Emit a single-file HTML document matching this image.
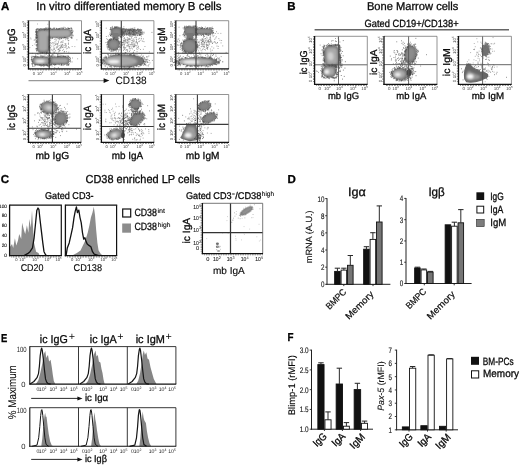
<!DOCTYPE html>
<html lang="en">
<head>
<meta charset="utf-8">
<title>Figure</title>
<style>
html,body{margin:0;padding:0;background:#fff;}
body{width:520px;height:466px;overflow:hidden;}
svg{display:block;font-family:"Liberation Sans", "DejaVu Sans", sans-serif;}
svg text{white-space:pre;text-rendering:geometricPrecision;}
</style>
</head>
<body>
<svg width="520" height="466" viewBox="0 0 520 466">
<rect x="0" y="0" width="520" height="466" fill="#ffffff"/>
<g opacity="0.999">
<defs>
<filter id="b1" x="-30%" y="-30%" width="160%" height="160%"><feGaussianBlur stdDeviation="0.8"/></filter>
<filter id="b2" x="-40%" y="-40%" width="180%" height="180%"><feGaussianBlur stdDeviation="1.1"/></filter>
<filter id="b0" x="-10%" y="-10%" width="120%" height="120%"><feGaussianBlur stdDeviation="0.45"/></filter>
<marker id="ah" markerWidth="6" markerHeight="5" refX="5" refY="2.5" orient="auto" markerUnits="userSpaceOnUse"><path d="M0 0L6 2.5L0 5z" fill="#111"/></marker>
</defs>
<text x="0.90" y="10.00" font-size="11.5" font-weight="bold" fill="#000" stroke="#000" stroke-width="0.3">A</text>
<text x="36.30" y="10.00" font-size="11.6" textLength="185.30" lengthAdjust="spacingAndGlyphs" fill="#0a0a0a" stroke="#0a0a0a" stroke-width="0.3">In vitro differentiated memory B cells</text>
<path d="M57.3 47.3h.1M57.5 43.6h.1M53.0 44.0h.1M66.2 46.9h.1M65.7 46.1h.1M61.6 45.8h.1M48.2 48.8h.1M62.3 47.2h.1M48.0 37.2h.1M53.2 42.9h.1M61.0 44.8h.1M62.4 42.1h.1M61.0 46.8h.1M54.7 52.7h.1M62.6 50.4h.1M55.0 41.7h.1M56.8 44.5h.1M63.1 46.1h.1M56.1 40.7h.1M55.6 50.5h.1M53.7 46.1h.1M61.8 38.3h.1M59.3 50.9h.1M45.9 43.6h.1M58.3 41.3h.1M62.2 44.7h.1M49.5 48.7h.1M63.4 49.3h.1M68.4 46.6h.1M59.8 39.2h.1M63.0 42.2h.1M56.1 39.3h.1M52.7 42.6h.1M67.4 35.9h.1M49.5 46.1h.1M68.4 47.6h.1M46.7 33.7h.1M61.3 41.7h.1M51.7 49.4h.1M66.2 45.7h.1M60.6 47.0h.1M69.4 47.8h.1M62.4 47.5h.1M48.8 50.8h.1M65.2 47.4h.1M46.2 42.1h.1M64.5 36.8h.1M57.8 49.6h.1M50.5 52.2h.1M62.6 44.3h.1M61.1 47.9h.1M59.8 50.2h.1M54.7 43.1h.1M65.8 45.1h.1M53.3 49.3h.1M68.5 43.0h.1M50.0 44.4h.1M58.0 43.7h.1M68.1 40.4h.1M67.2 39.3h.1M53.9 47.8h.1M66.3 48.9h.1M61.2 45.6h.1M60.0 47.6h.1M57.9 46.2h.1M62.7 45.0h.1M64.0 47.5h.1M72.1 46.5h.1M56.2 43.3h.1M58.9 49.2h.1M56.8 46.7h.1M70.9 33.5h.1M51.7 46.1h.1M61.6 46.1h.1M56.2 47.9h.1M60.8 42.7h.1M74.8 46.6h.1M55.4 44.6h.1M57.5 44.7h.1M41.3 42.8h.1M65.6 39.7h.1M58.6 49.3h.1M64.6 51.7h.1M47.9 43.4h.1M56.8 47.8h.1M66.1 32.9h.1M66.1 38.5h.1M63.4 38.3h.1M60.1 50.4h.1M58.0 45.9h.1M64.2 45.6h.1M58.4 51.9h.1M65.8 43.7h.1M76.8 39.8h.1M64.9 43.8h.1M59.9 48.2h.1M60.4 47.9h.1M49.1 38.2h.1M63.0 40.7h.1M52.3 38.4h.1M67.2 48.4h.1M68.6 40.8h.1M59.0 39.9h.1M64.0 52.2h.1M53.2 52.0h.1M65.4 44.2h.1M46.2 51.3h.1M58.4 42.3h.1M61.6 46.8h.1M68.7 40.4h.1M66.4 51.7h.1M68.4 44.2h.1M54.2 49.6h.1M59.7 45.6h.1M68.3 43.8h.1M44.1 43.3h.1M46.9 48.7h.1M61.1 42.2h.1M58.9 48.7h.1M59.5 51.0h.1M58.6 49.7h.1M68.7 52.2h.1M54.6 49.0h.1M46.8 40.1h.1M46.2 49.8h.1" stroke="#808080" stroke-width="0.70" stroke-linecap="round" fill="none"/>
<path d="M36.6 44.9h.1M42.8 44.8h.1M40.5 46.9h.1M54.7 45.4h.1M47.2 53.0h.1M42.8 34.9h.1M40.7 53.6h.1M34.1 40.2h.1M50.0 51.3h.1M44.0 51.4h.1M45.0 35.6h.1M34.6 39.9h.1M49.5 40.5h.1M38.6 38.8h.1M34.8 44.1h.1M36.9 47.9h.1M29.8 47.6h.1M40.2 29.5h.1M48.3 42.8h.1M30.6 38.0h.1M45.7 41.3h.1M48.7 51.0h.1M48.0 47.6h.1M52.0 50.3h.1M46.7 28.3h.1M49.4 55.5h.1M42.2 41.2h.1M55.6 30.9h.1M46.8 64.4h.1M38.4 50.5h.1M55.3 44.0h.1M47.4 52.2h.1M38.6 44.3h.1M45.8 51.6h.1M43.8 43.4h.1M37.9 42.1h.1M49.4 45.8h.1M38.9 38.3h.1M60.0 54.1h.1M47.8 24.3h.1M47.7 48.8h.1M54.1 48.4h.1M43.6 49.2h.1M32.3 53.3h.1M45.9 39.4h.1M52.0 59.5h.1M35.6 39.7h.1M45.7 46.5h.1M41.6 37.2h.1M56.7 53.3h.1M36.8 34.2h.1M54.2 52.9h.1M54.9 51.5h.1M38.8 47.1h.1M31.0 39.0h.1M43.6 49.2h.1M39.6 44.0h.1M46.8 48.0h.1M47.8 46.7h.1M42.1 51.3h.1M44.3 38.4h.1M40.2 45.0h.1M43.3 46.3h.1M44.0 46.4h.1M43.2 34.9h.1M46.5 53.4h.1M46.6 43.5h.1M46.7 37.3h.1M32.6 45.5h.1M38.4 50.9h.1M37.5 24.0h.1M37.8 57.6h.1M41.7 34.0h.1M39.4 49.2h.1M47.0 46.4h.1M52.9 50.7h.1M43.9 49.8h.1M53.9 52.8h.1M50.1 36.3h.1M43.1 50.8h.1M42.2 53.6h.1M47.6 52.3h.1M42.7 65.4h.1M51.4 43.3h.1M44.5 65.8h.1M41.9 52.0h.1M49.9 45.1h.1M37.0 46.5h.1M46.2 54.0h.1M48.7 45.2h.1" stroke="#888" stroke-width="0.70" stroke-linecap="round" fill="none"/>
<path d="M61.4 61.9h.1M54.3 60.2h.1M49.3 62.5h.1M40.4 57.7h.1M52.1 54.7h.1M47.2 52.8h.1M44.5 62.0h.1M58.2 59.8h.1M49.4 54.9h.1M72.1 61.9h.1M64.0 56.8h.1M50.0 53.4h.1M60.6 63.4h.1M31.1 59.8h.1M58.9 53.7h.1M31.9 56.2h.1M45.1 54.9h.1M52.3 60.9h.1M59.0 62.5h.1M68.5 64.2h.1M37.6 58.2h.1M40.3 56.1h.1M51.1 60.0h.1M57.4 54.3h.1M38.4 59.9h.1M49.8 58.9h.1M51.3 57.3h.1M59.7 61.3h.1M51.0 57.6h.1M50.1 50.2h.1M41.2 60.1h.1M35.5 60.7h.1M53.6 55.0h.1M49.2 58.9h.1M57.1 62.2h.1M51.6 56.9h.1M50.4 59.8h.1M60.1 61.1h.1M44.1 55.1h.1M47.9 57.3h.1M39.8 59.6h.1M46.6 60.4h.1M57.8 58.5h.1M77.6 58.8h.1M64.1 60.4h.1M64.3 51.4h.1M43.7 60.9h.1M55.5 64.6h.1M60.4 63.4h.1M57.6 59.4h.1M57.6 56.1h.1M65.0 56.3h.1M54.7 67.6h.1M49.5 60.1h.1M64.8 60.1h.1M43.1 60.9h.1M58.4 62.6h.1M43.5 66.3h.1M70.3 60.1h.1M55.0 58.5h.1M67.6 57.5h.1M59.4 58.3h.1M44.4 62.6h.1M66.7 60.0h.1M44.5 62.9h.1M51.5 61.1h.1M68.8 64.1h.1M52.0 62.8h.1M44.9 59.8h.1M32.8 66.4h.1M67.0 55.6h.1M35.4 54.2h.1M64.9 58.3h.1M51.3 58.9h.1M50.7 56.1h.1M52.3 54.8h.1M51.2 61.1h.1M57.1 59.2h.1M42.1 60.6h.1M46.7 65.6h.1M60.4 59.6h.1M46.8 57.5h.1M41.7 58.7h.1M55.2 61.9h.1M58.3 67.6h.1M44.2 60.0h.1M46.3 60.6h.1M53.7 61.5h.1M49.4 61.3h.1M52.6 62.8h.1M31.2 56.8h.1M52.0 56.3h.1M40.5 62.3h.1M44.9 62.3h.1M60.2 61.1h.1M57.6 59.6h.1M36.5 59.9h.1M57.0 58.1h.1M50.9 62.7h.1M42.3 62.3h.1M72.5 58.0h.1M53.6 59.5h.1M68.9 61.1h.1M61.9 57.5h.1M51.8 60.0h.1M32.5 65.2h.1M61.9 53.7h.1M60.2 59.5h.1M56.9 61.3h.1M35.5 59.2h.1M68.4 57.9h.1M40.7 55.1h.1M38.6 61.2h.1M70.6 61.5h.1M46.3 57.6h.1M57.8 62.0h.1" stroke="#777" stroke-width="0.70" stroke-linecap="round" fill="none"/>
<rect x="36.60" y="29.00" width="35.20" height="8.80" rx="4.2" fill="#767676" filter="url(#b0)" transform="rotate(-1.5 54.20 33.40)"/>
<rect x="38.10" y="30.50" width="32.20" height="5.80" rx="2.70" fill="#a8a8a8" filter="url(#b1)" transform="rotate(-1.5 54.20 33.40)"/>
<path d="M48.7 37.9h.1M42.7 29.2h.1M38.9 38.6h.1M56.2 28.8h.1M45.6 38.4h.1M71.7 33.9h.1M35.9 34.7h.1M72.8 35.1h.1M57.1 29.1h.1M54.8 39.4h.1M63.5 28.1h.1M52.1 37.8h.1M71.6 30.3h.1M35.7 31.7h.1M56.4 28.5h.1M71.7 30.4h.1M52.8 38.0h.1M57.8 38.7h.1M37.2 38.6h.1M63.9 27.2h.1M64.9 37.4h.1M59.6 38.0h.1M62.4 28.2h.1M53.0 29.0h.1M56.1 28.2h.1M36.3 33.8h.1M49.4 28.9h.1M36.6 36.0h.1M49.0 29.1h.1M71.1 28.7h.1M71.8 38.0h.1M36.2 38.1h.1M36.5 32.2h.1M36.4 32.6h.1M58.4 38.5h.1M69.8 28.6h.1M69.4 28.6h.1M36.7 29.3h.1M61.1 28.0h.1M47.3 28.0h.1M36.7 35.1h.1M65.0 38.0h.1M65.0 37.5h.1M71.7 35.0h.1M69.3 28.4h.1M68.5 28.6h.1M71.7 37.9h.1M64.2 37.5h.1M60.2 37.6h.1M42.0 29.5h.1M36.7 31.2h.1M71.8 38.3h.1M66.3 28.6h.1M47.1 39.5h.1M59.6 28.9h.1M60.7 28.4h.1M36.8 29.6h.1M48.5 39.3h.1M36.3 33.3h.1M71.7 35.2h.1M36.2 34.5h.1M58.6 28.9h.1M73.2 31.1h.1M52.6 29.2h.1M63.3 37.5h.1M60.7 38.7h.1M46.2 38.1h.1M68.3 28.3h.1M61.6 37.8h.1M59.0 37.7h.1M58.2 28.9h.1M41.3 38.0h.1M65.1 27.5h.1M36.7 37.2h.1M59.8 28.8h.1M71.9 37.2h.1M55.2 38.1h.1M71.7 30.0h.1M47.3 38.3h.1M67.3 38.3h.1M51.2 38.7h.1M62.3 28.1h.1M42.6 38.7h.1M54.0 28.4h.1M58.3 29.1h.1M70.5 37.6h.1M43.6 38.2h.1M36.3 37.6h.1M37.4 38.2h.1M50.2 39.0h.1M36.3 37.5h.1M64.8 37.8h.1M66.7 37.4h.1M62.3 28.9h.1M47.0 28.7h.1M44.1 39.6h.1M35.8 32.1h.1M72.6 32.8h.1M59.4 28.8h.1M45.8 27.8h.1M45.2 38.2h.1M68.9 28.5h.1M48.9 29.2h.1M45.5 38.3h.1M50.1 37.7h.1M65.3 28.8h.1M52.4 37.9h.1M54.4 28.6h.1M62.7 37.6h.1M45.4 29.4h.1M71.2 27.8h.1M44.5 29.1h.1M50.9 29.0h.1M61.4 28.3h.1M63.5 28.4h.1M42.6 38.1h.1M67.9 27.6h.1M36.2 38.0h.1M68.5 28.5h.1M54.4 28.1h.1M37.0 29.0h.1M64.9 37.7h.1M72.1 29.1h.1M50.8 28.8h.1M37.8 28.7h.1M36.4 30.3h.1M44.3 29.0h.1M37.1 38.5h.1M49.3 29.1h.1M35.9 31.7h.1M46.0 28.1h.1M36.8 35.3h.1M53.8 28.0h.1M35.7 36.1h.1M73.2 35.8h.1M70.6 28.2h.1M35.8 29.9h.1M50.6 28.4h.1M61.9 37.5h.1M67.2 38.0h.1M65.7 37.5h.1M71.6 28.3h.1M38.3 38.3h.1M58.2 28.9h.1M56.5 37.7h.1M42.2 38.0h.1M59.4 38.8h.1M46.8 29.1h.1M45.5 38.8h.1M63.4 28.7h.1M72.2 30.3h.1M50.7 38.1h.1M71.7 32.7h.1M47.2 37.8h.1M71.8 36.4h.1M61.4 38.6h.1M72.0 33.7h.1M45.9 28.7h.1M47.8 29.1h.1M71.7 32.2h.1M37.6 39.0h.1M43.7 29.2h.1M57.3 37.7h.1M41.2 28.7h.1M37.1 39.3h.1M48.4 28.2h.1M68.2 38.4h.1M64.4 37.4h.1M53.5 28.4h.1M36.7 34.4h.1M36.1 30.9h.1M35.7 32.2h.1M42.2 28.8h.1M50.4 28.3h.1M71.6 37.3h.1M49.1 28.1h.1M36.9 38.5h.1M59.6 28.8h.1M37.2 38.1h.1M52.5 29.1h.1M50.7 28.3h.1M71.5 37.6h.1M51.3 29.2h.1M39.4 38.3h.1M48.7 38.6h.1M41.6 39.0h.1M43.8 38.1h.1M36.7 37.6h.1M48.2 38.7h.1M59.8 28.3h.1M36.3 37.4h.1M60.0 37.8h.1M72.1 32.3h.1M40.7 28.5h.1M64.9 37.3h.1M35.9 36.9h.1M44.3 38.2h.1M36.6 29.1h.1M39.5 29.0h.1M72.3 31.4h.1M37.8 38.3h.1M56.5 28.9h.1M50.2 37.8h.1M67.7 28.8h.1M45.8 29.1h.1M44.1 38.3h.1M44.6 38.1h.1M72.6 35.1h.1M48.3 28.9h.1M49.6 29.1h.1M44.9 28.5h.1M61.6 38.5h.1M71.5 28.7h.1M49.5 37.8h.1M42.2 38.5h.1M72.4 32.4h.1M36.7 32.7h.1M36.2 29.8h.1M40.3 28.9h.1M57.4 29.0h.1" stroke="#505050" stroke-width="0.55" stroke-linecap="round" fill="none"/>
<rect x="36.90" y="30.00" width="12.40" height="22.80" rx="4.5" fill="#767676" filter="url(#b0)"/>
<rect x="38.40" y="31.50" width="9.40" height="19.80" rx="3.00" fill="#a8a8a8" filter="url(#b1)"/>
<path d="M41.0 30.2h.1M40.5 52.7h.1M36.8 48.6h.1M44.5 53.0h.1M37.4 53.4h.1M49.2 29.2h.1M49.2 39.4h.1M36.9 45.0h.1M37.1 37.5h.1M37.0 41.8h.1M36.0 34.9h.1M49.3 49.5h.1M49.5 33.5h.1M39.6 29.9h.1M49.1 41.2h.1M36.0 41.9h.1M37.0 32.5h.1M50.0 48.3h.1M36.6 37.9h.1M46.9 52.7h.1M36.8 50.3h.1M38.0 28.8h.1M49.2 35.9h.1M35.9 48.9h.1M36.4 34.9h.1M50.4 40.7h.1M49.9 34.4h.1M36.6 31.2h.1M48.5 53.4h.1M37.0 41.5h.1M36.6 31.5h.1M36.5 33.4h.1M41.9 52.8h.1M45.5 53.1h.1M42.4 29.9h.1M38.8 30.0h.1M44.4 29.6h.1M46.9 29.9h.1M38.9 29.2h.1M46.3 52.9h.1M37.1 31.5h.1M43.3 52.9h.1M49.6 43.2h.1M35.9 45.1h.1M41.5 29.2h.1M36.0 48.9h.1M44.4 30.1h.1M39.3 29.9h.1M36.7 42.1h.1M36.2 40.5h.1M46.2 52.7h.1M43.8 29.9h.1M36.9 35.7h.1M49.7 47.4h.1M38.4 30.2h.1M36.5 32.8h.1M49.9 43.5h.1M37.2 54.2h.1M37.0 42.3h.1M49.2 46.7h.1M49.2 48.3h.1M36.5 32.0h.1M39.6 52.9h.1M43.3 28.8h.1M37.1 40.1h.1M49.1 31.8h.1M37.0 36.1h.1M49.1 52.2h.1M49.2 52.2h.1M49.5 52.4h.1M49.4 42.0h.1M36.6 48.8h.1M49.3 37.6h.1M50.2 52.7h.1M44.6 30.0h.1M36.9 37.9h.1M36.9 31.5h.1M50.1 42.6h.1M50.3 45.8h.1M43.0 29.3h.1M36.6 44.9h.1M49.2 36.1h.1M36.4 45.8h.1M37.1 44.6h.1M49.9 34.0h.1M36.9 35.5h.1M36.7 35.4h.1M49.6 40.6h.1M47.8 29.6h.1M36.2 34.6h.1M48.8 29.1h.1M42.5 53.1h.1M45.8 28.8h.1M49.4 34.4h.1M49.4 31.1h.1M36.1 41.8h.1M47.8 29.9h.1M49.5 40.6h.1M38.5 52.9h.1M49.6 30.9h.1M37.1 51.1h.1M36.8 50.2h.1M44.1 28.7h.1M35.8 38.4h.1M36.7 34.0h.1M46.6 52.8h.1M44.4 30.0h.1M39.3 29.5h.1M49.4 45.7h.1M36.9 53.6h.1M46.2 53.0h.1M44.2 52.7h.1M49.2 46.1h.1M50.6 47.9h.1M42.1 52.6h.1M49.8 33.7h.1M36.2 33.2h.1M36.3 31.7h.1M36.7 42.4h.1M50.0 49.6h.1M49.3 39.6h.1M49.3 47.1h.1M36.9 37.5h.1M50.1 35.2h.1M50.0 47.4h.1M49.4 46.4h.1M49.2 53.0h.1M47.8 52.8h.1M36.5 37.2h.1M36.6 51.0h.1M39.6 29.8h.1M37.0 37.4h.1M36.8 48.6h.1M42.1 52.6h.1M39.8 52.8h.1M46.7 53.4h.1M36.4 40.8h.1M37.0 49.1h.1M49.4 32.4h.1M36.5 36.1h.1M45.5 29.5h.1M40.9 30.1h.1M49.2 36.9h.1M49.2 47.1h.1M49.3 47.2h.1M49.7 36.3h.1M49.2 33.4h.1M38.8 54.3h.1M49.3 33.0h.1M49.8 32.5h.1M46.0 30.0h.1M46.4 53.9h.1M49.6 50.6h.1M36.9 50.3h.1M49.9 42.5h.1M36.1 39.9h.1M49.3 50.6h.1M45.7 29.4h.1M36.3 41.1h.1M50.2 36.4h.1M49.1 44.1h.1M49.8 30.7h.1M37.1 30.1h.1M49.7 34.8h.1M49.8 38.8h.1M46.6 52.7h.1M48.1 53.6h.1M35.9 42.6h.1M40.9 29.5h.1M35.8 37.6h.1M46.8 29.7h.1M38.0 29.3h.1M37.7 29.2h.1M49.4 35.2h.1M44.0 29.9h.1M36.7 37.1h.1" stroke="#505050" stroke-width="0.55" stroke-linecap="round" fill="none"/>
<rect x="38.6" y="31.0" width="31" height="5.0" rx="2.5" fill="#a8a8a8" filter="url(#b1)"/>
<rect x="32.40" y="56.80" width="17.60" height="8.20" rx="4.0" fill="#767676" filter="url(#b0)"/>
<rect x="33.90" y="58.30" width="14.60" height="5.20" rx="2.50" fill="#a8a8a8" filter="url(#b1)"/>
<ellipse cx="40.20" cy="61.30" rx="4.60" ry="1.70" fill="#f2f2f2" filter="url(#b1)"/>
<path d="M50.7 57.1h.1M47.5 66.0h.1M41.1 56.3h.1M46.9 65.4h.1M41.1 65.8h.1M49.9 65.6h.1M42.6 56.7h.1M44.9 65.6h.1M50.5 61.8h.1M46.0 56.4h.1M44.5 56.5h.1M35.4 56.4h.1M50.3 63.3h.1M50.4 64.9h.1M34.4 64.9h.1M50.0 64.9h.1M50.8 63.3h.1M50.0 65.2h.1M51.4 58.5h.1M36.3 56.1h.1M39.5 64.9h.1M38.1 64.9h.1M41.8 65.4h.1M32.3 64.1h.1M32.9 66.3h.1M34.1 56.9h.1M43.7 65.2h.1M32.1 57.9h.1M50.6 58.1h.1M46.4 64.9h.1M43.3 56.3h.1M35.2 65.1h.1M49.3 65.1h.1M51.1 60.0h.1M32.6 64.9h.1M31.8 63.7h.1M40.4 65.0h.1M48.8 56.4h.1M47.8 56.1h.1M47.1 65.3h.1M34.5 56.8h.1M34.7 66.2h.1M35.0 57.0h.1M42.2 56.9h.1M31.8 60.9h.1M47.3 65.4h.1M31.9 60.3h.1M38.9 65.4h.1M42.5 65.7h.1M43.4 56.4h.1M41.0 65.9h.1M37.6 56.7h.1M41.8 55.8h.1M32.3 60.6h.1M40.4 65.7h.1M47.2 65.8h.1M35.6 64.8h.1M50.4 61.0h.1M48.8 56.1h.1M32.2 61.6h.1M35.2 56.8h.1M38.5 56.9h.1M48.4 66.2h.1M50.5 62.2h.1M33.1 56.3h.1M32.0 61.8h.1M31.9 64.0h.1M37.7 56.9h.1M39.9 64.9h.1M33.2 56.6h.1M32.6 56.9h.1M32.3 63.3h.1M36.9 56.7h.1M33.3 56.7h.1M43.7 64.9h.1M42.1 55.9h.1M35.0 56.8h.1M31.5 57.5h.1M44.3 65.7h.1M43.2 65.3h.1M50.3 63.0h.1M32.4 63.2h.1M43.6 64.9h.1M40.2 64.8h.1M48.8 65.3h.1M44.2 65.1h.1M41.0 56.5h.1M35.5 56.4h.1M50.5 58.2h.1M41.5 65.1h.1M39.9 56.8h.1M39.9 65.4h.1M39.1 65.4h.1M47.2 65.1h.1M32.4 62.2h.1M47.5 56.1h.1M35.5 55.9h.1M49.3 65.0h.1M49.5 55.5h.1M49.5 66.0h.1M37.6 65.1h.1M31.9 59.2h.1M50.2 58.6h.1M31.7 59.6h.1M48.3 64.8h.1M46.0 57.0h.1M50.9 61.0h.1M31.9 59.2h.1M34.6 56.4h.1M31.5 58.1h.1M36.1 65.0h.1M48.2 66.2h.1M41.9 65.4h.1M36.8 56.7h.1M35.2 64.9h.1M45.3 65.2h.1M32.5 61.5h.1M41.6 65.8h.1M49.9 63.2h.1M45.4 65.3h.1M47.4 65.1h.1M48.2 64.9h.1M46.4 64.9h.1M31.7 59.7h.1M31.8 59.1h.1M37.0 64.9h.1M42.2 56.8h.1M42.8 65.2h.1M50.5 57.9h.1" stroke="#505050" stroke-width="0.55" stroke-linecap="round" fill="none"/>
<rect x="50.00" y="56.80" width="19.40" height="7.60" rx="3.6" fill="#767676" filter="url(#b0)"/>
<rect x="51.50" y="58.30" width="16.40" height="4.60" rx="2.10" fill="#a8a8a8" filter="url(#b1)"/>
<path d="M50.9 64.5h.1M58.0 54.7h.1M69.9 57.6h.1M55.7 56.2h.1M58.4 56.1h.1M55.2 64.7h.1M51.1 56.3h.1M51.8 55.6h.1M69.3 63.7h.1M53.6 64.3h.1M70.4 60.4h.1M50.1 61.5h.1M48.9 62.4h.1M63.7 56.5h.1M59.8 56.9h.1M54.5 56.2h.1M49.9 57.4h.1M70.7 62.1h.1M53.5 56.5h.1M55.3 64.5h.1M50.0 62.2h.1M63.9 56.1h.1M49.8 62.0h.1M59.2 64.8h.1M58.6 56.5h.1M49.7 62.6h.1M52.1 57.0h.1M63.8 56.1h.1M49.0 59.2h.1M68.2 65.4h.1M61.3 64.6h.1M57.9 64.4h.1M57.8 57.0h.1M63.8 65.2h.1M66.1 56.6h.1M54.9 64.2h.1M67.5 56.7h.1M63.9 56.4h.1M59.1 56.4h.1M62.9 56.3h.1M50.7 56.2h.1M61.7 64.3h.1M50.0 60.5h.1M61.9 55.7h.1M49.6 58.4h.1M57.5 56.7h.1M50.1 60.6h.1M68.5 64.7h.1M68.3 56.4h.1M67.4 65.2h.1M57.7 56.9h.1M62.0 56.0h.1M52.9 64.6h.1M57.8 56.6h.1M69.6 59.6h.1M58.4 56.8h.1M68.1 55.7h.1M59.1 56.4h.1M50.2 59.2h.1M56.2 56.8h.1M50.2 58.7h.1M59.1 64.4h.1M65.5 56.2h.1M63.9 56.8h.1M49.6 63.9h.1M49.9 64.3h.1M65.6 56.9h.1M49.1 58.8h.1M65.9 56.6h.1M48.9 63.2h.1M68.4 56.9h.1M57.6 55.7h.1M51.4 64.2h.1M60.0 55.6h.1M61.8 56.4h.1M53.9 64.5h.1M64.6 64.5h.1M61.4 64.3h.1M54.7 56.7h.1M55.9 64.8h.1M61.1 57.0h.1M56.1 64.5h.1M54.5 65.4h.1M60.9 56.0h.1M69.7 59.4h.1M62.0 65.4h.1M68.1 56.6h.1M68.5 64.7h.1M50.8 56.4h.1M48.8 59.6h.1M64.4 56.8h.1M60.0 56.7h.1M58.8 56.4h.1M69.3 57.4h.1M51.1 64.2h.1M69.6 61.5h.1M61.6 64.2h.1M67.1 64.6h.1M61.4 64.7h.1M69.2 58.0h.1M50.0 57.5h.1M49.4 61.9h.1M51.6 64.2h.1M52.0 66.0h.1M62.1 56.8h.1M59.8 56.6h.1M67.1 64.5h.1M51.6 56.1h.1M60.5 56.4h.1M51.0 56.3h.1M51.2 64.7h.1M60.9 65.3h.1M61.7 65.1h.1M52.4 56.4h.1M50.0 64.8h.1M65.1 56.5h.1M57.4 56.5h.1M55.0 64.5h.1M53.9 64.5h.1M63.3 64.9h.1M49.1 61.0h.1M70.4 58.4h.1M51.4 64.8h.1M70.3 58.8h.1M68.3 56.6h.1M63.0 56.6h.1M49.6 63.4h.1M66.4 65.3h.1M68.8 64.9h.1M52.9 55.2h.1M50.0 60.9h.1M63.5 56.1h.1M69.7 57.1h.1M51.7 64.9h.1M50.3 64.5h.1" stroke="#505050" stroke-width="0.55" stroke-linecap="round" fill="none"/>
<line x1="49.20" y1="20.70" x2="49.20" y2="68.80" stroke="#3a3a3a" stroke-width="1.1"/>
<line x1="28.50" y1="53.30" x2="81.50" y2="53.30" stroke="#3a3a3a" stroke-width="1.1"/>
<line x1="28.50" y1="20.70" x2="81.50" y2="20.70" stroke="#666" stroke-width="0.7"/>
<line x1="81.50" y1="20.70" x2="81.50" y2="68.80" stroke="#666" stroke-width="0.7"/>
<line x1="28.50" y1="20.40" x2="28.50" y2="69.40" stroke="#111" stroke-width="1.3"/>
<line x1="27.90" y1="68.80" x2="81.80" y2="68.80" stroke="#111" stroke-width="1.3"/>
<line x1="30.50" y1="69.90" x2="81.50" y2="69.90" stroke="#222" stroke-width="1.0" stroke-dasharray="0.5 1.1"/>
<line x1="27.40" y1="20.70" x2="27.40" y2="66.80" stroke="#222" stroke-width="1.0" stroke-dasharray="0.5 1.1"/>
<text x="33.80" y="74.60" font-size="4.2" text-anchor="middle" fill="#444">0</text>
<text x="40.16" y="74.60" font-size="4.2" text-anchor="middle" fill="#444">10<tspan dy="-1.76" font-size="2.86">2</tspan></text>
<text x="53.41" y="74.60" font-size="4.2" text-anchor="middle" fill="#444">10<tspan dy="-1.76" font-size="2.86">3</tspan></text>
<text x="67.19" y="74.60" font-size="4.2" text-anchor="middle" fill="#444">10<tspan dy="-1.76" font-size="2.86">4</tspan></text>
<text x="79.38" y="74.60" font-size="4.2" text-anchor="middle" fill="#444">10<tspan dy="-1.76" font-size="2.86">5</tspan></text>
<text x="26.10" y="65.43" font-size="4.2" text-anchor="middle" transform="rotate(-90 26.10 65.43)" fill="#444">0</text>
<text x="26.10" y="59.18" font-size="4.2" text-anchor="middle" transform="rotate(-90 26.10 59.18)" fill="#444">10<tspan dy="-1.76" font-size="2.86">2</tspan></text>
<text x="26.10" y="47.16" font-size="4.2" text-anchor="middle" transform="rotate(-90 26.10 47.16)" fill="#444">10<tspan dy="-1.76" font-size="2.86">3</tspan></text>
<text x="26.10" y="35.13" font-size="4.2" text-anchor="middle" transform="rotate(-90 26.10 35.13)" fill="#444">10<tspan dy="-1.76" font-size="2.86">4</tspan></text>
<text x="26.10" y="24.07" font-size="4.2" text-anchor="middle" transform="rotate(-90 26.10 24.07)" fill="#444">10<tspan dy="-1.76" font-size="2.86">5</tspan></text>
<path d="M134.8 43.4h.1M142.9 41.4h.1M140.1 40.3h.1M136.3 33.3h.1M132.4 42.1h.1M127.5 39.9h.1M128.6 39.4h.1M115.6 40.0h.1M127.2 40.4h.1M123.6 42.3h.1M136.5 41.7h.1M127.6 49.8h.1M137.8 47.6h.1M139.1 41.4h.1M130.1 48.6h.1M127.1 42.4h.1M133.6 44.9h.1M129.1 47.9h.1M129.8 46.6h.1M138.5 46.3h.1M136.1 37.2h.1M121.8 39.9h.1M134.3 50.5h.1M122.4 44.5h.1M125.0 39.3h.1M129.1 46.5h.1M132.5 48.9h.1M124.1 47.4h.1M137.5 43.3h.1M134.3 40.2h.1M123.4 41.0h.1M126.5 57.5h.1M127.6 51.3h.1M132.4 44.6h.1M136.2 39.1h.1M137.4 44.9h.1M120.4 46.0h.1M134.9 45.3h.1M142.1 40.9h.1M134.6 46.7h.1M124.7 49.0h.1M120.8 36.5h.1M134.7 37.6h.1M130.2 34.8h.1M131.5 37.3h.1M133.4 35.3h.1M134.1 41.7h.1M131.4 42.7h.1M131.9 36.4h.1M113.0 43.2h.1M124.4 40.7h.1M134.0 33.1h.1M125.7 39.9h.1M123.6 44.6h.1M130.0 38.9h.1M124.1 47.0h.1M126.4 45.9h.1M134.1 33.5h.1M123.4 43.0h.1M133.4 46.9h.1M136.6 48.2h.1M128.4 41.9h.1M136.4 40.9h.1M138.4 35.1h.1M135.6 42.1h.1M117.2 47.9h.1M133.2 43.1h.1M123.5 40.7h.1M141.6 38.9h.1M106.7 38.7h.1M122.6 42.3h.1M128.2 38.4h.1M125.1 48.2h.1M120.9 52.8h.1M127.2 37.5h.1M136.5 45.8h.1M123.7 46.7h.1M118.1 38.4h.1M138.9 41.7h.1M121.9 45.6h.1M137.4 42.9h.1M118.4 41.3h.1M133.9 46.8h.1M144.0 41.7h.1M127.6 42.8h.1M139.4 38.3h.1M140.1 29.3h.1M136.6 39.6h.1M134.2 46.4h.1M122.7 42.6h.1M132.7 45.9h.1M124.5 38.0h.1M117.5 55.7h.1M129.7 41.9h.1M120.5 47.6h.1M127.3 50.2h.1M137.0 43.1h.1M136.1 37.4h.1M128.7 40.1h.1M122.1 43.1h.1M130.0 50.2h.1M107.5 39.6h.1M124.6 40.7h.1M134.0 45.0h.1M131.2 40.6h.1M134.5 44.8h.1M118.1 41.7h.1M121.4 37.1h.1M132.0 43.3h.1M131.8 38.6h.1M129.6 38.4h.1M133.7 46.4h.1M143.3 49.3h.1M125.4 40.7h.1M124.4 44.5h.1M144.9 46.5h.1M115.6 36.7h.1M122.0 45.6h.1M131.0 44.5h.1M143.5 38.9h.1M125.1 52.8h.1M133.4 39.1h.1M116.8 35.4h.1M113.9 43.3h.1M131.3 48.0h.1M130.0 39.5h.1M125.8 52.5h.1M118.6 43.9h.1M131.2 46.1h.1M128.2 45.5h.1M136.7 42.3h.1M127.8 42.1h.1M124.2 42.0h.1M128.9 44.1h.1M140.4 49.5h.1M127.9 46.0h.1M133.1 46.8h.1M131.2 44.3h.1M127.7 39.1h.1M137.1 49.5h.1M135.6 45.2h.1M132.9 40.7h.1M118.5 46.3h.1M132.4 40.2h.1M124.2 49.4h.1M118.4 51.8h.1M135.5 54.9h.1M126.0 42.9h.1M127.5 43.8h.1M129.5 39.3h.1M138.5 39.1h.1M127.4 45.8h.1M127.2 40.8h.1M133.5 41.2h.1M122.3 42.5h.1M129.5 51.5h.1M123.3 47.8h.1M125.5 41.2h.1M128.7 44.4h.1M137.0 51.7h.1M126.5 49.6h.1M138.0 47.1h.1M125.7 47.5h.1M130.2 44.8h.1M129.1 46.3h.1M138.8 48.7h.1M129.6 48.0h.1M141.2 38.3h.1M141.3 36.3h.1M134.8 46.0h.1" stroke="#777" stroke-width="0.70" stroke-linecap="round" fill="none"/>
<path d="M124.9 42.0h.1M113.1 34.4h.1M108.5 45.4h.1M114.6 35.0h.1M119.2 34.6h.1M113.4 36.8h.1M125.9 50.2h.1M115.1 29.0h.1M117.7 40.5h.1M118.1 44.0h.1M114.1 46.5h.1M121.0 41.5h.1M113.6 36.6h.1M120.2 32.3h.1M115.0 34.8h.1M107.6 44.2h.1M115.8 40.3h.1M121.2 29.5h.1M115.6 42.0h.1M121.0 32.4h.1M120.3 41.5h.1M124.1 48.0h.1M119.3 55.0h.1M116.0 37.0h.1M114.0 33.4h.1M115.8 26.9h.1M115.5 43.0h.1M121.9 37.6h.1M124.3 35.4h.1M115.2 26.9h.1M111.4 34.5h.1M124.8 43.6h.1M109.5 43.6h.1M118.8 38.4h.1M116.1 37.9h.1M112.8 27.9h.1M115.5 48.8h.1M124.4 38.1h.1M111.6 38.6h.1M121.3 42.4h.1M112.6 42.5h.1M114.8 43.5h.1M113.6 30.0h.1M116.3 45.2h.1M109.5 39.3h.1M121.1 37.4h.1M112.2 53.9h.1M120.9 47.0h.1M110.5 51.1h.1M106.3 36.5h.1M120.3 49.1h.1M110.6 35.5h.1M117.1 26.9h.1M119.7 43.8h.1M113.4 43.7h.1M120.5 42.1h.1M119.0 50.3h.1M113.2 41.1h.1M113.0 47.0h.1M113.6 43.2h.1M116.8 40.5h.1M126.0 39.4h.1M124.2 45.6h.1M123.7 38.9h.1M121.4 45.1h.1M112.4 41.8h.1M115.3 39.8h.1M123.6 35.1h.1M106.2 28.2h.1M113.4 35.6h.1M116.1 43.8h.1M126.2 42.1h.1M118.7 35.0h.1M119.4 49.2h.1M123.8 26.8h.1M121.2 50.7h.1M120.8 29.9h.1M114.2 44.0h.1M118.4 34.5h.1M110.9 46.5h.1M108.3 49.7h.1M116.1 42.0h.1M108.3 36.0h.1M120.0 30.1h.1M128.0 30.5h.1M108.9 40.3h.1M118.8 44.9h.1M113.9 38.6h.1M114.6 36.1h.1" stroke="#777" stroke-width="0.70" stroke-linecap="round" fill="none"/>
<path d="M129.1 60.6h.1M118.1 61.0h.1M125.8 59.7h.1M139.8 53.4h.1M129.1 55.9h.1M122.0 65.8h.1M112.5 59.6h.1M118.6 63.6h.1M113.8 53.5h.1M132.4 58.6h.1M122.0 64.2h.1M114.9 58.6h.1M127.8 61.6h.1M119.5 64.0h.1M149.3 51.9h.1M143.6 58.7h.1M127.7 58.7h.1M118.1 55.1h.1M121.1 65.0h.1M140.2 58.7h.1M119.4 57.3h.1M111.0 66.9h.1M134.3 60.5h.1M119.9 56.1h.1M142.4 63.0h.1M114.1 63.8h.1M112.2 62.5h.1M114.0 58.4h.1M132.2 61.7h.1M138.6 56.8h.1M145.7 65.2h.1M125.9 61.8h.1M116.3 59.4h.1M109.5 60.3h.1M128.5 65.2h.1M137.8 63.1h.1M121.5 59.1h.1M121.7 60.9h.1M106.4 58.0h.1M126.3 58.0h.1M146.8 59.6h.1M145.6 64.5h.1M119.8 61.5h.1M142.2 58.7h.1M127.1 57.9h.1M126.7 58.6h.1M127.0 63.8h.1M143.4 60.5h.1M128.5 63.3h.1M122.4 55.9h.1M139.9 56.4h.1M137.6 56.3h.1M148.8 56.0h.1M136.6 65.8h.1M114.0 65.7h.1M115.7 53.2h.1M135.0 62.7h.1M123.5 50.3h.1M125.3 58.8h.1M121.3 58.9h.1M103.7 57.8h.1M148.5 65.9h.1M121.5 57.3h.1M130.9 64.1h.1M135.0 55.5h.1M128.0 60.5h.1M144.0 64.6h.1M132.5 64.7h.1M121.1 65.9h.1M120.7 61.5h.1M137.5 56.5h.1M117.2 53.2h.1M128.1 59.8h.1M121.9 61.9h.1M127.1 59.0h.1M135.9 66.7h.1M120.4 56.4h.1M118.5 60.4h.1M133.3 56.7h.1M138.5 56.1h.1M136.3 61.6h.1M122.7 59.4h.1M131.9 63.3h.1M109.3 61.1h.1M116.7 62.4h.1M143.1 60.2h.1M124.7 60.7h.1M133.0 60.6h.1M121.1 57.2h.1M123.8 64.7h.1M124.7 65.2h.1M129.4 59.9h.1M105.3 57.4h.1M141.6 55.0h.1M113.6 55.8h.1M119.1 62.5h.1M133.4 52.2h.1M144.2 57.7h.1M118.7 66.4h.1M125.0 55.2h.1M118.0 57.2h.1M113.4 58.7h.1M137.0 61.3h.1M113.6 60.4h.1M126.4 62.9h.1M121.9 61.8h.1M152.3 60.4h.1M112.5 61.3h.1M116.0 58.6h.1M128.3 61.3h.1M122.5 63.3h.1M123.6 55.0h.1M137.0 58.6h.1M141.1 57.5h.1M133.1 61.2h.1M112.0 65.4h.1M102.4 63.5h.1M139.6 61.9h.1M134.4 58.1h.1M125.9 60.9h.1M131.3 62.7h.1M123.4 57.3h.1" stroke="#666" stroke-width="0.70" stroke-linecap="round" fill="none"/>
<rect x="122.00" y="29.60" width="19.00" height="5.00" rx="2.4" fill="#808080" filter="url(#b0)"/>
<rect x="123.20" y="30.80" width="16.60" height="2.60" rx="1.20" fill="#a0a0a0" filter="url(#b1)"/>
<path d="M141.1 29.8h.1M139.5 35.3h.1M129.1 34.8h.1M121.1 32.8h.1M126.8 35.5h.1M140.0 35.0h.1M138.4 29.5h.1M123.8 34.7h.1M140.0 35.4h.1M132.2 28.6h.1M137.7 29.8h.1M141.8 30.1h.1M130.6 34.5h.1M141.0 30.5h.1M124.2 29.4h.1M141.3 34.3h.1M126.7 34.4h.1M122.7 29.0h.1M120.3 31.0h.1M124.7 29.0h.1M127.5 34.5h.1M126.5 29.2h.1M129.5 29.1h.1M126.3 28.9h.1M137.1 35.2h.1M126.2 34.8h.1M124.6 34.9h.1M137.9 29.0h.1M133.6 34.5h.1M134.6 35.5h.1M135.2 34.8h.1M121.1 33.5h.1M141.0 32.4h.1M121.4 31.8h.1M128.3 29.0h.1M129.5 34.4h.1M135.2 35.8h.1M133.0 28.2h.1M134.3 34.5h.1M128.4 29.7h.1M124.9 28.9h.1M130.7 29.8h.1M121.9 31.7h.1M130.5 29.5h.1M133.4 34.8h.1M123.4 29.6h.1M135.3 34.5h.1M142.8 34.5h.1M128.5 35.1h.1M141.8 32.7h.1M137.5 29.5h.1M133.2 34.6h.1M125.1 29.4h.1M139.5 35.0h.1M124.9 29.1h.1M121.9 30.7h.1M121.9 32.0h.1M134.1 29.4h.1M134.6 29.3h.1M131.8 29.6h.1M134.4 34.8h.1M121.7 34.3h.1M132.4 29.4h.1M139.4 34.6h.1M139.7 34.5h.1M137.5 35.6h.1M135.6 29.4h.1M140.8 35.1h.1M129.8 29.4h.1M141.7 32.3h.1M125.8 34.8h.1M140.4 34.7h.1M139.3 29.5h.1M130.8 28.4h.1M139.5 35.0h.1M123.2 29.8h.1M127.4 29.7h.1M122.2 30.4h.1M129.2 29.8h.1M130.1 29.5h.1M130.8 34.9h.1M121.9 30.7h.1M132.4 35.8h.1M123.6 28.5h.1M133.3 29.5h.1M123.8 28.8h.1M122.2 34.5h.1M127.0 29.1h.1M123.0 29.2h.1M140.2 34.4h.1M127.8 29.4h.1M140.8 31.2h.1M130.6 29.6h.1M133.4 34.8h.1M122.0 34.9h.1M141.2 34.4h.1M121.9 30.7h.1M121.8 33.0h.1M140.4 34.5h.1M130.5 29.2h.1M134.7 29.6h.1M122.4 34.5h.1M141.4 30.2h.1M122.5 29.6h.1M131.0 34.9h.1M124.3 35.1h.1M131.1 35.8h.1M132.5 34.6h.1M141.1 29.8h.1M121.5 33.3h.1M140.6 29.3h.1M128.9 29.3h.1M121.2 34.5h.1M122.2 31.1h.1M134.2 29.3h.1M133.6 29.4h.1M131.5 28.8h.1M135.6 35.3h.1M121.2 30.2h.1M137.6 29.5h.1" stroke="#505050" stroke-width="0.55" stroke-linecap="round" fill="none"/>
<path d="M125.6 30.4h.1M123.5 36.6h.1M142.6 32.2h.1M136.1 30.5h.1M112.0 29.0h.1M132.0 34.7h.1M130.7 30.4h.1M129.4 30.5h.1M121.5 31.8h.1M128.3 30.8h.1M125.0 30.6h.1M132.6 34.6h.1M129.6 36.1h.1M120.0 32.7h.1M123.1 31.9h.1M131.7 33.2h.1M138.7 31.2h.1M122.5 31.9h.1M133.0 31.0h.1M137.1 35.2h.1M121.3 32.8h.1M137.9 28.8h.1M132.4 31.8h.1M121.3 34.5h.1M132.5 31.4h.1M134.0 33.3h.1M136.2 33.2h.1M133.8 30.1h.1M128.1 32.4h.1M112.1 35.9h.1M128.4 30.3h.1M118.6 32.6h.1M131.2 31.2h.1M128.2 30.6h.1M125.9 32.0h.1M126.6 33.4h.1M130.0 32.4h.1M133.8 34.4h.1M135.1 32.6h.1M129.9 30.8h.1M128.7 33.4h.1M132.5 31.5h.1M121.9 29.5h.1M133.2 34.0h.1M133.6 29.8h.1M129.5 32.6h.1M124.7 32.8h.1M129.6 30.7h.1M122.5 33.6h.1M133.4 30.6h.1M124.1 33.8h.1M135.1 31.7h.1M141.9 31.7h.1M123.8 34.1h.1M129.7 32.8h.1M131.3 30.4h.1M122.9 31.9h.1M140.6 30.4h.1M140.3 32.6h.1M123.4 32.7h.1M134.9 30.6h.1M116.5 32.8h.1M123.4 33.0h.1M118.0 32.0h.1M125.5 29.6h.1M129.4 32.5h.1M127.2 30.1h.1M132.4 29.1h.1M134.6 33.1h.1M142.4 33.7h.1M133.4 32.7h.1M131.2 29.9h.1M141.0 33.1h.1M129.1 30.2h.1M141.1 33.1h.1M122.9 33.4h.1M143.9 32.2h.1M133.7 31.5h.1M126.7 34.1h.1M151.9 32.4h.1M130.2 33.6h.1M128.9 33.5h.1M136.6 30.4h.1M123.7 32.1h.1M136.7 32.7h.1M139.4 29.8h.1M134.4 31.1h.1M131.7 32.8h.1M124.4 31.8h.1M123.1 32.7h.1M125.2 31.3h.1M132.5 31.1h.1M138.8 31.1h.1M136.8 32.7h.1M124.0 31.8h.1M125.3 31.6h.1M129.2 35.4h.1M128.2 34.9h.1M134.0 29.9h.1M115.3 33.4h.1M117.5 33.5h.1M138.0 32.9h.1M129.6 31.8h.1M132.8 31.7h.1M127.4 31.6h.1M138.9 31.1h.1M133.6 30.2h.1M126.2 29.8h.1M129.7 33.4h.1M133.1 31.3h.1M135.1 31.6h.1M133.5 32.7h.1M134.7 27.9h.1M122.2 33.5h.1M130.3 36.1h.1M129.4 31.2h.1M141.1 33.2h.1M143.9 33.1h.1M129.6 33.5h.1M125.7 31.4h.1" stroke="#555" stroke-width="0.70" stroke-linecap="round" fill="none"/>
<rect x="111.20" y="27.80" width="10.60" height="8.20" rx="3.0" fill="#767676" filter="url(#b0)"/>
<rect x="112.70" y="29.30" width="7.60" height="5.20" rx="1.50" fill="#8a8a8a" filter="url(#b1)"/>
<path d="M113.5 36.7h.1M122.9 29.4h.1M110.7 30.0h.1M110.4 35.3h.1M122.3 31.9h.1M116.5 35.9h.1M119.6 27.7h.1M121.7 34.7h.1M119.8 36.8h.1M115.5 27.5h.1M110.3 29.6h.1M110.3 35.9h.1M110.8 33.7h.1M121.7 30.3h.1M120.6 37.4h.1M114.7 28.0h.1M122.2 35.4h.1M112.7 36.5h.1M114.5 27.6h.1M111.0 32.0h.1M111.2 30.2h.1M112.4 26.4h.1M114.9 36.4h.1M111.3 33.9h.1M117.1 36.4h.1M121.8 34.1h.1M120.5 28.0h.1M111.0 28.0h.1M122.4 28.4h.1M114.8 27.6h.1M113.1 36.0h.1M122.5 34.5h.1M112.5 27.7h.1M116.7 35.8h.1M116.2 27.4h.1M121.9 31.3h.1M117.3 36.0h.1M111.0 33.8h.1M122.4 29.7h.1M122.8 35.3h.1M116.8 26.8h.1M115.6 27.2h.1M121.9 35.9h.1M121.7 34.8h.1M117.4 27.2h.1M121.8 31.0h.1M118.6 27.6h.1M116.0 27.7h.1M120.2 27.4h.1M110.8 31.9h.1M111.8 27.2h.1M111.1 28.1h.1M113.8 36.0h.1M120.6 36.3h.1M117.0 28.0h.1M121.8 32.0h.1M111.9 36.2h.1M114.4 26.6h.1M114.2 35.9h.1M110.5 27.9h.1M119.1 36.3h.1M114.9 36.0h.1M110.5 35.4h.1M118.4 36.0h.1M110.7 29.0h.1M122.7 34.6h.1M109.7 33.0h.1M121.7 32.7h.1M122.0 32.5h.1M120.0 36.1h.1M117.9 36.2h.1M116.5 27.5h.1M118.7 27.9h.1M110.8 35.1h.1M111.2 35.9h.1M122.4 35.9h.1M121.7 36.8h.1M116.3 36.4h.1M118.7 27.0h.1M110.4 28.0h.1M114.7 27.9h.1M117.3 27.4h.1M110.9 34.7h.1M116.3 27.0h.1M110.0 29.5h.1M120.4 36.4h.1M111.1 29.7h.1M122.5 33.6h.1M111.1 29.4h.1M123.0 28.4h.1M109.7 34.5h.1M115.6 27.7h.1M111.3 34.8h.1" stroke="#505050" stroke-width="0.55" stroke-linecap="round" fill="none"/>
<rect x="112.8" y="33" width="5.6" height="9" fill="#7a7a7a" filter="url(#b0)"/>
<ellipse cx="113.60" cy="44.60" rx="6.00" ry="5.40" fill="#767676" filter="url(#b0)"/>
<ellipse cx="113.60" cy="44.60" rx="4.44" ry="4.00" fill="#8c8c8c" filter="url(#b1)"/>
<path d="M117.0 39.7h.1M114.3 50.1h.1M114.2 50.7h.1M106.6 44.9h.1M112.0 38.9h.1M108.8 48.1h.1M110.6 38.5h.1M119.4 42.6h.1M119.3 47.7h.1M110.0 40.0h.1M108.2 41.3h.1M116.6 40.1h.1M107.8 45.0h.1M120.7 45.3h.1M107.6 47.6h.1M108.4 41.0h.1M115.0 49.9h.1M109.7 49.3h.1M111.8 50.6h.1M118.7 47.4h.1M106.8 46.9h.1M110.5 40.1h.1M111.1 39.5h.1M119.4 46.0h.1M112.8 50.2h.1M119.6 43.1h.1M118.4 41.0h.1M108.6 40.9h.1M107.2 44.6h.1M121.9 42.5h.1M115.8 49.5h.1M116.7 39.6h.1M120.4 44.6h.1M116.7 50.0h.1M115.8 39.5h.1M113.6 50.0h.1M107.8 42.8h.1M117.9 40.0h.1M118.9 42.3h.1M118.3 41.3h.1M109.3 40.7h.1M107.4 46.7h.1M110.4 40.0h.1M109.1 40.2h.1M110.7 39.3h.1M119.2 41.3h.1M119.3 43.8h.1M119.7 46.6h.1M107.0 42.4h.1M108.1 46.3h.1M112.6 37.7h.1M113.6 38.7h.1M117.5 48.7h.1M119.5 43.0h.1M108.4 41.7h.1M107.7 41.8h.1M113.5 39.2h.1M109.8 40.4h.1M111.7 51.0h.1M105.8 42.6h.1M109.4 39.5h.1M115.7 39.4h.1M120.0 43.2h.1M112.1 39.3h.1M117.0 49.6h.1M107.8 41.9h.1M109.4 50.0h.1M118.5 49.9h.1M116.7 49.2h.1M113.1 39.1h.1M119.7 46.5h.1M111.4 51.2h.1M120.8 43.0h.1M116.1 50.1h.1M116.2 51.3h.1M110.9 49.6h.1M113.2 49.9h.1M107.6 48.8h.1M112.8 51.2h.1M115.5 50.3h.1M116.9 39.7h.1M109.8 40.6h.1M117.4 49.4h.1M113.9 38.3h.1M110.7 39.9h.1M113.7 39.3h.1M119.4 41.6h.1M107.6 43.6h.1M113.2 51.0h.1M114.6 37.9h.1M107.9 42.3h.1M109.7 49.2h.1M113.9 50.0h.1M120.2 47.4h.1M110.9 39.5h.1M108.5 47.4h.1M111.4 49.8h.1M109.2 39.6h.1M111.4 39.5h.1M114.8 37.9h.1M113.3 38.2h.1M109.7 50.0h.1" stroke="#505050" stroke-width="0.55" stroke-linecap="round" fill="none"/>
<ellipse cx="124.40" cy="60.90" rx="19.80" ry="6.30" fill="#767676" filter="url(#b0)"/>
<ellipse cx="119.10" cy="61.25" rx="18.20" ry="5.04" fill="#a8a8a8" filter="url(#b1)"/>
<ellipse cx="113.80" cy="61.60" rx="5.94" ry="1.89" fill="#f6f6f6" filter="url(#b1)"/>
<path d="M111.2 66.7h.1M132.9 67.3h.1M102.8 60.0h.1M114.5 55.2h.1M113.8 66.3h.1M144.7 63.7h.1M136.9 55.6h.1M113.6 54.9h.1M106.0 58.0h.1M121.1 67.9h.1M136.9 54.5h.1M136.9 66.5h.1M100.7 60.9h.1M143.0 56.5h.1M133.9 54.6h.1M112.4 55.7h.1M118.7 54.7h.1M118.4 54.5h.1M143.2 63.6h.1M108.4 57.0h.1M129.3 67.5h.1M128.2 68.1h.1M145.8 59.8h.1M131.5 54.2h.1M144.9 64.1h.1M134.5 55.7h.1M111.2 56.5h.1M136.7 65.6h.1M105.5 63.0h.1M106.2 58.8h.1M133.7 55.3h.1M139.6 64.9h.1M111.8 67.2h.1M114.2 66.7h.1M129.8 54.8h.1M130.0 67.7h.1M101.2 59.1h.1M143.2 62.1h.1M104.7 60.7h.1M103.9 64.3h.1M121.1 54.4h.1M105.4 57.3h.1M106.4 57.3h.1M128.3 69.1h.1M133.3 52.9h.1M147.2 59.1h.1M148.9 64.6h.1M103.3 61.8h.1M115.5 54.6h.1M118.8 54.2h.1M131.7 66.8h.1M108.5 64.4h.1M122.6 54.2h.1M103.6 60.2h.1M118.7 54.9h.1M130.8 66.7h.1M117.4 53.9h.1M143.2 59.9h.1M147.8 56.8h.1M121.1 54.9h.1M129.9 67.1h.1M146.7 61.5h.1M108.8 55.6h.1M122.7 67.3h.1M110.6 56.1h.1M143.7 60.6h.1M133.4 66.5h.1M109.9 66.8h.1M102.9 62.9h.1M140.8 64.8h.1M127.9 54.6h.1M98.8 62.4h.1M129.8 55.0h.1M104.9 61.8h.1M140.3 65.0h.1M104.9 58.3h.1M124.2 67.0h.1M147.4 61.9h.1M144.8 58.6h.1M148.0 60.0h.1M108.7 65.3h.1M132.0 55.0h.1M144.8 61.4h.1M129.3 67.6h.1M145.0 61.3h.1M134.0 55.4h.1M146.0 62.8h.1M139.9 56.8h.1M115.8 66.4h.1M109.0 56.0h.1M110.7 55.7h.1M129.7 66.8h.1M105.2 66.4h.1M140.6 64.8h.1M130.6 66.9h.1M102.4 62.9h.1M118.7 54.4h.1M102.4 63.7h.1M144.3 63.1h.1M101.9 62.2h.1M119.5 54.1h.1M125.8 67.8h.1M101.8 62.2h.1M138.6 66.5h.1M144.1 63.5h.1M125.9 67.7h.1M109.4 64.7h.1M129.4 54.4h.1M123.2 53.6h.1M149.9 62.9h.1M132.1 53.7h.1M145.0 62.5h.1M142.3 58.3h.1M128.7 67.9h.1M108.0 54.7h.1M141.1 57.9h.1M145.1 61.7h.1M125.6 52.7h.1M118.4 53.4h.1M132.0 66.7h.1M103.7 60.4h.1M140.6 64.9h.1M146.4 56.8h.1M145.8 61.0h.1M134.0 54.5h.1M102.3 60.8h.1M131.1 54.3h.1M144.5 64.3h.1M119.2 67.2h.1M105.1 65.6h.1M143.4 61.8h.1M134.2 55.2h.1M140.4 65.8h.1M112.7 55.8h.1M141.5 65.4h.1M146.0 59.9h.1M140.9 64.4h.1M121.6 53.8h.1M143.7 65.4h.1M110.4 65.8h.1M138.8 67.0h.1M105.3 56.1h.1M144.1 61.2h.1M144.6 64.2h.1M106.3 56.8h.1M102.5 60.0h.1M109.1 56.8h.1M110.4 54.9h.1M130.6 54.3h.1M142.9 57.3h.1M147.3 62.3h.1M115.6 54.8h.1M140.1 56.1h.1M133.9 67.3h.1M118.9 54.7h.1M124.1 67.2h.1M114.6 67.1h.1M147.0 65.8h.1M111.8 55.1h.1M142.1 58.3h.1M149.4 60.6h.1M124.7 54.7h.1M106.2 64.5h.1M144.0 61.7h.1M146.9 57.0h.1M115.0 66.4h.1M143.2 55.9h.1M130.1 54.6h.1M133.2 55.4h.1M116.2 67.1h.1M103.8 59.3h.1M145.0 59.5h.1M111.3 55.2h.1M103.0 59.2h.1M141.7 57.6h.1M116.9 54.9h.1M128.9 66.9h.1M119.9 66.9h.1M123.2 67.0h.1M119.9 54.4h.1M106.7 63.2h.1M116.3 54.8h.1M124.9 53.3h.1M124.6 67.0h.1M117.3 55.0h.1M129.3 66.9h.1M107.5 54.1h.1M106.4 57.2h.1M116.7 54.1h.1M117.7 66.9h.1M143.8 61.5h.1M111.5 65.8h.1M104.2 61.2h.1M144.0 59.7h.1M127.0 54.2h.1M133.7 67.0h.1M107.1 64.4h.1M115.6 53.9h.1M141.6 64.6h.1M144.7 58.0h.1M148.0 62.4h.1M133.9 55.3h.1M132.6 53.3h.1M115.3 55.6h.1M131.6 66.7h.1M142.2 57.0h.1M104.8 57.1h.1M113.9 55.6h.1M141.3 64.7h.1M146.7 60.1h.1M104.4 57.9h.1M127.7 67.0h.1M135.9 56.0h.1M139.4 66.0h.1M121.0 54.7h.1M137.0 65.7h.1M110.2 66.0h.1M103.8 59.9h.1M130.3 54.6h.1M119.4 68.0h.1M128.1 68.0h.1M131.2 66.8h.1M109.8 66.2h.1M108.4 54.7h.1M143.5 62.9h.1M114.0 55.4h.1M145.0 62.1h.1M104.4 63.5h.1M119.3 54.3h.1M142.4 64.7h.1M134.3 67.0h.1M126.9 67.4h.1M142.2 63.5h.1M107.5 67.3h.1" stroke="#505050" stroke-width="0.55" stroke-linecap="round" fill="none"/>
<line x1="121.30" y1="20.70" x2="121.30" y2="68.80" stroke="#3a3a3a" stroke-width="1.1"/>
<line x1="101.40" y1="53.30" x2="153.90" y2="53.30" stroke="#3a3a3a" stroke-width="1.1"/>
<line x1="101.40" y1="20.70" x2="153.90" y2="20.70" stroke="#666" stroke-width="0.7"/>
<line x1="153.90" y1="20.70" x2="153.90" y2="68.80" stroke="#666" stroke-width="0.7"/>
<line x1="101.40" y1="20.40" x2="101.40" y2="69.40" stroke="#111" stroke-width="1.3"/>
<line x1="100.80" y1="68.80" x2="154.20" y2="68.80" stroke="#111" stroke-width="1.3"/>
<line x1="103.40" y1="69.90" x2="153.90" y2="69.90" stroke="#222" stroke-width="1.0" stroke-dasharray="0.5 1.1"/>
<line x1="100.30" y1="20.70" x2="100.30" y2="66.80" stroke="#222" stroke-width="1.0" stroke-dasharray="0.5 1.1"/>
<text x="106.65" y="74.60" font-size="4.2" text-anchor="middle" fill="#444">0</text>
<text x="112.95" y="74.60" font-size="4.2" text-anchor="middle" fill="#444">10<tspan dy="-1.76" font-size="2.86">2</tspan></text>
<text x="126.08" y="74.60" font-size="4.2" text-anchor="middle" fill="#444">10<tspan dy="-1.76" font-size="2.86">3</tspan></text>
<text x="139.72" y="74.60" font-size="4.2" text-anchor="middle" fill="#444">10<tspan dy="-1.76" font-size="2.86">4</tspan></text>
<text x="151.80" y="74.60" font-size="4.2" text-anchor="middle" fill="#444">10<tspan dy="-1.76" font-size="2.86">5</tspan></text>
<text x="99.00" y="65.43" font-size="4.2" text-anchor="middle" transform="rotate(-90 99.00 65.43)" fill="#444">0</text>
<text x="99.00" y="59.18" font-size="4.2" text-anchor="middle" transform="rotate(-90 99.00 59.18)" fill="#444">10<tspan dy="-1.76" font-size="2.86">2</tspan></text>
<text x="99.00" y="47.16" font-size="4.2" text-anchor="middle" transform="rotate(-90 99.00 47.16)" fill="#444">10<tspan dy="-1.76" font-size="2.86">3</tspan></text>
<text x="99.00" y="35.13" font-size="4.2" text-anchor="middle" transform="rotate(-90 99.00 35.13)" fill="#444">10<tspan dy="-1.76" font-size="2.86">4</tspan></text>
<text x="99.00" y="24.07" font-size="4.2" text-anchor="middle" transform="rotate(-90 99.00 24.07)" fill="#444">10<tspan dy="-1.76" font-size="2.86">5</tspan></text>
<path d="M208.2 40.0h.1M204.1 43.6h.1M216.4 31.7h.1M199.6 52.6h.1M201.8 52.2h.1M215.7 38.0h.1M204.2 47.3h.1M217.3 42.5h.1M207.8 40.8h.1M220.8 33.4h.1M207.8 47.4h.1M208.5 40.5h.1M209.3 39.3h.1M199.3 53.6h.1M218.8 38.6h.1M205.5 50.0h.1M205.7 40.8h.1M204.9 33.1h.1M207.1 38.1h.1M203.8 34.5h.1M205.1 40.2h.1M201.8 46.4h.1M189.1 41.3h.1M191.2 34.0h.1M216.2 43.6h.1M209.6 32.3h.1M196.3 45.3h.1M207.4 47.8h.1M206.7 44.3h.1M208.5 42.0h.1M195.7 47.2h.1M202.4 41.6h.1M204.0 45.8h.1M203.4 35.5h.1M206.2 48.1h.1M202.4 49.7h.1M204.5 44.2h.1M218.0 48.5h.1M206.4 46.7h.1M203.5 37.8h.1M208.5 41.4h.1M203.7 39.7h.1M208.0 42.0h.1M204.9 38.7h.1M201.6 35.2h.1M207.6 41.3h.1M201.3 42.2h.1M208.5 45.0h.1M204.0 46.4h.1M211.5 32.0h.1M197.9 45.8h.1M206.8 45.6h.1M213.1 36.6h.1M207.1 48.2h.1M198.3 50.8h.1M191.5 40.4h.1M221.6 40.5h.1M206.2 44.2h.1M203.3 46.5h.1M205.6 38.5h.1M222.7 45.9h.1M199.7 31.5h.1M202.5 44.8h.1M195.5 39.3h.1M204.7 42.3h.1M215.2 33.5h.1M198.5 53.3h.1M194.3 42.8h.1M207.6 47.7h.1M199.5 45.5h.1M214.8 41.9h.1M210.1 37.5h.1M211.4 41.1h.1M202.5 41.6h.1M195.2 33.9h.1M206.9 42.2h.1M204.1 33.8h.1M206.6 40.0h.1M195.2 47.9h.1M221.0 42.9h.1M200.0 29.5h.1M212.4 43.5h.1M211.9 53.5h.1M201.4 43.0h.1M216.3 36.8h.1M213.0 42.3h.1M201.4 42.7h.1M209.8 41.9h.1M206.9 45.7h.1M210.4 40.1h.1M206.3 30.6h.1M196.7 37.4h.1M201.9 40.3h.1M197.8 44.8h.1M212.2 50.2h.1M206.2 44.8h.1M210.7 51.1h.1M202.2 46.0h.1M196.4 36.3h.1M196.8 45.6h.1M204.0 42.5h.1M199.1 41.6h.1M218.0 33.4h.1M196.9 47.2h.1M198.4 42.3h.1M206.2 33.4h.1M202.6 41.7h.1M207.6 45.4h.1M205.1 41.8h.1M204.4 42.5h.1M210.5 38.1h.1M184.9 44.7h.1M205.4 55.4h.1M197.6 45.0h.1M210.1 37.2h.1M204.1 36.5h.1M209.0 41.9h.1M207.4 44.8h.1M207.1 48.5h.1M210.3 40.6h.1M199.8 44.3h.1M194.1 38.5h.1M211.8 46.8h.1M219.9 40.3h.1M204.2 46.8h.1M213.9 35.4h.1M212.3 43.3h.1M217.4 42.8h.1M202.1 38.9h.1M202.6 39.4h.1M192.8 43.0h.1M200.1 48.8h.1M210.7 39.2h.1M203.5 44.6h.1M213.7 48.1h.1M211.2 42.2h.1M210.4 36.0h.1M209.0 41.8h.1M203.3 41.4h.1M200.1 40.0h.1M214.7 39.3h.1M196.0 45.0h.1M202.3 39.0h.1M214.6 41.8h.1M209.1 43.4h.1M216.9 46.1h.1M195.2 51.5h.1M201.8 40.2h.1M210.7 41.7h.1M202.7 40.2h.1M203.1 48.3h.1M207.6 49.4h.1M218.2 46.4h.1M199.6 42.9h.1M208.3 35.3h.1M204.6 36.3h.1M213.4 32.7h.1M202.8 43.6h.1M206.7 37.2h.1M210.2 41.9h.1M215.4 42.8h.1M211.0 33.4h.1M206.6 42.7h.1M198.3 30.1h.1M210.3 49.0h.1M201.1 46.8h.1M209.7 39.1h.1M200.7 57.1h.1M209.6 44.4h.1" stroke="#777" stroke-width="0.70" stroke-linecap="round" fill="none"/>
<path d="M188.0 32.5h.1M192.1 41.2h.1M192.5 42.1h.1M178.0 39.3h.1M191.1 39.6h.1M191.9 44.2h.1M189.5 39.2h.1M201.6 44.2h.1M192.5 45.8h.1M191.8 29.0h.1M187.4 44.1h.1M193.8 42.7h.1M182.7 40.1h.1M193.1 42.8h.1M208.7 46.0h.1M193.6 41.1h.1M185.5 51.2h.1M187.4 40.1h.1M197.6 39.6h.1M178.9 45.2h.1M193.3 45.2h.1M189.1 44.5h.1M184.1 42.1h.1M194.1 50.2h.1M201.0 40.1h.1M193.9 41.8h.1M183.6 44.8h.1M196.7 48.1h.1M177.4 41.1h.1M189.5 42.8h.1M180.5 55.9h.1M179.8 35.7h.1M202.0 44.3h.1M185.0 37.5h.1M195.1 37.9h.1M195.4 45.9h.1M193.2 48.1h.1M186.1 32.4h.1M179.0 42.2h.1M184.8 53.1h.1M183.9 53.3h.1M189.3 42.4h.1M177.2 41.8h.1M200.2 32.2h.1M199.1 47.8h.1M196.5 35.3h.1M201.1 34.4h.1M201.1 50.3h.1M178.3 52.6h.1M202.7 41.6h.1M179.5 40.7h.1M188.2 48.0h.1M183.6 35.9h.1M191.8 44.5h.1M178.0 45.3h.1M186.5 39.1h.1M194.5 47.0h.1M193.7 54.3h.1M192.0 42.4h.1M192.7 52.5h.1M194.7 44.5h.1M197.4 31.7h.1M197.3 47.8h.1M188.3 32.0h.1M179.0 27.2h.1M192.8 41.4h.1M184.0 48.4h.1M183.5 49.3h.1M195.8 46.0h.1M182.6 34.8h.1M190.7 49.6h.1M182.9 43.7h.1M196.4 30.5h.1M203.4 40.8h.1M186.6 43.6h.1M189.0 35.7h.1M186.0 40.5h.1M182.7 49.1h.1M194.7 47.3h.1M178.8 38.9h.1M193.9 41.6h.1M177.4 44.8h.1M204.2 49.5h.1M189.6 33.9h.1M197.5 46.2h.1M188.0 40.0h.1M195.9 41.5h.1M185.5 34.1h.1" stroke="#777" stroke-width="0.70" stroke-linecap="round" fill="none"/>
<path d="M195.6 57.0h.1M184.3 52.2h.1M191.3 61.1h.1M226.1 52.4h.1M193.0 60.2h.1M190.9 60.1h.1M195.9 62.1h.1M202.3 64.0h.1M183.4 62.0h.1M195.7 62.1h.1M193.2 61.1h.1M214.4 59.2h.1M187.1 55.8h.1M194.0 57.4h.1M213.4 54.1h.1M198.8 58.3h.1M200.8 55.0h.1M217.4 58.0h.1M190.4 57.9h.1M215.7 60.1h.1M215.8 59.9h.1M195.1 53.2h.1M189.4 58.0h.1M179.5 57.3h.1M189.9 62.2h.1M210.1 56.6h.1M201.9 63.7h.1M209.8 57.1h.1M193.5 53.2h.1M204.6 61.2h.1M199.8 58.3h.1M190.3 58.7h.1M207.3 53.9h.1M209.7 57.3h.1M207.3 58.3h.1M205.4 59.1h.1M210.6 55.8h.1M199.8 54.3h.1M201.8 62.0h.1M197.5 61.7h.1M195.0 59.5h.1M216.5 59.3h.1M206.2 62.9h.1M209.0 61.5h.1M197.3 55.8h.1M210.9 54.8h.1M216.0 56.4h.1M204.7 61.0h.1M187.2 64.8h.1M201.0 57.6h.1M187.9 52.6h.1M178.7 55.0h.1M208.0 56.7h.1M215.8 55.0h.1M181.9 59.9h.1M197.7 53.5h.1M219.0 59.2h.1M183.2 56.6h.1M189.4 62.2h.1M194.4 56.2h.1M204.7 63.6h.1M218.4 58.3h.1M197.1 56.2h.1M213.3 54.7h.1M200.3 60.6h.1M192.6 50.1h.1M194.0 55.4h.1M188.6 56.3h.1M211.2 53.2h.1M185.5 57.8h.1M212.5 55.5h.1M208.0 61.7h.1M191.6 57.5h.1M211.5 58.9h.1M193.1 57.7h.1M197.5 58.4h.1M204.3 58.7h.1M193.1 58.2h.1M204.4 57.5h.1M221.1 56.6h.1M194.6 59.3h.1M197.3 61.3h.1M193.7 60.0h.1M220.2 60.2h.1M190.0 63.9h.1M214.6 58.1h.1M182.5 59.0h.1M199.5 59.7h.1M202.3 63.4h.1M202.8 56.8h.1M195.4 59.2h.1M207.0 54.0h.1M187.7 61.3h.1M197.7 61.7h.1M198.2 55.9h.1M206.3 59.0h.1M199.3 59.0h.1M207.3 59.9h.1M209.9 57.9h.1M195.5 52.8h.1M196.3 61.7h.1M202.9 59.2h.1M183.5 51.1h.1M208.0 55.4h.1M193.0 51.3h.1M218.9 62.9h.1M177.7 56.2h.1M197.3 59.6h.1M211.4 57.9h.1M198.8 60.0h.1M178.4 57.6h.1M199.9 59.1h.1M187.2 55.8h.1M185.2 57.5h.1M186.8 66.5h.1M191.9 62.4h.1" stroke="#666" stroke-width="0.70" stroke-linecap="round" fill="none"/>
<rect x="195.00" y="28.40" width="17.40" height="5.80" rx="2.6" fill="#787878" filter="url(#b0)"/>
<rect x="196.20" y="29.60" width="15.00" height="3.40" rx="1.40" fill="#929292" filter="url(#b1)"/>
<path d="M209.7 28.2h.1M212.4 28.5h.1M208.6 35.5h.1M208.4 34.9h.1M203.7 35.9h.1M209.8 28.6h.1M200.1 34.5h.1M202.4 28.1h.1M207.8 28.0h.1M193.8 30.6h.1M206.9 34.8h.1M201.9 28.5h.1M194.3 29.9h.1M199.0 35.5h.1M199.0 27.9h.1M207.9 34.4h.1M200.3 28.3h.1M212.2 35.1h.1M206.9 28.2h.1M205.7 34.2h.1M212.5 33.9h.1M205.3 34.2h.1M207.9 27.6h.1M212.2 27.1h.1M194.4 34.1h.1M213.3 30.8h.1M207.0 34.6h.1M212.7 32.2h.1M194.7 31.9h.1M213.1 32.9h.1M201.7 27.8h.1M203.3 36.0h.1M196.9 34.7h.1M206.2 34.7h.1M212.9 28.5h.1M206.6 28.5h.1M212.4 33.2h.1M199.0 27.7h.1M196.6 27.4h.1M213.3 32.6h.1M205.6 34.2h.1M210.9 28.2h.1M201.3 28.4h.1M209.6 34.3h.1M195.0 34.3h.1M210.6 27.8h.1M213.6 33.0h.1M208.3 34.0h.1M205.3 27.1h.1M193.8 29.9h.1M207.6 35.2h.1M201.1 35.3h.1M212.5 31.6h.1M199.6 27.5h.1M203.4 34.7h.1M206.4 34.1h.1M210.0 34.8h.1M194.8 32.4h.1M203.5 34.2h.1M197.5 34.4h.1M201.4 28.4h.1M212.8 32.8h.1M212.1 28.6h.1M197.5 34.1h.1M202.5 27.7h.1M194.0 28.9h.1M193.9 33.3h.1M201.5 27.0h.1M213.1 28.9h.1M197.2 34.1h.1M204.5 28.4h.1M200.8 28.4h.1M197.9 35.0h.1M194.9 31.8h.1M194.6 31.9h.1M201.2 35.3h.1M202.9 34.4h.1M211.7 28.1h.1M194.8 32.8h.1M206.3 28.3h.1M195.5 28.6h.1M197.5 34.2h.1M200.5 27.8h.1M210.6 34.5h.1M194.3 30.8h.1M194.7 33.8h.1M195.1 27.6h.1M197.3 26.9h.1M209.5 27.8h.1M198.2 34.7h.1M195.2 29.7h.1M199.2 34.1h.1M204.4 28.5h.1M203.3 28.4h.1M194.9 31.0h.1M207.4 28.0h.1M210.0 28.0h.1M194.3 32.6h.1M198.1 28.0h.1M210.3 34.3h.1M206.4 34.0h.1M207.5 28.2h.1M202.5 34.5h.1M193.0 32.0h.1M200.7 34.1h.1M202.1 34.6h.1M197.4 35.0h.1M211.7 28.2h.1M201.6 28.3h.1M202.3 28.0h.1M209.0 34.8h.1M202.4 27.7h.1M197.8 34.0h.1M212.3 30.1h.1M197.7 28.6h.1M212.3 30.6h.1" stroke="#505050" stroke-width="0.55" stroke-linecap="round" fill="none"/>
<rect x="184.40" y="26.80" width="11.40" height="8.60" rx="3.0" fill="#767676" filter="url(#b0)"/>
<rect x="185.90" y="28.30" width="8.40" height="5.60" rx="1.50" fill="#858585" filter="url(#b1)"/>
<path d="M194.1 25.8h.1M184.6 28.4h.1M195.9 34.5h.1M196.2 30.9h.1M193.3 26.0h.1M191.2 35.6h.1M184.5 35.9h.1M184.2 32.3h.1M187.2 26.7h.1M187.7 26.9h.1M190.4 35.5h.1M195.9 32.3h.1M183.8 32.9h.1M194.2 26.7h.1M196.1 28.4h.1M184.4 31.8h.1M191.0 26.3h.1M186.2 26.0h.1M190.3 36.1h.1M190.7 26.8h.1M184.7 35.4h.1M196.5 28.8h.1M193.1 35.9h.1M184.8 35.7h.1M196.5 32.7h.1M190.8 36.5h.1M184.5 26.2h.1M193.3 26.6h.1M187.9 26.7h.1M191.9 35.8h.1M195.0 27.0h.1M191.2 35.3h.1M191.9 35.9h.1M195.7 32.6h.1M186.1 35.4h.1M184.3 35.0h.1M184.5 35.4h.1M196.0 34.9h.1M196.6 35.2h.1M184.2 27.8h.1M183.0 28.0h.1M196.1 34.3h.1M189.5 26.4h.1M191.8 35.5h.1M183.7 34.5h.1M186.2 26.7h.1M188.9 25.8h.1M196.5 28.3h.1M193.3 35.5h.1M195.8 29.3h.1M192.9 35.8h.1M195.5 26.3h.1M184.5 26.9h.1M188.1 26.8h.1M189.9 36.6h.1M190.6 26.2h.1M189.0 26.2h.1M195.6 30.6h.1M186.1 26.9h.1M197.3 29.5h.1M197.3 28.1h.1M184.3 31.8h.1M187.9 36.6h.1M183.5 34.2h.1M187.0 36.5h.1M192.3 26.2h.1M195.7 28.9h.1M196.5 30.3h.1M193.3 26.9h.1M195.5 26.2h.1M195.6 32.2h.1M191.0 35.5h.1M195.4 26.2h.1M195.2 35.6h.1M185.1 36.4h.1M194.4 26.3h.1M196.0 30.4h.1M196.5 27.0h.1M184.0 28.1h.1M195.7 34.7h.1M196.1 33.5h.1M195.8 29.7h.1M194.6 35.8h.1M193.7 35.3h.1M195.8 35.7h.1M190.6 35.6h.1M192.1 36.1h.1M195.3 26.4h.1M185.7 26.8h.1M183.6 33.9h.1M184.4 34.1h.1M184.5 27.6h.1M188.7 26.4h.1M184.5 27.2h.1M196.4 30.2h.1M195.2 25.9h.1M184.5 31.2h.1M184.1 29.4h.1M196.2 32.2h.1M196.0 28.0h.1" stroke="#505050" stroke-width="0.55" stroke-linecap="round" fill="none"/>
<rect x="186.6" y="33" width="6.6" height="8" fill="#767676" filter="url(#b0)"/>
<ellipse cx="189.60" cy="46.00" rx="7.60" ry="6.80" fill="#767676" filter="url(#b0)"/>
<ellipse cx="189.60" cy="46.00" rx="6.00" ry="5.20" fill="#8a8a8a" filter="url(#b1)"/>
<path d="M193.7 51.6h.1M187.8 54.2h.1M185.5 52.6h.1M194.5 40.0h.1M192.5 52.8h.1M190.7 39.2h.1M195.9 42.0h.1M181.6 48.9h.1M189.3 53.4h.1M197.7 46.9h.1M197.6 46.5h.1M184.5 50.8h.1M186.0 39.2h.1M184.4 41.3h.1M186.2 40.0h.1M183.8 41.7h.1M194.6 40.3h.1M195.9 42.4h.1M181.7 42.4h.1M186.0 52.7h.1M185.0 40.7h.1M183.3 41.8h.1M191.3 52.4h.1M186.5 52.9h.1M196.0 41.9h.1M195.7 50.9h.1M194.2 40.8h.1M189.9 53.4h.1M197.3 47.7h.1M191.8 39.4h.1M190.9 38.8h.1M182.0 46.9h.1M184.2 50.5h.1M190.8 53.8h.1M194.4 39.4h.1M181.1 43.6h.1M196.5 50.8h.1M189.1 52.5h.1M198.2 45.7h.1M196.4 49.9h.1M197.1 46.1h.1M196.5 50.1h.1M182.4 48.9h.1M181.9 45.7h.1M180.5 45.2h.1M197.6 45.2h.1M181.0 46.3h.1M184.2 51.1h.1M195.3 41.1h.1M184.5 51.7h.1M181.5 43.0h.1M187.5 54.7h.1M183.6 51.8h.1M195.7 50.8h.1M185.6 52.8h.1M185.9 52.2h.1M182.5 49.6h.1M197.4 44.1h.1M193.9 52.3h.1M185.4 39.9h.1M182.6 50.2h.1M190.4 52.8h.1M193.8 39.3h.1M184.4 50.6h.1M191.0 52.7h.1M197.4 44.2h.1M180.6 46.2h.1M182.2 47.2h.1M184.7 40.3h.1M187.0 39.8h.1M195.5 52.1h.1M183.5 41.3h.1M186.2 53.1h.1M181.8 43.7h.1M183.4 41.0h.1M194.9 51.3h.1M181.0 43.7h.1M184.0 41.5h.1M191.1 53.8h.1M182.1 48.5h.1M189.8 38.2h.1M182.8 53.0h.1M193.2 39.3h.1M184.7 39.7h.1M197.8 47.5h.1M198.0 42.7h.1M188.8 52.8h.1M194.3 39.9h.1M180.3 44.9h.1M197.9 46.7h.1M193.5 39.6h.1M186.0 38.0h.1M191.9 52.7h.1M195.6 42.0h.1M185.7 51.8h.1M197.7 49.2h.1M195.4 51.0h.1M193.7 51.7h.1M196.8 42.5h.1M197.7 41.1h.1M180.3 49.3h.1M191.8 39.3h.1M193.3 37.7h.1M188.8 39.4h.1M196.6 42.8h.1M180.9 43.4h.1M195.1 52.2h.1M186.7 38.0h.1M182.1 47.9h.1M192.3 53.0h.1M189.4 39.2h.1M193.2 40.3h.1M182.3 51.0h.1M190.9 53.0h.1M182.7 52.8h.1M182.0 45.6h.1M189.8 39.5h.1M189.4 38.7h.1M191.6 53.0h.1M185.3 51.5h.1M182.1 50.5h.1M180.9 44.8h.1M180.2 47.5h.1M182.1 45.7h.1M188.2 38.9h.1M185.1 51.3h.1M188.3 52.9h.1M184.0 40.3h.1M183.1 42.8h.1" stroke="#505050" stroke-width="0.55" stroke-linecap="round" fill="none"/>
<ellipse cx="197.80" cy="61.70" rx="19.80" ry="4.20" fill="#767676" filter="url(#b0)"/>
<ellipse cx="194.55" cy="61.80" rx="18.20" ry="3.36" fill="#b0b0b0" filter="url(#b1)"/>
<ellipse cx="191.30" cy="61.90" rx="8.32" ry="1.76" fill="#f2f2f2" filter="url(#b1)"/>
<path d="M201.7 65.7h.1M203.5 57.8h.1M197.3 66.1h.1M179.7 58.9h.1M181.7 58.2h.1M191.8 66.4h.1M210.9 58.5h.1M207.2 57.1h.1M176.9 63.6h.1M207.5 66.8h.1M215.7 64.5h.1M210.2 65.3h.1M201.6 66.1h.1M210.5 65.3h.1M206.3 65.7h.1M178.1 62.4h.1M175.9 60.6h.1M208.4 58.0h.1M218.6 62.2h.1M217.1 62.7h.1M200.3 56.9h.1M202.0 66.0h.1M201.8 57.4h.1M201.0 66.7h.1M179.1 59.7h.1M176.5 62.3h.1M218.0 63.6h.1M210.8 65.7h.1M179.6 60.4h.1M208.6 58.0h.1M212.4 58.4h.1M214.9 63.8h.1M197.4 66.4h.1M197.8 66.1h.1M191.0 66.1h.1M202.5 57.6h.1M194.3 57.4h.1M218.3 61.9h.1M186.9 66.0h.1M202.0 57.1h.1M217.0 61.6h.1M198.7 57.5h.1M179.2 64.1h.1M190.0 65.7h.1M218.1 63.8h.1M179.0 63.3h.1M179.6 63.3h.1M173.1 62.5h.1M208.5 66.4h.1M178.8 64.3h.1M186.0 57.7h.1M179.7 59.7h.1M198.6 67.0h.1M216.4 63.9h.1M180.5 65.7h.1M222.7 62.1h.1M181.7 58.2h.1M174.7 62.6h.1M211.8 64.9h.1M194.6 56.7h.1M204.0 66.2h.1M185.4 57.7h.1M219.2 62.3h.1M181.4 59.3h.1M186.3 65.7h.1M192.6 66.3h.1M202.9 57.5h.1M205.9 57.2h.1M212.1 64.4h.1M216.4 60.0h.1M217.1 62.4h.1M207.2 65.9h.1M180.2 64.6h.1M211.5 64.5h.1M176.4 61.0h.1M177.8 65.5h.1M179.3 63.4h.1M185.9 66.9h.1M185.3 58.2h.1M198.5 57.1h.1M194.3 65.8h.1M179.2 63.0h.1M211.8 58.7h.1M199.6 57.0h.1M194.3 66.1h.1M178.0 63.8h.1M217.1 60.0h.1M178.9 60.1h.1M178.5 64.1h.1M214.8 59.6h.1M190.2 66.4h.1M217.7 63.5h.1M216.5 59.6h.1M193.4 57.4h.1M217.8 62.2h.1M177.9 62.4h.1M218.0 62.1h.1M216.0 63.9h.1M214.9 64.0h.1M212.5 65.3h.1M206.9 57.7h.1M198.9 66.0h.1M210.6 57.4h.1M214.6 64.2h.1M219.0 60.1h.1M211.7 58.3h.1M216.8 64.6h.1M180.0 59.4h.1M194.2 57.6h.1M206.6 66.1h.1M179.5 63.3h.1M190.8 66.4h.1M194.7 65.9h.1M204.1 57.7h.1M178.6 61.8h.1M177.3 61.5h.1M178.2 61.6h.1M179.0 64.1h.1M213.7 59.0h.1M219.5 58.0h.1M219.1 61.4h.1M205.6 57.8h.1M180.9 58.7h.1M180.1 56.7h.1M205.2 57.7h.1M210.5 58.6h.1M206.5 65.3h.1M205.9 66.4h.1M179.0 62.7h.1M186.9 58.0h.1M216.4 64.7h.1M190.2 57.8h.1M218.9 62.9h.1M177.3 65.3h.1M177.8 63.9h.1M196.4 56.9h.1M184.7 57.9h.1M176.5 61.3h.1M208.0 67.0h.1M201.5 57.2h.1M222.7 61.5h.1M199.0 66.0h.1M196.9 57.3h.1M211.0 56.9h.1M212.0 58.8h.1M173.5 62.5h.1M189.1 66.2h.1M210.6 57.6h.1M209.0 58.2h.1M209.4 65.3h.1M179.9 60.0h.1M215.2 64.5h.1M208.8 65.1h.1M210.0 58.0h.1M188.0 65.5h.1M195.5 66.2h.1M180.1 64.6h.1M183.8 64.5h.1M218.7 62.1h.1M219.2 61.7h.1M216.5 60.7h.1M219.0 62.4h.1M214.1 64.2h.1M174.7 61.6h.1M198.3 66.1h.1M178.9 65.8h.1M218.0 61.4h.1M209.4 58.2h.1M218.0 62.3h.1M189.5 56.8h.1M179.0 60.4h.1M177.7 60.6h.1M195.7 66.1h.1M192.6 57.6h.1M180.0 59.8h.1M178.8 58.8h.1M215.9 59.6h.1M187.3 66.0h.1M215.8 59.8h.1M187.8 65.4h.1M191.5 57.0h.1M186.9 57.9h.1M215.9 60.1h.1M176.0 62.8h.1M199.0 57.5h.1M182.9 58.7h.1M204.7 57.9h.1M216.4 58.5h.1M212.7 65.0h.1M186.8 65.7h.1M219.1 60.2h.1M202.9 57.8h.1M182.3 58.1h.1M209.9 66.7h.1M215.2 63.6h.1M178.8 62.2h.1M178.9 64.2h.1M209.5 58.3h.1M201.7 57.3h.1M191.0 65.7h.1M175.2 62.0h.1M176.0 61.5h.1M185.7 66.9h.1M205.3 66.9h.1M187.3 65.4h.1M215.8 63.1h.1M178.7 63.8h.1M220.5 60.7h.1M209.5 57.6h.1M218.9 62.1h.1M183.4 64.4h.1M219.3 63.7h.1M176.9 60.5h.1M180.0 64.3h.1M213.6 64.2h.1M177.7 58.7h.1" stroke="#505050" stroke-width="0.55" stroke-linecap="round" fill="none"/>
<line x1="196.00" y1="20.70" x2="196.00" y2="68.80" stroke="#3a3a3a" stroke-width="1.1"/>
<line x1="175.80" y1="53.30" x2="228.70" y2="53.30" stroke="#3a3a3a" stroke-width="1.1"/>
<line x1="175.80" y1="20.70" x2="228.70" y2="20.70" stroke="#666" stroke-width="0.7"/>
<line x1="228.70" y1="20.70" x2="228.70" y2="68.80" stroke="#666" stroke-width="0.7"/>
<line x1="175.80" y1="20.40" x2="175.80" y2="69.40" stroke="#111" stroke-width="1.3"/>
<line x1="175.20" y1="68.80" x2="229.00" y2="68.80" stroke="#111" stroke-width="1.3"/>
<line x1="177.80" y1="69.90" x2="228.70" y2="69.90" stroke="#222" stroke-width="1.0" stroke-dasharray="0.5 1.1"/>
<line x1="174.70" y1="20.70" x2="174.70" y2="66.80" stroke="#222" stroke-width="1.0" stroke-dasharray="0.5 1.1"/>
<text x="181.09" y="74.60" font-size="4.2" text-anchor="middle" fill="#444">0</text>
<text x="187.44" y="74.60" font-size="4.2" text-anchor="middle" fill="#444">10<tspan dy="-1.76" font-size="2.86">2</tspan></text>
<text x="200.66" y="74.60" font-size="4.2" text-anchor="middle" fill="#444">10<tspan dy="-1.76" font-size="2.86">3</tspan></text>
<text x="214.42" y="74.60" font-size="4.2" text-anchor="middle" fill="#444">10<tspan dy="-1.76" font-size="2.86">4</tspan></text>
<text x="226.58" y="74.60" font-size="4.2" text-anchor="middle" fill="#444">10<tspan dy="-1.76" font-size="2.86">5</tspan></text>
<text x="173.40" y="65.43" font-size="4.2" text-anchor="middle" transform="rotate(-90 173.40 65.43)" fill="#444">0</text>
<text x="173.40" y="59.18" font-size="4.2" text-anchor="middle" transform="rotate(-90 173.40 59.18)" fill="#444">10<tspan dy="-1.76" font-size="2.86">2</tspan></text>
<text x="173.40" y="47.16" font-size="4.2" text-anchor="middle" transform="rotate(-90 173.40 47.16)" fill="#444">10<tspan dy="-1.76" font-size="2.86">3</tspan></text>
<text x="173.40" y="35.13" font-size="4.2" text-anchor="middle" transform="rotate(-90 173.40 35.13)" fill="#444">10<tspan dy="-1.76" font-size="2.86">4</tspan></text>
<text x="173.40" y="24.07" font-size="4.2" text-anchor="middle" transform="rotate(-90 173.40 24.07)" fill="#444">10<tspan dy="-1.76" font-size="2.86">5</tspan></text>
<text x="15.30" y="54.00" font-size="10.6" textLength="25.60" lengthAdjust="spacingAndGlyphs" transform="rotate(-90 15.30 54.00)" fill="#0a0a0a" stroke="#0a0a0a" stroke-width="0.3">ic IgG</text>
<text x="91.10" y="54.00" font-size="10.6" textLength="24.80" lengthAdjust="spacingAndGlyphs" transform="rotate(-90 91.10 54.00)" fill="#0a0a0a" stroke="#0a0a0a" stroke-width="0.3">ic IgA</text>
<text x="165.00" y="54.00" font-size="10.6" textLength="26.40" lengthAdjust="spacingAndGlyphs" transform="rotate(-90 165.00 54.00)" fill="#0a0a0a" stroke="#0a0a0a" stroke-width="0.3">ic IgM</text>
<line x1="28.50" y1="80.60" x2="104.50" y2="80.60" stroke="#999" stroke-width="1.3"/>
<path d="M103.6 78.2L109.4 80.6L103.6 83z" fill="#111"/>
<text x="115.40" y="84.10" font-size="10.7" textLength="31.30" lengthAdjust="spacingAndGlyphs" fill="#0a0a0a" stroke="#0a0a0a" stroke-width="0.08">CD138</text>
<path d="M59.6 126.7h.1M67.2 104.0h.1M52.1 117.7h.1M60.0 112.3h.1M49.2 136.6h.1M59.3 105.9h.1M52.2 129.8h.1M47.4 124.3h.1M52.7 109.6h.1M47.4 128.2h.1M60.7 115.8h.1M60.3 115.0h.1M53.8 119.9h.1M42.8 122.4h.1M49.1 100.5h.1M45.9 114.0h.1M45.8 113.1h.1M46.9 102.5h.1M58.6 120.6h.1M53.9 118.2h.1M52.5 118.2h.1M44.0 109.2h.1M52.5 127.3h.1M53.7 131.6h.1M41.9 118.2h.1M47.4 128.9h.1M64.5 116.3h.1M57.4 118.3h.1M44.6 119.3h.1M44.3 131.1h.1M56.4 128.5h.1M54.6 102.6h.1M57.9 120.7h.1M34.4 120.8h.1M59.5 132.3h.1M44.5 125.7h.1M54.5 118.8h.1M49.9 123.8h.1M56.3 124.8h.1M49.0 110.6h.1M61.7 129.3h.1M47.8 119.8h.1M58.0 107.4h.1M55.7 137.4h.1M54.0 115.0h.1M67.1 120.1h.1M53.6 117.0h.1M53.3 107.2h.1M42.5 109.4h.1M58.7 119.4h.1M60.5 105.4h.1M47.6 130.5h.1M46.2 106.6h.1M46.5 117.5h.1M51.9 129.4h.1M61.8 131.2h.1M56.3 116.4h.1M48.3 109.4h.1M61.4 129.0h.1M52.7 113.6h.1M57.0 123.5h.1M53.1 111.7h.1M53.8 115.9h.1M57.5 124.3h.1M55.2 116.9h.1M63.2 125.6h.1M61.4 126.0h.1M56.9 122.8h.1M44.1 106.9h.1M45.1 124.4h.1M58.7 121.3h.1M52.7 133.2h.1M49.1 107.2h.1M40.6 117.7h.1M57.2 125.3h.1M50.4 125.9h.1M51.6 114.8h.1M49.2 125.4h.1M59.0 111.9h.1M44.7 120.9h.1M67.6 111.6h.1M42.8 123.0h.1M55.7 115.6h.1M51.8 123.5h.1M39.2 119.8h.1M56.4 126.6h.1M60.6 119.5h.1M41.4 129.7h.1M57.7 115.4h.1M59.6 127.5h.1M51.0 103.0h.1M48.6 114.6h.1M45.8 119.4h.1M44.1 122.8h.1M65.9 111.5h.1M59.7 116.2h.1M56.0 119.1h.1M61.4 114.9h.1M57.4 114.4h.1M53.7 119.9h.1M60.0 108.7h.1M42.1 130.0h.1M54.8 132.2h.1M44.4 121.5h.1M56.4 132.7h.1M51.6 116.8h.1M57.3 119.3h.1M46.5 125.5h.1M38.0 112.7h.1M62.0 116.4h.1M49.6 122.7h.1M60.2 123.8h.1M44.9 115.9h.1M59.7 119.1h.1M47.4 126.3h.1M60.4 135.6h.1M44.1 114.9h.1M46.9 122.6h.1M48.5 128.0h.1M32.3 126.9h.1M47.3 118.0h.1M56.2 121.5h.1M44.6 130.8h.1M56.2 116.5h.1M53.5 112.0h.1M43.0 117.8h.1M54.7 120.7h.1M46.3 110.0h.1M39.7 131.5h.1M54.7 114.2h.1M60.7 123.9h.1M49.0 115.6h.1M60.3 122.4h.1M64.0 122.6h.1M47.7 115.7h.1M46.9 121.8h.1M53.9 124.4h.1M55.3 112.4h.1M50.5 113.2h.1M55.5 110.5h.1M47.8 113.8h.1M47.5 118.2h.1M63.0 118.2h.1M41.5 117.8h.1M57.5 124.0h.1M53.8 134.3h.1M60.1 120.7h.1M60.9 110.4h.1M50.8 113.8h.1M53.3 131.6h.1M48.4 131.5h.1M44.5 130.3h.1M39.6 113.9h.1M59.3 119.3h.1M53.1 119.9h.1M53.3 118.7h.1M44.9 117.9h.1M52.8 113.5h.1M55.4 132.7h.1M40.0 116.1h.1M50.0 120.1h.1M52.7 114.8h.1M51.8 120.0h.1M51.4 131.1h.1M52.9 109.4h.1M40.6 124.3h.1M49.5 115.6h.1M42.1 117.8h.1M51.3 115.1h.1M49.4 126.4h.1M57.7 123.9h.1M50.7 110.2h.1M57.7 130.8h.1M61.3 128.4h.1M54.0 122.7h.1M51.9 129.0h.1M50.0 135.4h.1M57.7 117.7h.1M52.0 108.4h.1M46.7 117.8h.1M69.8 114.1h.1M58.7 120.6h.1M49.8 124.5h.1M37.5 126.8h.1M66.1 122.1h.1M51.6 121.2h.1M56.8 116.5h.1M52.9 123.6h.1M49.5 122.8h.1M54.4 125.1h.1M44.8 116.1h.1M48.9 128.6h.1M53.8 108.1h.1M42.7 134.0h.1M54.5 110.7h.1M45.4 121.0h.1M62.4 131.7h.1M49.3 117.8h.1M66.0 112.9h.1M63.4 122.4h.1M52.7 129.3h.1M55.5 114.0h.1M40.9 120.1h.1M55.7 129.8h.1M33.0 129.7h.1M56.5 130.9h.1M57.8 121.5h.1M55.1 122.9h.1M47.4 119.2h.1M52.9 116.8h.1M41.3 109.6h.1M55.7 123.8h.1M52.8 111.6h.1M58.2 117.2h.1M36.9 131.3h.1M41.1 136.2h.1M55.9 116.8h.1M34.9 114.9h.1M62.8 129.8h.1M53.9 107.7h.1M49.2 118.0h.1M55.4 119.1h.1M54.5 108.2h.1M47.3 130.4h.1M41.4 126.7h.1M68.8 124.7h.1M41.9 129.0h.1M38.5 122.4h.1M49.0 128.9h.1M60.6 121.4h.1M65.1 127.1h.1M48.5 112.9h.1M69.9 117.1h.1M55.0 119.2h.1M48.6 108.4h.1M50.9 119.2h.1M59.2 116.3h.1M40.6 112.3h.1M51.7 121.8h.1M57.3 117.2h.1M55.9 121.0h.1M64.3 119.6h.1M53.1 124.1h.1M60.9 113.4h.1M48.6 118.0h.1M36.5 129.4h.1M59.8 120.2h.1M76.5 129.2h.1M66.7 131.3h.1M58.6 109.8h.1M63.2 123.0h.1M43.3 120.4h.1M57.5 127.1h.1M53.3 116.2h.1M57.6 114.5h.1M51.4 125.5h.1M41.5 122.7h.1M37.7 113.3h.1M43.0 119.4h.1M57.2 119.6h.1M58.7 120.7h.1M50.5 123.6h.1M50.3 121.0h.1M59.6 115.9h.1M60.4 112.0h.1M50.4 107.5h.1M48.1 131.5h.1M54.6 129.2h.1M41.3 112.7h.1M55.4 126.0h.1M58.1 107.9h.1M55.7 119.5h.1M52.9 123.5h.1M50.0 107.8h.1M44.2 109.5h.1M42.4 119.0h.1M61.5 114.8h.1M46.4 111.7h.1M39.4 120.5h.1M48.5 118.3h.1M45.0 123.5h.1M43.2 124.0h.1M47.2 125.7h.1M45.5 123.2h.1M55.2 119.4h.1M63.9 121.3h.1M45.5 125.0h.1M46.0 116.1h.1M52.1 121.3h.1M64.4 107.4h.1M50.1 128.2h.1M50.8 122.3h.1M63.1 111.1h.1M52.3 125.7h.1M47.7 107.3h.1M44.7 121.4h.1M53.4 133.3h.1M61.7 108.8h.1M59.6 126.6h.1M63.8 118.9h.1M47.9 121.1h.1M63.3 124.5h.1M64.4 125.7h.1M47.7 112.7h.1M65.5 109.0h.1M49.4 117.7h.1M45.3 115.9h.1M52.0 137.2h.1M51.5 116.2h.1M52.9 126.8h.1M46.0 117.1h.1M39.2 125.1h.1M57.0 130.9h.1M43.2 135.8h.1M58.4 118.0h.1M49.1 117.8h.1M43.1 125.6h.1M47.6 114.8h.1M55.8 120.8h.1M47.7 118.3h.1M48.4 129.8h.1M59.3 114.7h.1M51.7 130.0h.1M49.9 132.9h.1M55.3 124.9h.1M36.8 126.2h.1M54.5 124.2h.1M55.5 123.8h.1M48.3 126.5h.1M52.5 112.4h.1" stroke="#666" stroke-width="0.70" stroke-linecap="round" fill="none"/>
<ellipse cx="49.00" cy="107.60" rx="8.20" ry="5.80" fill="#767676" filter="url(#b0)" transform="rotate(12 49.00 107.60)"/>
<ellipse cx="49.00" cy="107.60" rx="6.60" ry="4.29" fill="#a8a8a8" filter="url(#b1)" transform="rotate(12 49.00 107.60)"/>
<ellipse cx="49.00" cy="107.60" rx="2.79" ry="1.97" fill="#d8d8d8" filter="url(#b1)" transform="rotate(12 49.00 107.60)"/>
<path d="M39.4 106.7h.1M57.2 105.5h.1M40.8 108.7h.1M57.3 108.5h.1M41.1 105.0h.1M46.5 113.5h.1M53.7 113.4h.1M47.5 101.3h.1M40.4 107.3h.1M51.4 113.3h.1M43.6 111.8h.1M58.1 109.6h.1M48.2 101.6h.1M47.3 113.1h.1M49.8 113.8h.1M43.5 112.4h.1M47.9 113.2h.1M43.0 111.6h.1M52.3 102.4h.1M57.2 104.6h.1M45.5 102.0h.1M52.1 113.3h.1M47.0 114.6h.1M42.7 103.2h.1M41.4 108.5h.1M50.9 99.6h.1M41.5 113.0h.1M47.4 113.7h.1M55.3 103.5h.1M42.4 111.4h.1M55.8 105.3h.1M50.4 113.7h.1M53.6 102.0h.1M46.8 101.8h.1M46.3 112.7h.1M57.3 108.8h.1M56.9 111.0h.1M51.1 113.8h.1M40.6 108.3h.1M52.1 113.4h.1M44.1 102.0h.1M51.6 114.2h.1M55.7 104.7h.1M48.2 113.5h.1M39.8 105.1h.1M49.0 101.8h.1M56.1 105.4h.1M53.8 103.6h.1M56.8 109.9h.1M43.1 102.6h.1M51.9 102.1h.1M55.1 103.8h.1M46.8 100.8h.1M52.7 102.0h.1M40.9 109.4h.1M43.8 112.7h.1M53.6 113.2h.1M54.2 113.4h.1M41.1 110.4h.1M41.5 109.5h.1M52.9 102.3h.1M57.1 106.8h.1M56.4 103.8h.1M40.8 104.4h.1M52.1 102.3h.1M47.5 113.2h.1M55.2 112.5h.1M41.2 109.4h.1M40.3 104.1h.1M52.8 102.1h.1M52.7 102.3h.1M53.2 113.4h.1M50.8 102.0h.1M43.0 111.8h.1M52.7 113.5h.1M53.6 102.5h.1M43.5 111.7h.1M50.1 101.1h.1M56.5 104.8h.1M40.6 109.7h.1M54.9 104.4h.1M41.9 111.3h.1M46.2 113.9h.1M44.6 113.1h.1M55.9 112.4h.1M59.1 111.7h.1M53.7 102.2h.1M41.5 104.6h.1M41.4 109.2h.1M56.5 106.4h.1M55.3 112.9h.1M44.3 101.3h.1M53.3 102.5h.1M58.4 112.1h.1M56.8 109.6h.1M53.5 114.6h.1M41.6 104.9h.1M40.9 104.8h.1M55.9 105.7h.1M39.9 106.5h.1M45.8 114.1h.1M46.6 101.6h.1M45.3 112.3h.1M53.1 102.0h.1M42.0 111.2h.1M40.0 107.7h.1M41.9 103.7h.1M58.2 107.9h.1M58.2 109.9h.1M40.0 106.1h.1M54.9 103.8h.1M48.3 101.2h.1M55.1 101.9h.1M44.0 100.2h.1M56.4 110.8h.1M42.2 103.6h.1M44.5 111.8h.1M56.4 112.3h.1M56.9 105.8h.1M40.0 108.0h.1M44.7 112.6h.1M57.5 108.5h.1M57.1 107.7h.1M57.3 112.8h.1M53.9 112.8h.1M41.1 108.8h.1" stroke="#505050" stroke-width="0.55" stroke-linecap="round" fill="none"/>
<ellipse cx="61.00" cy="118.60" rx="5.80" ry="6.60" fill="#767676" filter="url(#b0)" transform="rotate(25 61.00 118.60)"/>
<ellipse cx="61.00" cy="118.60" rx="4.29" ry="5.00" fill="#888" filter="url(#b1)" transform="rotate(25 61.00 118.60)"/>
<path d="M67.4 120.8h.1M58.6 126.9h.1M59.0 125.5h.1M64.9 122.9h.1M56.2 115.0h.1M56.5 113.2h.1M58.2 112.9h.1M61.8 110.8h.1M62.8 111.4h.1M57.1 123.8h.1M66.2 123.1h.1M60.5 125.1h.1M67.5 115.0h.1M66.5 113.3h.1M55.5 116.6h.1M63.5 112.0h.1M66.4 120.4h.1M55.8 121.8h.1M55.5 122.1h.1M66.3 115.0h.1M55.5 122.7h.1M56.4 123.6h.1M60.8 126.1h.1M65.9 114.4h.1M65.6 124.1h.1M66.7 120.5h.1M67.4 118.5h.1M66.6 121.1h.1M56.1 114.6h.1M65.7 122.0h.1M66.8 118.9h.1M54.6 122.1h.1M56.6 112.1h.1M67.4 115.9h.1M58.1 124.3h.1M55.1 119.5h.1M66.7 118.8h.1M57.4 113.0h.1M58.6 124.9h.1M64.3 125.0h.1M68.0 117.7h.1M55.3 122.3h.1M62.6 127.6h.1M66.2 112.6h.1M54.8 117.7h.1M69.1 118.0h.1M56.5 115.0h.1M67.4 120.6h.1M63.3 111.7h.1M53.7 120.0h.1M57.0 114.1h.1M66.7 115.4h.1M66.5 122.5h.1M62.0 124.9h.1M67.3 117.9h.1M55.1 119.7h.1M58.2 113.4h.1M63.8 123.7h.1M62.6 111.9h.1M65.7 113.6h.1M66.7 115.5h.1M66.3 121.3h.1M64.2 112.2h.1M66.1 121.9h.1M55.2 118.9h.1M67.5 120.6h.1M59.4 126.2h.1M63.5 124.7h.1M58.4 127.4h.1M55.5 123.4h.1M56.1 123.3h.1M55.2 120.0h.1M62.1 111.6h.1M60.5 126.5h.1M63.8 124.6h.1M67.5 117.7h.1M63.4 124.0h.1M54.2 121.8h.1M62.9 125.6h.1M54.6 117.0h.1M55.1 117.1h.1M54.1 119.3h.1M60.4 126.1h.1M66.9 116.9h.1M66.8 121.1h.1M59.1 125.0h.1M59.5 112.7h.1M61.7 111.6h.1M67.6 121.6h.1M53.9 118.7h.1M60.2 112.1h.1M55.5 122.3h.1M67.0 120.6h.1M55.3 117.0h.1M64.2 111.3h.1M60.9 110.7h.1M66.2 121.1h.1M55.2 118.9h.1M66.6 122.7h.1M59.9 125.0h.1M68.1 114.4h.1M54.6 122.3h.1M58.9 112.2h.1M64.7 113.2h.1M66.0 121.1h.1M67.3 116.1h.1M55.3 115.9h.1M58.7 113.0h.1M66.3 113.1h.1M54.4 120.8h.1M55.7 114.9h.1" stroke="#505050" stroke-width="0.55" stroke-linecap="round" fill="none"/>
<ellipse cx="43.40" cy="134.20" rx="8.40" ry="4.30" fill="#767676" filter="url(#b0)"/>
<ellipse cx="42.80" cy="134.35" rx="6.80" ry="3.18" fill="#a8a8a8" filter="url(#b1)"/>
<ellipse cx="42.20" cy="134.50" rx="3.02" ry="1.55" fill="#efefef" filter="url(#b1)"/>
<path d="M52.1 133.9h.1M52.1 131.7h.1M40.6 129.7h.1M50.0 138.4h.1M39.4 130.3h.1M37.6 131.0h.1M51.3 132.0h.1M34.3 133.2h.1M38.6 137.6h.1M53.4 136.5h.1M46.7 130.2h.1M52.0 134.3h.1M42.1 130.0h.1M46.6 130.1h.1M50.9 137.9h.1M53.6 134.6h.1M47.9 129.9h.1M35.1 133.8h.1M51.2 138.0h.1M38.0 139.6h.1M36.4 136.3h.1M44.5 129.8h.1M53.1 133.8h.1M45.1 128.6h.1M51.7 136.6h.1M43.4 130.0h.1M38.4 138.2h.1M52.8 133.9h.1M49.4 137.4h.1M53.6 134.1h.1M35.3 133.7h.1M44.3 129.7h.1M43.1 129.5h.1M40.8 129.8h.1M48.5 130.5h.1M42.7 129.5h.1M35.5 132.4h.1M51.4 136.3h.1M49.6 137.3h.1M51.5 135.5h.1M35.8 130.7h.1M45.7 138.4h.1M35.7 130.5h.1M44.7 138.9h.1M42.4 138.6h.1M48.9 138.0h.1M52.1 132.2h.1M47.3 137.9h.1M52.4 136.0h.1M40.3 138.8h.1M50.5 131.9h.1M35.2 132.0h.1M45.5 129.5h.1M35.5 138.7h.1M45.5 130.2h.1M49.5 137.4h.1M38.7 130.5h.1M49.9 137.8h.1M51.7 134.4h.1M42.9 138.7h.1M52.1 134.3h.1M42.9 138.3h.1M35.5 136.6h.1M38.2 137.4h.1M47.7 130.6h.1M42.8 130.0h.1M44.2 138.3h.1M50.7 131.5h.1M46.9 130.4h.1M50.5 131.2h.1M34.9 132.4h.1M50.0 137.2h.1M38.9 129.8h.1M37.2 130.9h.1M51.5 136.1h.1M52.8 134.7h.1M52.0 131.2h.1M50.7 136.1h.1M38.3 137.9h.1M46.4 138.9h.1M48.4 129.8h.1M36.8 137.3h.1M35.8 132.3h.1M39.6 130.5h.1M51.0 137.0h.1M45.8 130.1h.1M41.9 138.6h.1M37.6 130.6h.1M49.0 130.4h.1M43.5 129.9h.1M48.1 138.5h.1M43.8 138.5h.1M38.4 137.7h.1M49.7 131.4h.1M45.1 138.5h.1M36.4 131.9h.1M50.1 136.5h.1M35.6 132.4h.1M44.6 129.9h.1M44.0 139.0h.1M38.6 138.1h.1M52.1 132.6h.1M34.8 133.1h.1M48.9 129.7h.1M35.4 133.2h.1M41.3 129.1h.1M53.9 133.2h.1M43.9 129.9h.1M34.3 136.1h.1M44.4 138.4h.1M41.1 129.7h.1M33.5 134.5h.1M42.0 129.7h.1M53.9 133.9h.1" stroke="#505050" stroke-width="0.55" stroke-linecap="round" fill="none"/>
<line x1="52.40" y1="94.50" x2="52.40" y2="142.40" stroke="#3a3a3a" stroke-width="1.1"/>
<line x1="28.50" y1="128.30" x2="81.00" y2="128.30" stroke="#3a3a3a" stroke-width="1.1"/>
<line x1="28.50" y1="94.50" x2="81.00" y2="94.50" stroke="#666" stroke-width="0.7"/>
<line x1="81.00" y1="94.50" x2="81.00" y2="142.40" stroke="#666" stroke-width="0.7"/>
<line x1="28.50" y1="94.20" x2="28.50" y2="143.00" stroke="#111" stroke-width="1.3"/>
<line x1="27.90" y1="142.40" x2="81.30" y2="142.40" stroke="#111" stroke-width="1.3"/>
<line x1="30.50" y1="143.50" x2="81.00" y2="143.50" stroke="#222" stroke-width="1.0" stroke-dasharray="0.5 1.1"/>
<line x1="27.40" y1="94.50" x2="27.40" y2="140.40" stroke="#222" stroke-width="1.0" stroke-dasharray="0.5 1.1"/>
<text x="33.75" y="148.20" font-size="4.2" text-anchor="middle" fill="#444">0</text>
<text x="40.05" y="148.20" font-size="4.2" text-anchor="middle" fill="#444">10<tspan dy="-1.76" font-size="2.86">2</tspan></text>
<text x="53.17" y="148.20" font-size="4.2" text-anchor="middle" fill="#444">10<tspan dy="-1.76" font-size="2.86">3</tspan></text>
<text x="66.82" y="148.20" font-size="4.2" text-anchor="middle" fill="#444">10<tspan dy="-1.76" font-size="2.86">4</tspan></text>
<text x="78.90" y="148.20" font-size="4.2" text-anchor="middle" fill="#444">10<tspan dy="-1.76" font-size="2.86">5</tspan></text>
<text x="26.10" y="139.05" font-size="4.2" text-anchor="middle" transform="rotate(-90 26.10 139.05)" fill="#444">0</text>
<text x="26.10" y="132.82" font-size="4.2" text-anchor="middle" transform="rotate(-90 26.10 132.82)" fill="#444">10<tspan dy="-1.76" font-size="2.86">2</tspan></text>
<text x="26.10" y="120.84" font-size="4.2" text-anchor="middle" transform="rotate(-90 26.10 120.84)" fill="#444">10<tspan dy="-1.76" font-size="2.86">3</tspan></text>
<text x="26.10" y="108.87" font-size="4.2" text-anchor="middle" transform="rotate(-90 26.10 108.87)" fill="#444">10<tspan dy="-1.76" font-size="2.86">4</tspan></text>
<text x="26.10" y="97.85" font-size="4.2" text-anchor="middle" transform="rotate(-90 26.10 97.85)" fill="#444">10<tspan dy="-1.76" font-size="2.86">5</tspan></text>
<path d="M126.5 121.6h.1M128.4 104.8h.1M124.4 118.3h.1M132.7 124.4h.1M125.3 117.8h.1M128.9 126.4h.1M133.3 120.0h.1M125.8 117.3h.1M124.9 115.6h.1M125.6 120.5h.1M133.4 124.8h.1M130.6 124.1h.1M124.3 120.9h.1M131.3 117.8h.1M119.7 128.7h.1M127.9 124.3h.1M127.9 116.6h.1M125.1 110.5h.1M133.8 107.7h.1M134.8 124.4h.1M119.7 118.1h.1M119.9 127.5h.1M132.5 125.1h.1M123.9 122.6h.1M125.7 122.9h.1M119.2 125.6h.1M125.8 128.7h.1M122.9 123.4h.1M140.7 110.6h.1M122.6 107.1h.1M130.2 122.6h.1M130.3 119.8h.1M119.6 118.6h.1M131.3 115.4h.1M121.3 137.6h.1M132.1 109.7h.1M129.1 106.1h.1M126.8 117.0h.1M130.0 123.9h.1M134.9 118.7h.1M131.2 124.4h.1M122.4 128.7h.1M120.5 120.3h.1M129.9 123.5h.1M134.8 124.5h.1M117.6 121.2h.1M131.8 128.4h.1M114.1 131.8h.1M127.3 124.6h.1M124.4 124.6h.1M126.0 114.0h.1M122.7 118.5h.1M132.1 124.2h.1M132.0 111.9h.1M129.7 127.5h.1M121.4 133.1h.1M127.2 116.9h.1M128.2 120.3h.1M115.9 137.2h.1M139.6 124.5h.1M122.8 122.8h.1M124.0 116.9h.1M129.5 120.7h.1M121.3 123.6h.1M149.5 110.9h.1M132.3 126.5h.1M126.2 109.2h.1M134.8 117.3h.1M139.9 110.7h.1M130.1 121.5h.1M121.5 113.2h.1M134.6 108.6h.1M138.9 119.2h.1M127.2 118.9h.1M123.1 119.1h.1M120.8 121.7h.1M136.9 111.9h.1M124.9 125.6h.1M127.9 120.4h.1M144.6 123.5h.1M124.9 126.2h.1M126.0 125.8h.1M105.8 119.2h.1M129.2 117.3h.1M125.5 124.1h.1M126.7 115.1h.1M121.6 127.4h.1M135.3 132.6h.1M127.8 120.8h.1M133.0 118.8h.1M126.6 126.2h.1M109.8 129.0h.1M128.3 130.0h.1M123.0 116.9h.1M118.3 126.6h.1M127.5 123.2h.1M137.5 115.4h.1M128.4 120.7h.1M135.3 108.5h.1M129.6 128.3h.1M125.4 124.0h.1M137.1 116.9h.1M118.2 121.8h.1M135.1 124.3h.1M128.1 124.7h.1M132.9 113.4h.1M133.3 116.0h.1M122.9 119.9h.1M121.7 116.6h.1M115.6 123.0h.1M128.2 119.7h.1M127.6 113.2h.1M127.5 123.5h.1M134.5 109.0h.1M126.9 121.8h.1M145.5 118.3h.1M118.4 129.8h.1M128.9 119.3h.1M129.1 126.4h.1M117.6 126.6h.1M132.0 115.9h.1M119.7 120.7h.1M133.5 112.4h.1M121.3 130.9h.1M129.6 119.6h.1M125.8 117.5h.1M124.4 131.9h.1M126.6 129.0h.1M120.8 122.1h.1M118.8 114.0h.1M130.1 118.8h.1M125.7 120.5h.1M127.5 115.8h.1M114.2 118.3h.1M129.3 120.1h.1M129.4 130.1h.1M124.9 115.9h.1M120.9 125.7h.1M120.9 115.3h.1M129.8 117.9h.1M131.0 128.7h.1M134.7 111.2h.1M123.9 120.7h.1M116.4 138.0h.1M120.7 128.7h.1M118.5 117.7h.1M128.6 118.5h.1M133.4 123.2h.1M120.8 130.0h.1M119.3 113.3h.1M116.4 121.4h.1M121.8 133.7h.1M133.3 118.8h.1M134.4 119.8h.1M137.4 122.1h.1M125.2 114.7h.1M116.3 132.0h.1M127.4 127.4h.1M124.8 131.2h.1M128.7 129.6h.1M136.3 122.6h.1M136.1 99.7h.1M120.7 121.7h.1M124.5 118.7h.1M115.9 126.7h.1M123.6 115.7h.1M132.1 118.0h.1M125.8 113.3h.1M130.4 123.9h.1M131.6 123.0h.1M126.5 123.2h.1M125.0 130.5h.1M134.7 123.0h.1M124.0 134.7h.1M127.1 116.3h.1M119.9 124.2h.1M122.5 130.3h.1M137.9 116.2h.1M133.5 121.3h.1M115.2 122.1h.1M123.0 119.0h.1M126.6 121.0h.1M126.0 121.8h.1M135.7 128.8h.1M125.5 121.1h.1M125.6 126.6h.1M124.6 127.5h.1M114.0 124.9h.1M119.9 127.0h.1M133.5 105.3h.1M125.6 126.0h.1M120.2 122.7h.1M136.2 125.8h.1M131.5 114.9h.1M113.7 120.7h.1M126.2 128.5h.1M127.9 117.9h.1M117.2 125.6h.1M127.9 122.9h.1M132.0 108.9h.1M146.7 118.8h.1M116.6 130.0h.1M137.0 118.0h.1M134.2 122.6h.1M135.8 125.0h.1M122.4 122.6h.1M131.8 119.7h.1M129.8 126.9h.1M124.2 139.5h.1M131.5 113.9h.1M117.9 121.9h.1M124.3 111.1h.1M127.2 126.5h.1M129.4 131.5h.1M124.7 118.2h.1M120.8 130.0h.1M130.7 123.8h.1M114.6 115.4h.1M131.5 121.2h.1M139.4 118.8h.1M129.9 119.1h.1M123.9 125.9h.1M113.1 140.0h.1M122.1 136.5h.1M117.8 118.3h.1M125.2 126.9h.1M117.6 128.4h.1M122.0 123.4h.1M135.4 121.8h.1M115.8 126.7h.1M147.6 105.7h.1M127.2 120.6h.1M132.2 123.3h.1M120.1 118.1h.1M130.4 109.7h.1M121.7 119.8h.1M132.2 122.6h.1M121.9 119.0h.1M127.0 124.4h.1M123.8 112.9h.1M125.5 121.2h.1M129.6 123.0h.1M126.4 124.1h.1M124.6 121.9h.1M123.9 124.3h.1M133.7 116.2h.1M117.3 124.8h.1M127.5 116.2h.1M128.4 124.9h.1M128.6 126.2h.1M129.7 113.2h.1M140.0 120.1h.1M124.3 114.3h.1M136.8 111.0h.1M131.7 114.4h.1M133.1 114.5h.1M131.8 108.7h.1M131.3 116.2h.1M128.8 110.4h.1" stroke="#666" stroke-width="0.70" stroke-linecap="round" fill="none"/>
<path d="M132.1 130.9h.1M129.9 134.5h.1M137.8 134.3h.1M139.6 135.1h.1M145.4 128.9h.1M148.9 133.3h.1M141.2 133.8h.1M139.6 131.1h.1M127.6 132.9h.1M148.8 131.3h.1M129.4 129.0h.1M129.6 131.6h.1M137.1 127.4h.1M148.7 129.5h.1M143.1 138.1h.1M142.4 135.2h.1M130.9 130.1h.1M142.0 133.0h.1M140.8 136.7h.1M143.7 124.3h.1M135.0 139.9h.1M132.7 139.3h.1M131.4 134.8h.1M136.6 140.0h.1M133.9 129.4h.1M129.5 129.6h.1M138.9 135.7h.1M143.0 132.7h.1M139.5 136.1h.1M129.3 135.1h.1M131.9 130.5h.1M133.4 134.2h.1M131.8 130.3h.1M128.9 132.3h.1M138.5 128.8h.1M136.7 134.0h.1M131.7 134.2h.1M141.5 133.8h.1M131.2 132.4h.1M134.7 137.8h.1M141.4 131.3h.1M136.1 124.8h.1M138.8 129.5h.1M141.6 129.4h.1M140.0 140.0h.1M139.9 130.2h.1M132.9 132.5h.1M140.4 139.1h.1M130.6 129.6h.1M142.6 130.8h.1M134.5 138.6h.1M138.4 135.4h.1M143.7 133.7h.1M136.2 135.6h.1M144.7 124.8h.1M122.0 130.7h.1M137.5 126.1h.1M137.0 139.4h.1M139.5 130.6h.1" stroke="#777" stroke-width="0.70" stroke-linecap="round" fill="none"/>
<path d="M114.6 114.0h.1M115.3 112.3h.1M111.9 114.9h.1M110.5 112.9h.1M106.3 112.5h.1M122.7 105.8h.1M121.6 120.6h.1M104.9 112.2h.1M111.3 129.2h.1M105.4 121.2h.1M112.3 120.0h.1M105.9 121.8h.1M104.9 110.2h.1M115.7 118.5h.1M105.6 104.2h.1M111.0 117.0h.1M114.2 113.4h.1M114.6 117.4h.1M111.8 119.2h.1M111.1 122.7h.1M121.5 113.3h.1M108.5 109.7h.1M109.7 122.8h.1M111.7 109.5h.1M112.4 108.2h.1M118.8 123.0h.1M119.9 125.1h.1M109.6 110.6h.1M112.5 118.2h.1M115.5 104.0h.1M111.0 118.5h.1M111.2 115.9h.1M103.1 104.2h.1M115.5 118.1h.1M119.0 106.4h.1M113.1 111.2h.1M115.6 120.0h.1M109.6 112.3h.1M116.1 106.7h.1" stroke="#888" stroke-width="0.70" stroke-linecap="round" fill="none"/>
<ellipse cx="135.40" cy="104.20" rx="5.50" ry="4.70" fill="#767676" filter="url(#b0)"/>
<ellipse cx="135.40" cy="104.20" rx="4.07" ry="3.48" fill="#858585" filter="url(#b1)"/>
<path d="M131.9 107.7h.1M132.6 100.3h.1M140.5 103.1h.1M133.6 110.4h.1M137.0 109.1h.1M140.4 106.0h.1M138.8 100.2h.1M129.5 103.6h.1M130.0 103.9h.1M138.1 108.7h.1M128.8 106.3h.1M136.0 109.0h.1M129.9 103.6h.1M131.7 99.9h.1M133.3 108.9h.1M135.2 98.5h.1M130.3 100.7h.1M137.8 108.7h.1M137.8 99.0h.1M140.9 106.1h.1M129.9 105.2h.1M140.0 100.1h.1M135.9 99.3h.1M134.4 109.2h.1M129.6 105.0h.1M130.0 103.3h.1M138.4 100.0h.1M138.6 108.5h.1M142.2 103.7h.1M131.7 107.7h.1M140.5 102.9h.1M137.4 109.7h.1M138.4 108.3h.1M135.5 99.3h.1M132.1 107.7h.1M140.6 106.8h.1M135.0 99.6h.1M128.5 104.5h.1M138.1 108.4h.1M140.8 101.6h.1M129.5 103.3h.1M138.1 108.4h.1M137.3 108.9h.1M130.9 100.9h.1M129.5 101.7h.1M138.5 99.1h.1M129.2 103.9h.1M131.8 100.8h.1M129.9 107.4h.1M134.4 99.4h.1M133.7 108.7h.1M135.5 98.6h.1M130.2 102.9h.1M134.1 99.4h.1M129.3 105.0h.1M135.4 98.9h.1M135.1 109.1h.1M130.9 101.8h.1M136.1 109.2h.1M140.5 100.8h.1M134.8 98.5h.1M134.8 108.8h.1M140.3 102.3h.1M131.3 100.4h.1M129.4 104.4h.1M132.7 99.9h.1M130.3 99.9h.1M140.8 106.5h.1M133.1 109.8h.1M133.9 98.9h.1M141.4 106.6h.1M138.1 100.3h.1M132.7 98.8h.1M129.0 105.4h.1M141.6 104.0h.1M141.7 102.8h.1M132.6 99.8h.1M130.3 107.4h.1M136.5 108.6h.1M135.0 109.5h.1M133.2 98.8h.1M133.0 99.1h.1M132.7 100.2h.1M142.9 104.5h.1M137.1 109.2h.1M129.6 105.2h.1M137.9 99.9h.1M141.0 105.2h.1M140.0 99.9h.1M135.1 109.4h.1M130.0 105.7h.1" stroke="#505050" stroke-width="0.55" stroke-linecap="round" fill="none"/>
<ellipse cx="137.00" cy="119.00" rx="7.80" ry="4.60" fill="#767676" filter="url(#b0)" transform="rotate(-42 137.00 119.00)"/>
<ellipse cx="137.00" cy="119.00" rx="6.20" ry="3.40" fill="#858585" filter="url(#b1)" transform="rotate(-42 137.00 119.00)"/>
<path d="M142.5 111.8h.1M143.6 117.1h.1M142.7 114.1h.1M136.8 113.4h.1M140.7 123.1h.1M142.1 120.4h.1M132.4 116.9h.1M144.5 115.5h.1M137.2 113.4h.1M131.2 117.5h.1M136.5 125.0h.1M133.3 115.7h.1M130.2 122.6h.1M131.5 125.0h.1M143.8 113.5h.1M143.2 118.1h.1M139.8 111.9h.1M135.4 113.5h.1M137.7 126.5h.1M130.1 120.7h.1M134.4 125.7h.1M141.6 113.2h.1M137.8 124.5h.1M131.0 119.2h.1M139.2 112.9h.1M142.9 113.3h.1M131.9 115.8h.1M143.3 117.1h.1M130.3 121.3h.1M130.3 118.3h.1M144.1 115.2h.1M130.7 120.9h.1M133.8 126.2h.1M130.4 121.7h.1M139.5 112.9h.1M142.6 120.1h.1M144.5 117.0h.1M144.8 117.4h.1M135.4 126.3h.1M143.1 112.6h.1M142.5 113.7h.1M140.1 122.5h.1M130.7 124.6h.1M132.0 124.6h.1M131.8 118.1h.1M136.9 124.7h.1M143.6 116.4h.1M135.8 114.1h.1M139.6 111.4h.1M137.7 113.1h.1M130.8 119.3h.1M145.1 115.4h.1M143.9 114.7h.1M140.4 112.8h.1M134.0 115.3h.1M131.2 119.4h.1M143.4 118.5h.1M141.4 122.3h.1M131.5 124.9h.1M129.1 120.3h.1M132.0 117.7h.1M139.4 112.8h.1M134.7 113.9h.1M131.5 124.3h.1M133.9 115.1h.1M131.0 123.8h.1M142.0 121.5h.1M138.7 113.1h.1M132.8 116.6h.1M129.5 122.2h.1M129.5 122.4h.1M131.9 117.8h.1M139.7 111.4h.1M131.8 118.1h.1M143.1 117.6h.1M135.8 125.5h.1M130.7 125.0h.1M131.5 114.7h.1M135.1 125.5h.1M144.5 119.1h.1M130.1 120.2h.1M139.0 112.9h.1M136.0 114.1h.1M136.1 113.8h.1M133.3 125.6h.1M132.8 116.0h.1M140.2 111.6h.1M142.9 119.8h.1M135.2 125.5h.1M136.5 124.5h.1M142.6 119.8h.1M131.3 119.2h.1M133.8 125.0h.1M137.0 125.6h.1M143.8 113.9h.1M139.4 111.7h.1M138.4 123.6h.1M144.2 118.5h.1M142.4 112.7h.1M144.3 114.7h.1M139.5 125.0h.1M144.0 118.4h.1M128.3 122.4h.1M133.3 115.1h.1M136.4 114.0h.1M140.6 122.3h.1M143.5 114.7h.1M141.9 120.2h.1M143.5 119.8h.1M138.9 123.9h.1M142.2 113.2h.1" stroke="#505050" stroke-width="0.55" stroke-linecap="round" fill="none"/>
<path d="M137.2 108.8h.1M139.1 114.4h.1M138.6 108.1h.1M134.8 111.2h.1M136.6 114.1h.1M138.3 108.1h.1M135.8 112.0h.1M137.9 112.4h.1M140.7 111.2h.1M134.6 111.4h.1M135.3 110.0h.1M136.4 111.8h.1M132.0 111.0h.1M134.5 114.3h.1M137.0 111.4h.1M135.7 113.8h.1M131.5 109.9h.1M138.3 108.8h.1M131.4 110.1h.1M133.6 111.8h.1M133.1 114.0h.1M136.6 110.0h.1M137.2 110.4h.1M137.1 110.2h.1M139.8 113.2h.1M134.2 112.1h.1M134.9 108.2h.1M135.6 111.9h.1M133.6 114.0h.1M141.5 109.2h.1M133.7 110.9h.1M137.0 109.7h.1M134.9 113.8h.1M133.7 111.6h.1M132.8 111.5h.1M134.7 114.1h.1M135.9 110.4h.1M135.1 114.1h.1M138.1 111.1h.1M132.3 111.4h.1M138.9 111.8h.1M132.4 112.2h.1M135.4 111.6h.1M135.6 109.8h.1M133.8 113.4h.1M137.2 109.5h.1M131.6 113.6h.1M137.4 111.8h.1M134.8 115.2h.1M132.3 110.7h.1M137.4 112.4h.1M137.4 108.8h.1M137.9 113.9h.1M134.8 113.5h.1M135.2 111.5h.1M136.0 111.1h.1M136.3 114.0h.1M139.4 112.8h.1M137.4 109.1h.1M135.5 112.5h.1" stroke="#555" stroke-width="0.70" stroke-linecap="round" fill="none"/>
<ellipse cx="115.30" cy="134.30" rx="7.40" ry="4.90" fill="#767676" filter="url(#b0)" transform="rotate(-14 115.30 134.30)"/>
<ellipse cx="114.70" cy="134.60" rx="5.80" ry="3.63" fill="#a8a8a8" filter="url(#b1)" transform="rotate(-14 115.30 134.30)"/>
<ellipse cx="114.10" cy="134.90" rx="2.66" ry="1.76" fill="#eaeaea" filter="url(#b1)" transform="rotate(-14 115.30 134.30)"/>
<path d="M111.2 130.9h.1M109.4 138.9h.1M110.9 139.2h.1M122.9 132.4h.1M122.2 134.8h.1M106.5 134.5h.1M121.7 136.1h.1M106.3 135.0h.1M111.3 129.0h.1M109.1 132.9h.1M107.1 135.4h.1M110.8 139.0h.1M109.6 138.1h.1M123.2 131.9h.1M114.2 129.2h.1M116.9 129.4h.1M112.1 129.6h.1M118.6 138.2h.1M118.9 138.0h.1M120.1 138.1h.1M123.8 132.9h.1M120.8 128.4h.1M122.9 130.5h.1M108.1 132.2h.1M107.1 138.4h.1M119.6 128.3h.1M110.0 131.5h.1M115.3 129.3h.1M107.9 135.4h.1M108.9 132.8h.1M107.9 133.9h.1M121.9 131.7h.1M123.7 130.7h.1M110.4 130.5h.1M108.4 137.1h.1M121.7 136.5h.1M119.7 137.8h.1M121.3 129.3h.1M106.7 134.1h.1M121.2 129.3h.1M108.1 137.9h.1M116.9 139.4h.1M117.7 129.2h.1M122.9 133.8h.1M109.2 138.4h.1M104.7 135.0h.1M111.7 139.2h.1M122.9 130.9h.1M108.1 134.1h.1M118.8 138.2h.1M114.6 128.7h.1M121.9 130.0h.1M107.1 134.6h.1M121.1 136.6h.1M119.3 137.8h.1M122.4 131.9h.1M109.1 137.9h.1M122.8 134.4h.1M118.0 138.7h.1M109.8 131.9h.1M112.7 130.2h.1M107.6 133.4h.1M122.4 132.9h.1M111.6 139.7h.1M122.3 132.4h.1M112.1 139.9h.1M116.3 128.2h.1M106.3 136.9h.1M121.2 136.1h.1M117.9 139.4h.1M108.9 137.3h.1M122.6 130.9h.1M107.9 136.3h.1M121.5 135.7h.1M120.6 138.0h.1M119.9 129.4h.1M108.4 136.7h.1M122.8 132.3h.1M116.0 129.0h.1M112.6 139.2h.1M117.0 138.8h.1M113.8 139.4h.1M110.9 130.8h.1M121.1 128.7h.1M122.5 134.1h.1M108.5 136.5h.1M116.9 139.2h.1M113.4 129.6h.1M114.9 139.3h.1M123.8 134.6h.1M107.9 137.1h.1M122.4 131.2h.1M116.3 139.0h.1M119.4 138.5h.1M107.2 135.7h.1M115.2 128.9h.1M110.8 131.1h.1M122.6 130.7h.1M120.9 136.9h.1M113.7 128.5h.1M110.4 130.7h.1M122.9 130.9h.1M122.6 131.6h.1M116.5 129.2h.1M121.2 130.4h.1M124.4 134.6h.1M109.9 130.8h.1M122.8 130.6h.1M107.9 132.9h.1M118.2 139.5h.1" stroke="#505050" stroke-width="0.55" stroke-linecap="round" fill="none"/>
<ellipse cx="123" cy="135.2" rx="1.8" ry="3" fill="#4a4a4a" filter="url(#b0)"/>
<line x1="123.40" y1="94.50" x2="123.40" y2="142.40" stroke="#3a3a3a" stroke-width="1.1"/>
<line x1="101.40" y1="126.50" x2="153.90" y2="126.50" stroke="#3a3a3a" stroke-width="1.1"/>
<line x1="101.40" y1="94.50" x2="153.90" y2="94.50" stroke="#666" stroke-width="0.7"/>
<line x1="153.90" y1="94.50" x2="153.90" y2="142.40" stroke="#666" stroke-width="0.7"/>
<line x1="101.40" y1="94.20" x2="101.40" y2="143.00" stroke="#111" stroke-width="1.3"/>
<line x1="100.80" y1="142.40" x2="154.20" y2="142.40" stroke="#111" stroke-width="1.3"/>
<line x1="103.40" y1="143.50" x2="153.90" y2="143.50" stroke="#222" stroke-width="1.0" stroke-dasharray="0.5 1.1"/>
<line x1="100.30" y1="94.50" x2="100.30" y2="140.40" stroke="#222" stroke-width="1.0" stroke-dasharray="0.5 1.1"/>
<text x="106.65" y="148.20" font-size="4.2" text-anchor="middle" fill="#444">0</text>
<text x="112.95" y="148.20" font-size="4.2" text-anchor="middle" fill="#444">10<tspan dy="-1.76" font-size="2.86">2</tspan></text>
<text x="126.08" y="148.20" font-size="4.2" text-anchor="middle" fill="#444">10<tspan dy="-1.76" font-size="2.86">3</tspan></text>
<text x="139.72" y="148.20" font-size="4.2" text-anchor="middle" fill="#444">10<tspan dy="-1.76" font-size="2.86">4</tspan></text>
<text x="151.80" y="148.20" font-size="4.2" text-anchor="middle" fill="#444">10<tspan dy="-1.76" font-size="2.86">5</tspan></text>
<text x="99.00" y="139.05" font-size="4.2" text-anchor="middle" transform="rotate(-90 99.00 139.05)" fill="#444">0</text>
<text x="99.00" y="132.82" font-size="4.2" text-anchor="middle" transform="rotate(-90 99.00 132.82)" fill="#444">10<tspan dy="-1.76" font-size="2.86">2</tspan></text>
<text x="99.00" y="120.84" font-size="4.2" text-anchor="middle" transform="rotate(-90 99.00 120.84)" fill="#444">10<tspan dy="-1.76" font-size="2.86">3</tspan></text>
<text x="99.00" y="108.87" font-size="4.2" text-anchor="middle" transform="rotate(-90 99.00 108.87)" fill="#444">10<tspan dy="-1.76" font-size="2.86">4</tspan></text>
<text x="99.00" y="97.85" font-size="4.2" text-anchor="middle" transform="rotate(-90 99.00 97.85)" fill="#444">10<tspan dy="-1.76" font-size="2.86">5</tspan></text>
<path d="M203.5 111.2h.1M198.2 113.7h.1M197.4 118.9h.1M209.3 100.6h.1M193.9 126.5h.1M189.3 119.0h.1M198.0 111.2h.1M211.8 113.0h.1M195.5 120.5h.1M201.2 128.9h.1M201.1 118.2h.1M200.1 130.4h.1M196.8 114.9h.1M211.7 110.6h.1M200.3 124.8h.1M195.6 120.6h.1M202.0 106.9h.1M198.1 118.8h.1M198.2 111.1h.1M190.7 123.2h.1M193.9 124.0h.1M199.5 119.5h.1M196.5 111.9h.1M197.8 121.2h.1M209.4 112.3h.1M207.9 127.3h.1M201.7 126.9h.1M199.5 108.7h.1M202.5 121.9h.1M197.1 131.5h.1M197.9 123.1h.1M199.7 121.2h.1M200.6 129.7h.1M200.5 130.4h.1M193.9 115.7h.1M205.6 113.9h.1M192.8 114.2h.1M197.1 119.0h.1M188.9 117.3h.1M188.7 118.7h.1M210.1 115.7h.1M191.8 116.0h.1M200.3 121.0h.1M194.5 120.9h.1M205.4 110.8h.1M201.3 126.1h.1M198.4 118.3h.1M196.7 128.4h.1M199.6 115.2h.1M203.8 125.2h.1M198.0 117.9h.1M200.5 117.7h.1M204.8 111.1h.1M193.5 117.3h.1M195.1 111.1h.1M189.5 113.9h.1M197.6 117.7h.1M195.5 116.8h.1M193.9 124.2h.1M179.3 126.2h.1M211.5 109.8h.1M217.1 118.3h.1M196.4 112.9h.1M198.8 111.4h.1M200.8 118.8h.1M209.6 108.1h.1M197.2 118.0h.1M215.2 103.9h.1M202.3 109.4h.1M207.3 133.0h.1M195.6 125.6h.1M205.6 117.4h.1M205.4 111.0h.1M211.2 110.9h.1M200.1 121.7h.1M199.8 116.6h.1M200.1 111.1h.1M201.3 114.0h.1M186.2 137.7h.1M197.7 117.3h.1M191.0 113.1h.1M192.4 127.6h.1M201.7 125.1h.1M210.7 104.7h.1M193.8 133.1h.1M210.2 122.1h.1M202.6 117.8h.1M200.4 130.4h.1M205.6 124.2h.1M197.6 115.3h.1M208.4 118.7h.1M181.4 129.9h.1M207.7 119.8h.1M196.7 114.4h.1M200.4 114.2h.1M199.3 111.9h.1M207.5 118.4h.1M182.8 132.8h.1M193.3 131.8h.1M190.9 134.9h.1M197.2 119.6h.1M197.0 113.3h.1M211.1 133.4h.1M196.9 114.2h.1M218.6 109.8h.1M201.9 118.9h.1M187.8 124.0h.1M199.0 131.2h.1M207.4 112.4h.1M185.7 116.9h.1M190.9 116.7h.1M194.0 110.3h.1M200.8 116.7h.1M194.4 123.9h.1M191.7 121.5h.1M201.4 131.8h.1M191.0 126.9h.1M190.9 120.7h.1M205.1 112.1h.1M190.4 108.8h.1M203.0 130.6h.1M193.6 98.8h.1M188.4 125.6h.1M189.3 127.2h.1M198.4 130.7h.1M213.6 115.6h.1M193.2 125.5h.1M204.3 107.0h.1M195.1 113.4h.1M205.9 124.0h.1M207.2 128.9h.1M200.7 123.3h.1M206.8 104.5h.1M200.5 105.7h.1M193.8 119.5h.1M205.3 104.2h.1M203.3 104.0h.1M203.5 121.4h.1M208.1 127.9h.1M194.9 111.1h.1M202.4 124.0h.1M178.7 118.4h.1M208.6 101.1h.1M208.9 114.2h.1M191.1 118.9h.1M201.0 112.7h.1M206.7 113.9h.1M204.8 127.8h.1M194.0 112.6h.1M194.4 118.6h.1M213.8 111.8h.1M192.5 118.8h.1M200.0 117.9h.1M210.8 103.6h.1M192.6 121.0h.1M200.2 125.2h.1M198.0 115.3h.1M194.7 115.7h.1M197.9 118.7h.1M207.2 103.7h.1M208.7 110.7h.1M200.6 132.3h.1M197.8 110.1h.1M195.2 118.1h.1M192.4 125.2h.1M204.7 124.7h.1M191.1 111.2h.1M212.4 116.0h.1M199.7 129.2h.1" stroke="#777" stroke-width="0.70" stroke-linecap="round" fill="none"/>
<ellipse cx="204.30" cy="106.00" rx="6.00" ry="4.30" fill="#767676" filter="url(#b0)" transform="rotate(-15 204.30 106.00)"/>
<ellipse cx="204.30" cy="106.00" rx="4.44" ry="3.18" fill="#858585" filter="url(#b1)" transform="rotate(-15 204.30 106.00)"/>
<path d="M200.1 109.4h.1M198.6 105.5h.1M206.7 101.5h.1M203.2 110.3h.1M209.6 107.4h.1M204.9 111.7h.1M208.1 109.0h.1M203.9 110.9h.1M201.3 110.8h.1M200.6 103.1h.1M198.7 105.4h.1M202.3 102.2h.1M200.5 103.1h.1M211.1 106.3h.1M208.6 108.9h.1M199.9 109.6h.1M201.8 110.2h.1M208.3 101.3h.1M199.2 103.6h.1M197.7 105.1h.1M198.7 107.6h.1M200.2 109.8h.1M199.8 109.9h.1M200.4 102.6h.1M199.5 109.1h.1M200.2 109.7h.1M204.7 101.1h.1M207.8 109.5h.1M198.8 105.4h.1M204.0 101.2h.1M207.8 109.5h.1M199.9 103.6h.1M206.2 110.2h.1M203.4 111.0h.1M208.4 100.9h.1M204.8 101.1h.1M207.3 109.7h.1M198.8 108.6h.1M200.5 109.7h.1M207.4 109.5h.1M198.2 108.0h.1M210.3 105.9h.1M205.2 101.0h.1M202.2 102.3h.1M205.5 110.5h.1M197.2 104.5h.1M202.0 101.9h.1M198.5 107.7h.1M198.4 106.1h.1M204.0 101.6h.1M201.0 102.8h.1M198.8 108.3h.1M210.6 103.8h.1M207.7 101.8h.1M198.0 105.1h.1M198.8 108.9h.1M206.0 100.7h.1M205.5 110.9h.1M198.9 105.3h.1M210.3 104.8h.1M208.9 109.0h.1M207.5 100.9h.1M202.7 101.7h.1M199.3 104.2h.1M202.4 110.3h.1M208.4 108.9h.1M210.5 105.2h.1M209.2 108.2h.1M198.3 109.0h.1M198.1 108.8h.1M205.3 110.1h.1M210.0 107.0h.1M200.3 109.7h.1M208.4 109.0h.1M202.7 102.1h.1M207.6 102.0h.1M209.8 103.5h.1M210.5 106.8h.1M197.7 108.3h.1M208.5 101.7h.1M209.2 101.8h.1M208.5 102.0h.1M197.9 107.4h.1M206.9 101.5h.1M210.5 105.3h.1M207.5 110.2h.1M203.0 111.5h.1M201.2 111.1h.1M199.5 109.1h.1M209.8 107.4h.1M209.7 103.0h.1M199.4 109.6h.1" stroke="#505050" stroke-width="0.55" stroke-linecap="round" fill="none"/>
<ellipse cx="209.40" cy="118.00" rx="7.00" ry="4.20" fill="#767676" filter="url(#b0)" transform="rotate(-25 209.40 118.00)"/>
<ellipse cx="209.40" cy="118.00" rx="5.40" ry="3.11" fill="#858585" filter="url(#b1)" transform="rotate(-25 209.40 118.00)"/>
<path d="M215.9 116.3h.1M214.3 112.4h.1M202.6 118.3h.1M209.8 122.5h.1M216.2 114.3h.1M200.8 119.8h.1M205.8 123.2h.1M205.5 115.5h.1M217.2 115.2h.1M205.5 115.7h.1M216.0 117.7h.1M216.1 116.8h.1M211.6 113.3h.1M203.8 123.5h.1M204.6 122.2h.1M214.3 120.6h.1M212.3 112.9h.1M213.1 113.4h.1M204.7 116.3h.1M204.8 115.3h.1M210.3 112.5h.1M203.7 117.4h.1M215.0 113.8h.1M204.5 116.1h.1M203.9 116.9h.1M208.8 123.0h.1M203.2 121.3h.1M202.5 121.1h.1M213.3 113.3h.1M205.7 113.7h.1M213.4 112.7h.1M207.6 114.2h.1M212.2 121.1h.1M203.6 116.5h.1M207.0 123.4h.1M205.4 123.2h.1M207.1 113.4h.1M201.8 123.7h.1M214.6 113.4h.1M201.7 117.9h.1M216.8 116.0h.1M215.4 118.4h.1M207.7 113.9h.1M204.7 115.3h.1M217.4 114.2h.1M203.2 116.1h.1M203.5 121.5h.1M210.9 112.4h.1M216.1 117.3h.1M206.2 122.8h.1M214.6 120.0h.1M203.4 122.2h.1M216.2 117.8h.1M206.6 114.5h.1M217.4 118.1h.1M203.6 117.2h.1M203.5 117.3h.1M202.6 119.7h.1M203.2 121.6h.1M211.2 113.0h.1M207.7 123.0h.1M213.2 112.6h.1M202.8 120.7h.1M204.2 122.5h.1M211.3 113.4h.1M203.8 121.9h.1M216.8 116.2h.1M216.4 117.2h.1M213.9 121.2h.1M208.3 123.1h.1M202.7 120.5h.1M207.3 113.1h.1M215.5 115.1h.1M202.6 119.2h.1M204.9 116.1h.1M215.0 118.8h.1M215.9 116.5h.1M216.5 114.5h.1M202.7 118.3h.1M215.5 118.4h.1M206.9 114.1h.1M208.9 113.7h.1M203.4 122.0h.1M214.1 113.4h.1M202.9 117.6h.1M217.0 114.3h.1M203.7 121.8h.1M202.8 120.2h.1M203.1 118.2h.1M208.5 122.5h.1M203.8 123.4h.1M214.4 119.4h.1M201.5 119.5h.1M207.3 114.0h.1M205.4 115.6h.1M209.9 113.4h.1M208.3 124.1h.1M216.9 112.8h.1M213.6 112.4h.1M208.9 113.3h.1" stroke="#505050" stroke-width="0.55" stroke-linecap="round" fill="none"/>
<path d="M194.8 122.7h.1M184.3 120.9h.1M196.4 133.5h.1M197.1 134.2h.1M192.9 131.5h.1M191.8 124.4h.1M186.5 123.5h.1M196.5 123.3h.1M187.4 136.6h.1M192.7 135.5h.1M190.5 133.9h.1M187.4 127.2h.1M186.7 126.3h.1M179.3 139.4h.1M189.2 131.1h.1M195.3 120.5h.1M197.4 128.1h.1M182.9 127.1h.1M193.2 124.1h.1M195.3 123.1h.1M193.3 133.8h.1M191.7 135.8h.1M200.3 128.5h.1M192.4 138.3h.1M190.5 130.4h.1M188.8 136.9h.1M190.4 139.3h.1M183.2 131.8h.1M196.1 123.8h.1M194.7 130.8h.1M195.5 127.6h.1M189.9 123.0h.1M194.3 130.0h.1M189.9 127.5h.1M196.3 132.7h.1M195.9 126.7h.1M187.9 137.0h.1M195.2 138.3h.1M194.3 126.1h.1M188.3 123.3h.1M181.2 131.1h.1M191.9 135.8h.1M201.7 123.8h.1M184.2 127.9h.1M193.4 129.1h.1M182.8 135.0h.1M188.2 126.9h.1M197.7 137.6h.1M186.3 132.7h.1M187.2 128.6h.1M185.9 130.2h.1M185.3 133.8h.1M194.4 130.4h.1M180.7 137.3h.1M194.4 131.6h.1M199.5 125.5h.1M190.4 136.2h.1M190.8 131.9h.1M183.3 140.0h.1M182.6 115.3h.1M186.4 138.1h.1M190.1 130.0h.1M189.6 134.4h.1M187.5 127.8h.1M187.7 127.1h.1M194.5 131.1h.1M193.6 127.8h.1M197.8 135.3h.1M192.6 130.9h.1M195.6 119.1h.1M190.8 138.3h.1M194.7 128.7h.1M186.7 128.0h.1M195.1 139.9h.1M183.2 129.7h.1M190.3 125.1h.1M198.6 126.5h.1M192.4 130.9h.1M188.7 126.5h.1M182.7 136.7h.1M194.1 134.9h.1M186.3 126.6h.1M189.0 126.3h.1M188.1 124.4h.1M201.3 124.3h.1M195.8 124.0h.1M199.0 125.9h.1M196.7 135.3h.1M196.7 130.4h.1M203.2 122.1h.1M201.0 127.0h.1M187.8 118.8h.1M185.6 128.1h.1M179.5 124.4h.1M186.6 139.2h.1M198.7 126.5h.1M183.3 128.6h.1M199.6 126.8h.1M189.5 127.0h.1M179.6 130.0h.1" stroke="#444" stroke-width="0.70" stroke-linecap="round" fill="none"/>
<path d="M182 137.5L187.5 125.5L195 126L198 138.5L190 140z" fill="#6c6c6c" stroke="#6c6c6c" stroke-width="2.5" stroke-linejoin="round" filter="url(#b0)"/>
<path d="M183.5 136.8L188.2 127.2L194 127.6L196.4 137.4L190 138.6z" fill="#9c9c9c" stroke="#9c9c9c" stroke-width="1.2" stroke-linejoin="round" filter="url(#b1)"/>
<ellipse cx="188.2" cy="135.2" rx="3.4" ry="2.5" fill="#f2f2f2" filter="url(#b1)"/>
<path d="M198.2 135.9h.1M197.4 136.3h.1M199.5 140.2h.1M196.8 135.0h.1M198.1 137.2h.1M199.1 135.6h.1M200.5 135.4h.1M198.2 133.3h.1M196.6 136.1h.1M200.1 141.2h.1M199.8 134.7h.1M200.0 138.0h.1M199.5 138.9h.1M200.1 134.2h.1M200.0 137.5h.1M202.6 132.9h.1M194.6 138.5h.1M200.5 138.5h.1M200.6 137.1h.1M200.0 137.6h.1M197.8 136.9h.1M195.5 137.1h.1M199.0 133.3h.1M197.3 135.0h.1M197.3 133.3h.1M201.3 135.0h.1M199.1 134.5h.1M199.6 138.3h.1M202.5 138.6h.1M196.7 139.2h.1M199.6 137.1h.1M198.3 133.7h.1M199.4 135.1h.1M199.1 140.4h.1M199.9 138.5h.1M202.1 133.5h.1M203.3 136.9h.1M195.0 138.4h.1M202.7 134.5h.1M201.9 136.3h.1M197.4 139.2h.1M198.7 133.6h.1M200.2 139.7h.1M203.3 134.7h.1M203.5 137.7h.1M200.4 135.6h.1M198.6 135.6h.1M200.0 136.4h.1" stroke="#444" stroke-width="0.70" stroke-linecap="round" fill="none"/>
<line x1="197.40" y1="94.50" x2="197.40" y2="142.40" stroke="#3a3a3a" stroke-width="1.1"/>
<line x1="175.80" y1="124.40" x2="228.70" y2="124.40" stroke="#3a3a3a" stroke-width="1.1"/>
<line x1="175.80" y1="94.50" x2="228.70" y2="94.50" stroke="#666" stroke-width="0.7"/>
<line x1="228.70" y1="94.50" x2="228.70" y2="142.40" stroke="#666" stroke-width="0.7"/>
<line x1="175.80" y1="94.20" x2="175.80" y2="143.00" stroke="#111" stroke-width="1.3"/>
<line x1="175.20" y1="142.40" x2="229.00" y2="142.40" stroke="#111" stroke-width="1.3"/>
<line x1="177.80" y1="143.50" x2="228.70" y2="143.50" stroke="#222" stroke-width="1.0" stroke-dasharray="0.5 1.1"/>
<line x1="174.70" y1="94.50" x2="174.70" y2="140.40" stroke="#222" stroke-width="1.0" stroke-dasharray="0.5 1.1"/>
<text x="181.09" y="148.20" font-size="4.2" text-anchor="middle" fill="#444">0</text>
<text x="187.44" y="148.20" font-size="4.2" text-anchor="middle" fill="#444">10<tspan dy="-1.76" font-size="2.86">2</tspan></text>
<text x="200.66" y="148.20" font-size="4.2" text-anchor="middle" fill="#444">10<tspan dy="-1.76" font-size="2.86">3</tspan></text>
<text x="214.42" y="148.20" font-size="4.2" text-anchor="middle" fill="#444">10<tspan dy="-1.76" font-size="2.86">4</tspan></text>
<text x="226.58" y="148.20" font-size="4.2" text-anchor="middle" fill="#444">10<tspan dy="-1.76" font-size="2.86">5</tspan></text>
<text x="173.40" y="139.05" font-size="4.2" text-anchor="middle" transform="rotate(-90 173.40 139.05)" fill="#444">0</text>
<text x="173.40" y="132.82" font-size="4.2" text-anchor="middle" transform="rotate(-90 173.40 132.82)" fill="#444">10<tspan dy="-1.76" font-size="2.86">2</tspan></text>
<text x="173.40" y="120.84" font-size="4.2" text-anchor="middle" transform="rotate(-90 173.40 120.84)" fill="#444">10<tspan dy="-1.76" font-size="2.86">3</tspan></text>
<text x="173.40" y="108.87" font-size="4.2" text-anchor="middle" transform="rotate(-90 173.40 108.87)" fill="#444">10<tspan dy="-1.76" font-size="2.86">4</tspan></text>
<text x="173.40" y="97.85" font-size="4.2" text-anchor="middle" transform="rotate(-90 173.40 97.85)" fill="#444">10<tspan dy="-1.76" font-size="2.86">5</tspan></text>
<text x="15.30" y="130.30" font-size="10.6" textLength="25.80" lengthAdjust="spacingAndGlyphs" transform="rotate(-90 15.30 130.30)" fill="#0a0a0a" stroke="#0a0a0a" stroke-width="0.3">ic IgG</text>
<text x="91.10" y="130.30" font-size="10.6" textLength="24.80" lengthAdjust="spacingAndGlyphs" transform="rotate(-90 91.10 130.30)" fill="#0a0a0a" stroke="#0a0a0a" stroke-width="0.3">ic IgA</text>
<text x="165.00" y="130.30" font-size="10.6" textLength="26.40" lengthAdjust="spacingAndGlyphs" transform="rotate(-90 165.00 130.30)" fill="#0a0a0a" stroke="#0a0a0a" stroke-width="0.3">ic IgM</text>
<text x="35.60" y="158.60" font-size="10.2" textLength="33.50" lengthAdjust="spacingAndGlyphs" fill="#0a0a0a" stroke="#0a0a0a" stroke-width="0.3">mb IgG</text>
<text x="111.70" y="158.90" font-size="10.2" textLength="31.40" lengthAdjust="spacingAndGlyphs" fill="#0a0a0a" stroke="#0a0a0a" stroke-width="0.3">mb IgA</text>
<text x="185.80" y="158.90" font-size="10.2" textLength="33.60" lengthAdjust="spacingAndGlyphs" fill="#0a0a0a" stroke="#0a0a0a" stroke-width="0.3">mb IgM</text>
<text x="287.20" y="9.70" font-size="11.5" font-weight="bold" fill="#000" stroke="#000" stroke-width="0.3">B</text>
<text x="366.90" y="9.70" font-size="11.4" textLength="91.50" lengthAdjust="spacingAndGlyphs" fill="#0a0a0a" stroke="#0a0a0a" stroke-width="0.3">Bone Marrow cells</text>
<text x="364.60" y="26.90" font-size="10.4" textLength="94.00" lengthAdjust="spacingAndGlyphs" fill="#0a0a0a" stroke="#0a0a0a" stroke-width="0.3">Gated CD19+/CD138+</text>
<line x1="314.60" y1="29.80" x2="509.00" y2="29.80" stroke="#666" stroke-width="1.4"/>
<path d="M330.4 58.1h.1M334.3 71.4h.1M337.4 72.5h.1M338.7 40.0h.1M333.6 65.5h.1M331.4 65.0h.1M332.3 59.2h.1M337.2 56.2h.1M331.0 52.7h.1M332.9 40.6h.1M338.2 56.5h.1M337.3 74.5h.1M334.2 80.8h.1M329.8 55.2h.1M336.8 49.6h.1M336.2 48.0h.1M340.0 60.0h.1M345.3 61.7h.1M338.8 63.2h.1M333.8 58.9h.1M333.2 51.5h.1M338.1 60.4h.1M342.5 79.1h.1M333.1 61.1h.1M336.7 46.3h.1M338.1 38.1h.1M333.4 73.6h.1M335.6 59.4h.1M339.5 68.3h.1M337.4 60.1h.1M332.9 64.4h.1M340.0 70.3h.1M332.9 67.4h.1M338.4 62.2h.1M342.3 51.5h.1M337.9 65.4h.1M339.1 56.1h.1M340.1 55.2h.1M333.5 53.5h.1M333.3 65.6h.1M332.1 58.3h.1M331.5 57.1h.1M332.7 65.1h.1M338.7 59.3h.1M336.5 61.3h.1M331.8 46.1h.1M336.7 64.3h.1M336.7 59.5h.1M335.0 67.3h.1M332.9 77.4h.1M334.6 53.1h.1M337.8 45.9h.1M338.4 46.0h.1M337.3 74.9h.1M335.7 45.2h.1M335.5 48.1h.1M336.2 41.5h.1M339.9 71.6h.1M335.6 56.1h.1M335.4 41.0h.1M332.8 60.7h.1M342.0 59.6h.1M341.5 57.6h.1M340.6 60.4h.1M335.1 65.9h.1M332.4 60.3h.1M339.0 46.1h.1M334.1 61.5h.1M337.2 61.5h.1M340.9 47.5h.1M339.4 58.8h.1M332.7 55.7h.1M335.0 50.0h.1M332.8 61.1h.1M341.2 75.5h.1M343.2 40.6h.1M333.7 56.9h.1M333.9 58.6h.1M331.2 50.0h.1M339.7 60.9h.1M330.7 64.6h.1M344.9 68.1h.1M331.1 56.7h.1M337.9 60.4h.1M340.1 64.1h.1M338.0 59.8h.1M335.3 53.0h.1M333.7 58.3h.1M333.4 53.8h.1M336.3 77.9h.1M336.7 55.0h.1M338.2 67.9h.1M334.7 55.2h.1M335.5 44.4h.1M339.8 67.5h.1M330.2 65.6h.1M334.7 64.5h.1M336.6 53.4h.1M332.4 50.3h.1M340.0 62.3h.1M340.7 55.7h.1M337.0 60.9h.1M333.8 64.7h.1M330.4 50.9h.1M337.5 61.4h.1M337.8 57.1h.1M332.8 52.0h.1M334.7 59.5h.1M338.1 60.7h.1M332.3 70.5h.1M341.8 63.7h.1M338.1 66.3h.1M339.7 60.4h.1M335.1 72.5h.1M333.5 64.6h.1M332.8 56.3h.1M336.6 58.6h.1M343.1 55.8h.1M343.3 70.1h.1M329.2 66.0h.1M338.8 63.9h.1M333.4 60.1h.1M336.7 48.9h.1M335.1 61.7h.1M338.6 56.3h.1M334.4 64.1h.1M329.1 55.8h.1M336.9 53.2h.1M334.7 71.2h.1M339.4 53.3h.1M335.0 60.3h.1M341.6 67.3h.1M334.4 54.5h.1M334.7 48.4h.1M337.0 55.8h.1M340.5 57.4h.1M335.7 66.8h.1M338.5 66.8h.1M339.5 49.5h.1M333.3 69.3h.1M332.8 60.6h.1M334.3 74.5h.1M330.2 45.8h.1M332.4 50.9h.1M334.8 65.5h.1M339.4 56.3h.1M329.9 68.5h.1M333.4 68.2h.1M334.9 69.4h.1M336.4 45.0h.1M334.5 60.2h.1M336.8 59.0h.1M333.8 66.9h.1M332.4 67.2h.1M339.2 60.9h.1M333.5 63.0h.1M335.7 67.2h.1M339.8 54.6h.1M331.7 65.3h.1M334.9 70.7h.1M337.2 54.6h.1M338.8 45.2h.1M340.4 57.0h.1M341.2 53.3h.1M334.8 65.9h.1M334.6 58.2h.1M338.2 55.8h.1M330.9 57.0h.1M337.3 53.3h.1M334.2 47.5h.1M334.4 62.8h.1M336.0 67.6h.1M329.6 65.5h.1M337.3 44.8h.1M339.0 51.8h.1M344.2 76.4h.1M340.1 71.4h.1M337.7 74.2h.1M335.0 67.2h.1M334.3 78.7h.1M333.9 57.6h.1M341.9 65.4h.1M334.8 48.0h.1M339.8 42.0h.1M332.5 51.0h.1M337.5 63.6h.1M338.4 64.9h.1M334.1 72.9h.1M332.2 53.1h.1M334.7 64.5h.1M336.0 70.7h.1M328.2 67.1h.1M335.3 68.9h.1M334.5 46.7h.1M341.7 65.7h.1M331.2 59.0h.1M337.6 62.9h.1M338.5 64.2h.1" stroke="#444" stroke-width="0.70" stroke-linecap="round" fill="none"/>
<path d="M337.3 59.2h.1M333.8 68.9h.1M326.0 63.4h.1M330.0 59.7h.1M329.5 59.9h.1M329.5 48.4h.1M331.6 55.2h.1M329.0 76.2h.1M316.3 71.0h.1M317.2 71.4h.1M329.0 52.0h.1M328.3 63.4h.1M326.5 63.6h.1M324.9 61.5h.1M330.5 46.4h.1M338.0 72.0h.1M334.1 46.5h.1M323.3 55.6h.1M325.3 53.7h.1M327.8 52.5h.1M322.1 55.6h.1M321.9 50.1h.1M336.3 57.7h.1M333.5 72.3h.1M334.5 65.9h.1M334.3 59.2h.1M335.5 38.5h.1M338.1 49.6h.1M328.8 51.8h.1M334.4 66.8h.1M323.3 52.7h.1M329.6 64.7h.1M333.8 68.9h.1M332.6 72.0h.1M331.6 57.6h.1M328.7 62.4h.1M323.4 54.4h.1M325.5 66.2h.1M321.3 71.2h.1M335.2 60.5h.1M339.9 57.1h.1M333.7 67.6h.1M333.1 64.9h.1M329.2 53.0h.1M333.4 54.6h.1M320.5 70.6h.1M329.2 68.0h.1M332.1 69.9h.1M330.1 46.6h.1M321.3 68.4h.1M332.8 72.2h.1M324.9 58.9h.1M331.4 68.6h.1M331.5 59.4h.1M328.6 43.5h.1M329.8 70.2h.1M330.1 50.3h.1M334.3 60.7h.1M321.0 53.7h.1M332.2 54.2h.1M325.3 73.1h.1M326.8 49.3h.1M325.5 50.4h.1M330.8 55.0h.1M323.0 70.5h.1M330.6 67.0h.1M323.0 59.9h.1M333.5 52.9h.1M333.2 55.0h.1M331.9 49.0h.1M331.0 73.8h.1M335.3 60.4h.1M326.2 62.0h.1M331.7 47.2h.1M331.6 50.7h.1M334.2 59.6h.1M328.9 73.2h.1M332.4 75.9h.1M325.7 54.7h.1M331.6 71.7h.1M336.4 62.9h.1M324.0 68.9h.1M332.5 57.4h.1M320.1 45.1h.1M337.3 60.3h.1M330.8 67.9h.1M342.1 60.8h.1M327.5 59.7h.1M335.9 59.8h.1M330.2 72.9h.1M326.5 61.8h.1M331.5 41.0h.1M324.0 58.1h.1M318.4 72.4h.1M323.7 70.1h.1M331.8 53.0h.1" stroke="#666" stroke-width="0.70" stroke-linecap="round" fill="none"/>
<rect x="324.20" y="45.60" width="15.40" height="21.00" rx="5.5" fill="#767676" filter="url(#b0)" transform="rotate(-3 331.90 56.10)"/>
<rect x="326.20" y="47.60" width="11.40" height="17.00" rx="3.50" fill="#a8a8a8" filter="url(#b1)" transform="rotate(-3 331.90 56.10)"/>
<ellipse cx="330.60" cy="56.20" rx="3.00" ry="4.20" fill="#cfcfcf" filter="url(#b1)" transform="rotate(-3 331.90 56.10)"/>
<path d="M339.2 45.6h.1M328.6 45.3h.1M339.9 51.5h.1M340.1 64.0h.1M334.1 66.6h.1M340.0 46.7h.1M324.1 63.2h.1M340.1 57.6h.1M339.4 55.4h.1M322.6 63.7h.1M324.2 60.3h.1M340.7 65.4h.1M341.0 61.1h.1M324.5 61.1h.1M340.0 56.0h.1M338.6 66.3h.1M337.7 45.0h.1M331.3 43.8h.1M323.0 54.0h.1M325.0 66.8h.1M340.8 61.9h.1M326.3 67.1h.1M339.7 54.8h.1M339.7 55.8h.1M339.4 47.1h.1M324.2 57.9h.1M322.5 51.0h.1M337.8 44.2h.1M324.1 52.9h.1M339.8 46.4h.1M324.5 46.1h.1M339.0 47.5h.1M340.8 62.3h.1M329.9 67.2h.1M329.9 45.8h.1M323.9 48.2h.1M323.3 50.3h.1M323.8 54.5h.1M323.6 64.6h.1M326.5 45.3h.1M323.8 50.8h.1M323.2 47.9h.1M330.1 45.3h.1M323.6 47.5h.1M339.7 49.7h.1M323.9 53.2h.1M323.5 48.2h.1M337.1 45.2h.1M323.2 50.0h.1M333.3 67.4h.1M339.9 63.6h.1M331.4 67.0h.1M339.4 52.1h.1M323.4 52.4h.1M338.4 67.7h.1M325.1 67.6h.1M335.6 66.9h.1M324.7 62.9h.1M339.8 50.1h.1M326.9 45.9h.1M340.3 58.5h.1M327.4 44.5h.1M339.1 50.0h.1M323.9 48.3h.1M331.8 67.4h.1M339.4 48.0h.1M324.0 64.6h.1M325.9 67.7h.1M333.9 67.5h.1M339.6 54.6h.1M337.4 45.2h.1M323.3 58.6h.1M339.1 45.4h.1M339.9 64.1h.1M331.9 67.7h.1M339.9 58.4h.1M339.0 45.1h.1M338.6 66.2h.1M339.8 57.9h.1M340.4 62.7h.1M339.6 59.2h.1M324.7 64.9h.1M340.3 58.7h.1M339.3 46.2h.1M335.0 66.9h.1M331.3 45.4h.1M332.1 66.5h.1M340.0 54.9h.1M340.6 59.2h.1M339.9 57.6h.1M333.6 66.6h.1M323.0 53.0h.1M323.2 60.8h.1M340.4 56.4h.1M339.5 53.8h.1M339.6 56.5h.1M340.5 61.6h.1M329.3 67.1h.1M339.7 51.2h.1M335.8 44.5h.1M326.6 66.9h.1M340.3 66.1h.1M324.2 65.7h.1M339.8 45.4h.1M339.0 66.1h.1M340.0 57.6h.1M339.3 47.5h.1M323.8 51.9h.1M329.5 67.0h.1M340.6 63.2h.1M327.1 67.5h.1M323.6 66.4h.1M339.8 48.8h.1M331.6 45.7h.1M338.4 66.4h.1M336.4 45.5h.1M330.0 45.7h.1M323.7 57.4h.1M324.8 65.0h.1M324.0 51.3h.1M340.6 57.8h.1M340.0 63.6h.1M339.7 51.8h.1M339.6 49.6h.1M340.8 57.3h.1M329.2 67.0h.1M335.0 44.6h.1M323.6 63.6h.1M339.8 53.8h.1M324.2 54.6h.1M339.6 57.3h.1M339.2 67.7h.1M323.7 51.8h.1M323.7 55.1h.1M324.5 60.3h.1M323.8 46.1h.1M340.2 66.1h.1M340.6 61.9h.1M323.7 51.6h.1M338.9 46.1h.1M326.9 67.9h.1M325.0 45.6h.1M340.7 49.8h.1M340.5 50.8h.1M323.8 53.1h.1M339.6 57.8h.1M328.4 45.8h.1M339.7 56.9h.1M326.8 45.8h.1M324.3 56.3h.1M329.9 45.7h.1M329.4 45.7h.1M336.2 67.1h.1M339.7 50.6h.1M330.6 66.5h.1M331.6 45.8h.1M324.7 61.4h.1M338.9 45.0h.1M339.9 62.1h.1M339.8 49.0h.1M323.4 55.7h.1M324.0 65.1h.1M339.6 55.4h.1M341.0 50.7h.1M327.7 45.9h.1M323.6 48.6h.1M339.9 49.1h.1M323.3 46.6h.1M339.8 62.4h.1M323.9 45.0h.1M329.6 45.0h.1M339.6 58.7h.1M324.5 62.0h.1M338.7 44.7h.1M331.0 66.6h.1M332.3 67.1h.1M323.6 48.8h.1M324.1 51.7h.1M332.9 44.7h.1M339.8 59.6h.1M324.1 50.0h.1M331.1 45.3h.1M335.5 45.4h.1M324.0 63.6h.1M332.5 67.2h.1M329.4 66.7h.1M339.7 57.4h.1M339.4 45.7h.1M324.3 61.2h.1M339.1 46.8h.1M322.3 46.8h.1M340.5 61.0h.1M334.4 44.8h.1M323.7 46.8h.1M329.0 44.7h.1M324.5 60.7h.1M335.3 45.5h.1M324.4 60.8h.1M323.7 52.5h.1M330.6 66.5h.1M340.7 59.9h.1M334.0 45.0h.1M339.9 47.5h.1M339.9 60.9h.1M339.6 48.5h.1M326.7 67.0h.1M339.1 48.1h.1M342.1 64.8h.1M324.3 46.0h.1M335.1 66.6h.1M333.5 45.3h.1M341.8 66.1h.1M339.5 56.5h.1M324.5 59.6h.1M324.3 59.8h.1M339.4 49.7h.1M324.5 59.7h.1M325.7 67.2h.1M339.9 65.3h.1M322.2 49.6h.1M327.3 67.3h.1M323.8 60.1h.1M332.0 67.3h.1M324.1 58.5h.1M323.6 53.4h.1M339.9 48.4h.1M335.6 67.2h.1M341.1 65.4h.1M339.7 60.0h.1M339.2 47.1h.1M324.1 55.4h.1M323.2 52.3h.1M335.4 45.4h.1M339.7 60.6h.1M339.3 54.7h.1M334.5 45.4h.1M333.4 66.8h.1M328.5 45.5h.1M336.2 45.0h.1M331.0 45.2h.1M324.8 66.9h.1M331.5 45.3h.1M329.8 45.2h.1M324.9 67.3h.1M333.0 44.9h.1M334.3 66.6h.1M324.4 46.0h.1M327.0 66.9h.1M332.4 45.3h.1M323.9 59.4h.1M323.4 52.9h.1M340.3 62.5h.1M324.0 53.8h.1M338.3 67.0h.1M333.9 45.2h.1M340.2 64.8h.1M336.1 66.9h.1M323.8 47.6h.1M340.0 62.6h.1M323.7 60.8h.1" stroke="#505050" stroke-width="0.55" stroke-linecap="round" fill="none"/>
<rect x="322.60" y="65.80" width="13.40" height="11.40" rx="5.0" fill="#767676" filter="url(#b0)"/>
<rect x="324.40" y="67.60" width="9.80" height="7.80" rx="3.20" fill="#a8a8a8" filter="url(#b1)"/>
<ellipse cx="326.80" cy="71.80" rx="2.60" ry="2.30" fill="#f2f2f2" filter="url(#b1)"/>
<path d="M335.8 77.3h.1M329.4 78.7h.1M334.4 77.6h.1M322.5 67.6h.1M333.1 77.4h.1M326.6 77.8h.1M336.7 68.8h.1M331.1 65.8h.1M336.1 76.9h.1M336.6 66.1h.1M329.2 77.6h.1M328.4 78.4h.1M332.8 77.6h.1M322.0 72.6h.1M322.1 71.7h.1M334.8 77.1h.1M323.8 65.9h.1M333.4 77.4h.1M333.0 65.4h.1M336.4 74.3h.1M329.1 65.0h.1M332.6 65.7h.1M335.0 64.9h.1M322.4 71.7h.1M336.0 73.0h.1M329.5 65.9h.1M335.9 73.1h.1M336.3 71.2h.1M322.7 76.7h.1M321.6 70.2h.1M322.1 72.6h.1M322.7 70.1h.1M323.2 77.9h.1M333.3 78.5h.1M331.5 64.9h.1M322.8 72.2h.1M322.0 69.7h.1M336.5 66.6h.1M322.2 75.7h.1M334.6 65.4h.1M322.0 73.2h.1M336.6 67.3h.1M321.5 71.4h.1M332.4 77.5h.1M325.2 77.8h.1M332.1 64.1h.1M322.6 74.5h.1M324.7 65.8h.1M322.3 69.4h.1M331.6 66.0h.1M336.3 69.3h.1M322.1 75.8h.1M336.5 66.0h.1M335.3 78.0h.1M335.4 65.6h.1M322.3 75.1h.1M324.0 65.1h.1M321.8 74.2h.1M334.7 78.2h.1M325.6 66.0h.1M332.6 65.3h.1M322.5 71.8h.1M326.2 65.4h.1M330.0 77.5h.1M325.0 65.8h.1M331.1 66.0h.1M322.2 76.5h.1M336.1 66.2h.1M329.7 78.1h.1M327.8 77.8h.1M321.8 73.4h.1M324.1 77.1h.1M335.3 65.7h.1M322.6 75.8h.1M323.9 77.5h.1M324.3 65.7h.1M337.0 67.7h.1M324.1 65.0h.1M335.7 77.8h.1M333.0 65.0h.1M324.2 65.7h.1M322.7 76.3h.1M322.4 71.8h.1M327.4 77.1h.1M333.2 65.9h.1M322.3 66.9h.1M326.1 66.0h.1M326.7 77.8h.1M336.7 74.8h.1M321.2 66.4h.1M332.1 65.0h.1M336.0 70.5h.1M322.2 74.1h.1M336.2 69.1h.1M333.7 77.4h.1M336.8 66.5h.1M322.3 68.7h.1M329.6 65.8h.1M335.9 77.4h.1M331.2 77.3h.1M334.2 64.8h.1M336.5 77.0h.1M327.6 77.0h.1M335.5 65.9h.1M336.3 74.3h.1M331.7 77.2h.1M336.8 72.3h.1M325.0 65.2h.1M322.2 68.4h.1M331.5 77.7h.1M322.0 66.2h.1M322.1 69.2h.1M330.6 65.5h.1M334.3 65.7h.1M336.0 71.8h.1M337.0 66.9h.1M335.9 65.5h.1M322.6 72.0h.1M327.1 77.4h.1M332.4 65.5h.1M332.7 65.8h.1M323.0 64.7h.1M322.6 70.5h.1M322.7 70.4h.1M322.7 70.1h.1M336.4 71.0h.1M324.1 77.9h.1M336.0 68.7h.1M333.1 77.3h.1M322.3 72.5h.1M323.8 77.1h.1M335.8 65.2h.1M335.7 65.9h.1M328.4 64.9h.1M329.5 65.4h.1M324.5 77.3h.1M336.6 69.6h.1M322.3 73.6h.1M338.1 67.3h.1M337.1 76.4h.1M328.5 77.4h.1M325.1 78.5h.1M335.9 69.9h.1M329.1 65.8h.1M327.3 65.5h.1M321.6 76.0h.1M336.2 74.9h.1M323.7 77.2h.1M337.3 73.3h.1M335.9 72.5h.1M321.4 77.1h.1M337.0 76.3h.1M336.4 73.5h.1M332.6 65.4h.1M335.4 65.9h.1M322.2 65.9h.1M336.6 67.4h.1M328.3 65.8h.1M332.8 78.2h.1M328.0 77.4h.1" stroke="#505050" stroke-width="0.55" stroke-linecap="round" fill="none"/>
<line x1="338.50" y1="36.30" x2="338.50" y2="84.40" stroke="#555" stroke-width="0.9"/>
<line x1="314.60" y1="64.80" x2="367.30" y2="64.80" stroke="#555" stroke-width="0.9"/>
<line x1="314.60" y1="36.30" x2="367.30" y2="36.30" stroke="#666" stroke-width="0.7"/>
<line x1="367.30" y1="36.30" x2="367.30" y2="84.40" stroke="#666" stroke-width="0.7"/>
<line x1="314.60" y1="36.00" x2="314.60" y2="85.00" stroke="#111" stroke-width="1.3"/>
<line x1="314.00" y1="84.40" x2="367.60" y2="84.40" stroke="#111" stroke-width="1.3"/>
<line x1="316.60" y1="85.50" x2="367.30" y2="85.50" stroke="#222" stroke-width="1.0" stroke-dasharray="0.5 1.1"/>
<line x1="313.50" y1="36.30" x2="313.50" y2="82.40" stroke="#222" stroke-width="1.0" stroke-dasharray="0.5 1.1"/>
<text x="319.87" y="90.20" font-size="4.5" text-anchor="middle" fill="#444">0</text>
<text x="327.25" y="90.20" font-size="4.5" text-anchor="middle" fill="#444">10<tspan dy="-1.89" font-size="3.06">2</tspan></text>
<text x="339.37" y="90.20" font-size="4.5" text-anchor="middle" fill="#444">10<tspan dy="-1.89" font-size="3.06">3</tspan></text>
<text x="353.07" y="90.20" font-size="4.5" text-anchor="middle" fill="#444">10<tspan dy="-1.89" font-size="3.06">4</tspan></text>
<text x="364.67" y="90.20" font-size="4.5" text-anchor="middle" fill="#444">10<tspan dy="-1.89" font-size="3.06">5</tspan></text>
<text x="312.20" y="81.03" font-size="4.5" text-anchor="middle" transform="rotate(-90 312.20 81.03)" fill="#444">0</text>
<text x="312.20" y="74.78" font-size="4.5" text-anchor="middle" transform="rotate(-90 312.20 74.78)" fill="#444">10<tspan dy="-1.89" font-size="3.06">2</tspan></text>
<text x="312.20" y="62.76" font-size="4.5" text-anchor="middle" transform="rotate(-90 312.20 62.76)" fill="#444">10<tspan dy="-1.89" font-size="3.06">3</tspan></text>
<text x="312.20" y="50.73" font-size="4.5" text-anchor="middle" transform="rotate(-90 312.20 50.73)" fill="#444">10<tspan dy="-1.89" font-size="3.06">4</tspan></text>
<text x="312.20" y="39.67" font-size="4.5" text-anchor="middle" transform="rotate(-90 312.20 39.67)" fill="#444">10<tspan dy="-1.89" font-size="3.06">5</tspan></text>
<path d="M412.3 67.0h.1M396.9 50.5h.1M401.4 61.3h.1M407.8 60.9h.1M405.1 59.8h.1M412.1 56.2h.1M397.2 72.3h.1M395.7 59.2h.1M410.5 65.1h.1M409.7 76.3h.1M415.2 51.7h.1M402.8 76.5h.1M410.7 60.4h.1M416.3 61.8h.1M410.6 66.4h.1M411.6 57.8h.1M413.6 58.8h.1M401.8 66.5h.1M411.3 53.0h.1M409.8 56.7h.1M408.7 69.2h.1M412.7 51.9h.1M399.2 53.8h.1M400.5 65.8h.1M418.5 51.3h.1M404.6 59.5h.1M411.8 68.1h.1M405.3 61.4h.1M403.1 54.8h.1M403.2 60.7h.1M411.1 50.9h.1M411.2 46.7h.1M412.6 68.8h.1M415.8 46.9h.1M410.1 55.1h.1M408.8 69.0h.1M400.7 58.3h.1M398.8 55.1h.1M391.4 58.8h.1M390.2 56.1h.1M410.1 71.3h.1M398.4 66.5h.1M401.9 43.4h.1M413.5 61.4h.1M409.5 63.2h.1M410.5 53.2h.1M408.9 57.9h.1M406.4 54.8h.1M412.0 68.6h.1M408.3 69.6h.1M401.1 75.0h.1M402.0 58.3h.1M406.0 69.8h.1M408.9 63.9h.1M401.5 69.1h.1M413.4 51.3h.1M404.4 67.1h.1M411.5 48.7h.1M401.8 62.6h.1M404.6 63.4h.1M401.4 53.7h.1M408.8 63.1h.1M399.9 68.2h.1M408.9 60.9h.1M406.9 67.4h.1M407.8 59.7h.1M406.1 71.3h.1M415.8 38.4h.1M401.4 40.8h.1M402.1 57.1h.1M400.5 64.3h.1M407.1 63.1h.1M397.5 58.6h.1M409.4 48.2h.1M395.3 60.3h.1M426.4 54.7h.1M405.1 65.2h.1M414.6 64.9h.1M404.2 60.3h.1M409.3 61.5h.1M410.1 54.9h.1M408.2 56.9h.1M402.2 59.1h.1M412.2 61.3h.1M407.7 60.7h.1M406.3 58.8h.1M404.3 43.4h.1M407.6 54.9h.1M402.6 53.1h.1M409.7 58.9h.1M407.8 62.5h.1M408.8 61.9h.1M411.2 68.8h.1M411.0 63.0h.1M412.8 56.7h.1M399.4 59.2h.1M395.6 54.8h.1M407.3 71.9h.1M408.4 55.5h.1M409.7 64.4h.1M407.9 67.0h.1M401.7 68.8h.1M396.5 60.1h.1M410.3 64.5h.1M403.1 44.7h.1M397.8 51.8h.1M407.3 75.4h.1M402.8 71.2h.1M401.8 60.4h.1M407.9 78.0h.1M407.8 44.0h.1M402.7 65.7h.1M404.8 66.3h.1M405.1 62.7h.1M410.3 79.0h.1M405.6 54.5h.1M411.5 66.5h.1M396.3 66.1h.1M402.6 61.1h.1M413.2 70.1h.1M402.7 63.7h.1M403.1 42.2h.1M405.4 47.2h.1M401.4 63.1h.1M399.9 55.4h.1M397.5 51.0h.1M408.7 66.1h.1M394.5 67.6h.1M405.5 55.5h.1M399.2 63.5h.1M402.4 54.0h.1M407.0 64.1h.1M397.1 63.8h.1M406.1 66.7h.1M412.2 61.2h.1M400.6 69.3h.1M409.8 53.6h.1M401.8 59.0h.1M411.5 61.6h.1M416.9 50.7h.1M412.4 54.5h.1M404.7 57.8h.1M414.8 71.7h.1M395.8 63.5h.1M409.8 64.2h.1M408.3 50.4h.1M412.2 69.2h.1M402.0 64.7h.1M410.6 64.0h.1M409.8 51.6h.1M402.8 63.0h.1M410.3 69.0h.1M400.9 54.3h.1M402.9 55.9h.1M415.7 71.6h.1M406.8 70.9h.1M403.7 62.0h.1M406.5 61.1h.1M402.3 49.8h.1M410.1 57.0h.1M401.6 52.7h.1M393.9 52.1h.1M407.2 53.6h.1M394.8 52.9h.1M393.3 63.9h.1M391.3 60.0h.1M415.0 61.0h.1M408.9 49.5h.1M418.2 58.1h.1M411.0 80.3h.1M398.5 60.4h.1M400.4 61.3h.1M404.0 62.9h.1M406.1 57.0h.1M409.8 65.5h.1M400.9 65.5h.1M400.4 54.9h.1M409.9 68.4h.1M407.9 80.4h.1M401.2 63.3h.1M404.9 45.8h.1M410.0 61.7h.1M407.8 60.9h.1M408.4 59.2h.1M396.5 62.6h.1M405.9 55.8h.1M395.8 61.4h.1M408.2 74.0h.1M404.7 64.7h.1M407.6 57.3h.1M402.9 55.8h.1M407.3 67.7h.1M409.8 45.0h.1M402.9 67.5h.1M406.1 69.1h.1M409.3 63.6h.1M410.6 71.4h.1M404.3 54.7h.1M398.9 63.6h.1M414.7 63.4h.1M405.5 63.9h.1M401.3 63.5h.1M414.3 62.9h.1M403.1 63.1h.1M412.7 62.7h.1M412.8 61.8h.1M405.9 55.2h.1M407.8 65.3h.1M412.9 68.5h.1M403.8 48.4h.1M402.7 73.2h.1M393.9 57.5h.1M409.2 69.4h.1M401.9 63.3h.1M403.7 61.0h.1M403.1 62.7h.1M408.2 54.6h.1M410.7 49.7h.1M394.2 50.5h.1M409.4 53.3h.1M409.1 59.9h.1M406.6 59.5h.1M415.6 63.7h.1M397.3 52.3h.1M408.2 62.2h.1M410.1 70.6h.1M405.9 51.8h.1M410.2 53.3h.1M406.2 52.6h.1M409.1 73.5h.1M398.5 57.9h.1M412.4 63.4h.1M420.6 66.0h.1M411.2 68.9h.1M406.5 58.7h.1M406.3 65.5h.1M411.8 53.3h.1M406.8 66.7h.1M407.8 57.8h.1M408.3 55.4h.1M403.5 47.7h.1M404.1 69.4h.1M406.6 49.0h.1M396.4 54.4h.1M395.4 57.0h.1M402.4 65.2h.1M396.7 41.8h.1M407.1 76.7h.1M410.0 53.8h.1M411.9 61.4h.1M402.5 58.6h.1M406.0 79.5h.1M409.4 61.6h.1M412.2 73.5h.1M415.6 44.3h.1M405.5 58.8h.1M412.6 60.2h.1M414.0 57.2h.1M398.5 54.1h.1M403.4 61.5h.1" stroke="#555" stroke-width="0.70" stroke-linecap="round" fill="none"/>
<ellipse cx="410.60" cy="54.00" rx="5.60" ry="8.20" fill="#767676" filter="url(#b0)" transform="rotate(12 410.60 54.00)"/>
<ellipse cx="410.60" cy="54.00" rx="4.14" ry="6.60" fill="#8c8c8c" filter="url(#b1)" transform="rotate(12 410.60 54.00)"/>
<path d="M411.8 61.3h.1M409.0 44.5h.1M409.0 62.1h.1M417.2 52.0h.1M408.6 46.8h.1M407.1 46.4h.1M406.1 62.2h.1M416.2 49.6h.1M412.5 62.7h.1M408.1 46.3h.1M408.7 43.1h.1M405.1 58.5h.1M412.2 46.1h.1M408.5 45.9h.1M413.5 60.1h.1M416.9 55.3h.1M405.3 50.4h.1M413.7 61.5h.1M407.6 47.4h.1M408.4 62.2h.1M416.0 57.1h.1M410.6 63.0h.1M412.6 46.4h.1M412.7 61.1h.1M410.0 45.0h.1M406.9 60.8h.1M405.5 59.5h.1M405.5 58.6h.1M405.9 60.6h.1M412.1 46.2h.1M416.3 53.8h.1M416.2 50.9h.1M404.4 54.9h.1M410.3 62.3h.1M411.1 43.6h.1M404.3 58.4h.1M411.4 64.0h.1M409.2 45.1h.1M415.0 43.9h.1M405.2 57.2h.1M415.4 58.6h.1M404.7 51.9h.1M415.5 48.1h.1M406.7 49.4h.1M405.8 49.8h.1M405.0 52.3h.1M404.8 54.6h.1M404.7 55.5h.1M405.2 58.6h.1M405.7 50.7h.1M405.0 51.3h.1M416.9 51.9h.1M415.5 56.8h.1M405.3 51.9h.1M404.8 54.2h.1M407.3 47.1h.1M407.7 46.2h.1M415.6 58.8h.1M407.3 48.0h.1M406.2 50.2h.1M411.2 45.1h.1M404.8 58.2h.1M408.1 47.5h.1M403.7 53.9h.1M413.9 47.1h.1M417.3 54.6h.1M404.6 54.5h.1M408.3 61.9h.1M406.2 61.5h.1M414.0 61.2h.1M413.2 45.3h.1M412.4 61.4h.1M413.6 61.8h.1M416.7 48.9h.1M408.4 62.4h.1M406.3 50.0h.1M408.5 46.1h.1M406.6 47.2h.1M409.3 45.6h.1M405.2 50.2h.1M410.1 45.3h.1M406.6 61.9h.1M409.8 62.8h.1M416.4 53.6h.1M405.1 62.2h.1M411.0 62.6h.1M416.3 54.9h.1M407.5 47.3h.1M413.8 60.3h.1M404.5 53.1h.1M409.6 46.5h.1M404.5 55.7h.1M408.2 63.4h.1M415.0 47.0h.1M415.6 56.5h.1M417.8 52.4h.1M416.3 54.7h.1M414.2 59.3h.1M410.6 46.2h.1M414.4 45.0h.1M413.3 44.7h.1M405.2 53.0h.1M414.9 59.0h.1M405.4 50.6h.1M405.7 51.4h.1M414.7 59.0h.1M412.7 62.5h.1M404.5 51.3h.1M410.2 63.7h.1M418.1 51.0h.1M407.4 62.9h.1M409.6 43.5h.1M410.2 45.0h.1M415.6 57.0h.1M406.0 60.0h.1M416.3 52.0h.1M414.5 46.3h.1M416.6 55.9h.1M414.7 58.7h.1M417.6 50.4h.1M407.5 44.3h.1M407.6 47.1h.1M416.5 49.7h.1M405.8 49.7h.1M405.4 60.0h.1M415.8 55.7h.1M414.5 59.7h.1M415.1 57.7h.1M410.4 42.2h.1M414.9 47.3h.1M404.1 59.8h.1M415.2 48.5h.1M405.0 51.3h.1M409.8 61.9h.1M414.2 44.9h.1M416.5 54.3h.1M404.4 54.4h.1M405.8 47.6h.1M405.6 49.0h.1M417.1 53.1h.1M415.6 56.6h.1M406.7 60.5h.1M405.1 55.8h.1M413.5 60.2h.1M417.8 50.1h.1M414.0 60.9h.1M415.5 58.0h.1M407.0 62.2h.1M406.4 49.6h.1M415.5 58.8h.1M411.1 62.7h.1M405.1 48.5h.1M407.4 47.2h.1M405.6 51.9h.1M410.8 44.9h.1M404.5 60.0h.1M406.6 48.7h.1M407.0 47.8h.1M408.8 46.3h.1M404.3 55.7h.1M407.5 61.6h.1M407.9 47.2h.1M408.7 46.6h.1M405.0 51.0h.1M404.4 58.3h.1M416.4 55.8h.1M407.8 46.7h.1M416.8 51.3h.1M405.3 60.7h.1M414.3 45.2h.1" stroke="#505050" stroke-width="0.55" stroke-linecap="round" fill="none"/>
<ellipse cx="400.00" cy="73.90" rx="8.00" ry="5.90" fill="#767676" filter="url(#b0)"/>
<ellipse cx="398.90" cy="74.20" rx="6.40" ry="4.37" fill="#a8a8a8" filter="url(#b1)"/>
<ellipse cx="397.80" cy="74.50" rx="2.88" ry="2.12" fill="#eeeeee" filter="url(#b1)"/>
<path d="M390.4 74.4h.1M392.1 75.7h.1M409.2 73.7h.1M406.7 78.6h.1M401.2 80.0h.1M401.3 80.7h.1M397.9 79.4h.1M394.8 78.2h.1M405.7 78.7h.1M407.7 73.1h.1M406.9 78.0h.1M408.0 73.0h.1M405.5 69.6h.1M391.4 71.8h.1M392.8 76.2h.1M408.5 74.2h.1M406.0 69.8h.1M401.4 80.1h.1M402.9 68.1h.1M397.9 67.3h.1M394.7 78.6h.1M399.4 79.6h.1M397.5 79.7h.1M396.8 79.1h.1M392.2 73.8h.1M391.3 73.6h.1M402.5 80.5h.1M399.6 67.3h.1M396.2 80.7h.1M406.8 77.3h.1M405.7 78.5h.1M396.5 79.9h.1M393.8 77.5h.1M400.2 67.9h.1M405.4 69.6h.1M396.3 79.2h.1M399.7 67.7h.1M409.2 72.9h.1M391.4 75.5h.1M402.3 79.7h.1M400.0 80.4h.1M402.4 67.7h.1M399.2 67.8h.1M409.2 75.3h.1M395.3 69.0h.1M403.0 79.7h.1M409.9 72.8h.1M408.0 74.5h.1M407.5 76.8h.1M392.0 69.8h.1M405.1 68.4h.1M398.1 80.1h.1M400.0 67.3h.1M407.6 75.3h.1M394.0 78.2h.1M404.6 79.7h.1M397.4 79.8h.1M408.0 70.2h.1M391.2 73.4h.1M394.9 69.0h.1M391.5 72.0h.1M391.2 77.4h.1M408.5 73.5h.1M399.3 67.8h.1M407.6 76.7h.1M401.7 81.1h.1M399.2 68.3h.1M406.8 70.9h.1M408.2 76.1h.1M391.1 74.6h.1M408.2 69.8h.1M392.2 72.5h.1M390.4 73.0h.1M390.8 76.5h.1M392.5 71.2h.1M409.0 73.4h.1M391.0 71.7h.1M396.2 79.8h.1M406.0 69.1h.1M404.8 81.0h.1M403.4 80.8h.1M391.6 71.8h.1M405.7 77.8h.1M398.9 81.2h.1M408.2 72.0h.1M391.9 74.0h.1M393.1 76.4h.1M392.9 71.0h.1M395.7 69.2h.1M408.2 75.7h.1M397.3 68.5h.1M394.6 69.5h.1M392.0 77.0h.1M403.5 79.3h.1M397.9 68.2h.1M408.8 72.7h.1M392.0 73.4h.1M404.8 78.4h.1M407.7 78.2h.1M393.4 78.6h.1M409.0 74.5h.1M406.8 68.6h.1M403.1 79.9h.1M391.7 72.8h.1M407.5 68.4h.1M404.6 78.7h.1M404.5 79.7h.1M392.3 75.3h.1M397.5 68.5h.1M391.6 72.2h.1M400.0 80.3h.1M405.5 68.4h.1M397.6 80.2h.1M408.4 76.1h.1M405.4 80.0h.1M408.2 70.5h.1M409.5 76.3h.1M394.9 68.1h.1M407.2 71.2h.1M401.4 80.7h.1M402.8 68.6h.1M400.0 81.1h.1M392.4 74.9h.1M401.8 80.3h.1M408.8 73.5h.1M405.7 70.1h.1M404.8 80.1h.1M403.8 68.9h.1M407.5 76.5h.1M406.5 77.5h.1M401.1 66.7h.1M396.7 67.2h.1M405.7 79.8h.1M401.2 80.2h.1M399.3 68.0h.1M403.9 69.0h.1M392.3 70.8h.1M396.4 80.1h.1M404.7 78.8h.1M404.8 68.7h.1M408.2 77.8h.1M400.8 79.5h.1M392.6 68.9h.1M407.8 71.3h.1M392.0 74.9h.1M397.0 80.4h.1M395.9 80.0h.1M398.2 68.2h.1M392.2 73.5h.1M406.2 68.9h.1M393.8 68.4h.1M409.0 73.7h.1M402.6 79.5h.1M400.3 67.9h.1M394.7 68.1h.1M408.5 74.6h.1M399.8 80.1h.1M394.9 69.1h.1M398.0 67.9h.1M409.1 77.3h.1M407.7 71.1h.1M409.2 71.5h.1M393.0 71.5h.1M389.5 72.4h.1M408.2 72.6h.1M392.5 76.3h.1M391.9 77.0h.1M403.4 67.5h.1M407.4 77.0h.1M391.4 72.5h.1" stroke="#505050" stroke-width="0.55" stroke-linecap="round" fill="none"/>
<ellipse cx="409" cy="72.5" rx="2.4" ry="3.6" fill="#4a4a4a" filter="url(#b0)"/>
<path d="M412.5 74.9h.1M407.5 71.3h.1M410.8 78.5h.1M408.6 72.0h.1M410.6 71.6h.1M408.5 70.7h.1M411.8 72.7h.1M411.7 70.9h.1M408.3 68.5h.1M412.0 71.2h.1M410.5 72.6h.1M413.3 70.9h.1M407.8 72.9h.1M408.4 73.4h.1M407.6 73.0h.1M411.6 68.9h.1M407.5 78.3h.1M409.3 74.8h.1M407.9 73.1h.1M412.3 74.5h.1M409.2 69.2h.1M410.8 74.4h.1M410.6 74.7h.1M414.2 73.3h.1M409.6 77.6h.1M416.0 75.7h.1M413.9 67.8h.1M408.2 72.9h.1M409.5 73.6h.1M407.0 79.9h.1M411.9 72.1h.1M412.9 69.2h.1M410.1 72.0h.1M410.2 75.2h.1M408.4 75.9h.1M412.0 74.2h.1M412.7 72.0h.1M406.9 74.3h.1M412.0 77.1h.1M409.9 74.6h.1M413.3 73.0h.1M411.4 72.2h.1M409.6 75.9h.1M413.1 74.1h.1M410.3 73.0h.1M409.3 73.5h.1M410.6 77.8h.1M411.0 73.4h.1M410.3 73.5h.1M411.1 70.8h.1" stroke="#444" stroke-width="0.70" stroke-linecap="round" fill="none"/>
<line x1="408.60" y1="36.30" x2="408.60" y2="84.40" stroke="#555" stroke-width="0.9"/>
<line x1="384.00" y1="64.60" x2="437.00" y2="64.60" stroke="#555" stroke-width="0.9"/>
<line x1="384.00" y1="36.30" x2="437.00" y2="36.30" stroke="#666" stroke-width="0.7"/>
<line x1="437.00" y1="36.30" x2="437.00" y2="84.40" stroke="#666" stroke-width="0.7"/>
<line x1="384.00" y1="36.00" x2="384.00" y2="85.00" stroke="#111" stroke-width="1.3"/>
<line x1="383.40" y1="84.40" x2="437.30" y2="84.40" stroke="#111" stroke-width="1.3"/>
<line x1="386.00" y1="85.50" x2="437.00" y2="85.50" stroke="#222" stroke-width="1.0" stroke-dasharray="0.5 1.1"/>
<line x1="382.90" y1="36.30" x2="382.90" y2="82.40" stroke="#222" stroke-width="1.0" stroke-dasharray="0.5 1.1"/>
<text x="389.30" y="90.20" font-size="4.5" text-anchor="middle" fill="#444">0</text>
<text x="395.66" y="90.20" font-size="4.5" text-anchor="middle" fill="#444">10<tspan dy="-1.89" font-size="3.06">2</tspan></text>
<text x="408.91" y="90.20" font-size="4.5" text-anchor="middle" fill="#444">10<tspan dy="-1.89" font-size="3.06">3</tspan></text>
<text x="422.69" y="90.20" font-size="4.5" text-anchor="middle" fill="#444">10<tspan dy="-1.89" font-size="3.06">4</tspan></text>
<text x="434.88" y="90.20" font-size="4.5" text-anchor="middle" fill="#444">10<tspan dy="-1.89" font-size="3.06">5</tspan></text>
<text x="381.60" y="81.03" font-size="4.5" text-anchor="middle" transform="rotate(-90 381.60 81.03)" fill="#444">0</text>
<text x="381.60" y="74.78" font-size="4.5" text-anchor="middle" transform="rotate(-90 381.60 74.78)" fill="#444">10<tspan dy="-1.89" font-size="3.06">2</tspan></text>
<text x="381.60" y="62.76" font-size="4.5" text-anchor="middle" transform="rotate(-90 381.60 62.76)" fill="#444">10<tspan dy="-1.89" font-size="3.06">3</tspan></text>
<text x="381.60" y="50.73" font-size="4.5" text-anchor="middle" transform="rotate(-90 381.60 50.73)" fill="#444">10<tspan dy="-1.89" font-size="3.06">4</tspan></text>
<text x="381.60" y="39.67" font-size="4.5" text-anchor="middle" transform="rotate(-90 381.60 39.67)" fill="#444">10<tspan dy="-1.89" font-size="3.06">5</tspan></text>
<path d="M485.4 67.9h.1M494.0 72.1h.1M488.0 70.1h.1M490.0 66.1h.1M485.4 69.1h.1M481.6 49.4h.1M485.1 73.4h.1M481.9 72.0h.1M488.9 57.2h.1M473.5 49.5h.1M490.6 72.4h.1M485.4 42.6h.1M477.7 63.2h.1M476.9 53.0h.1M488.3 59.6h.1M483.7 71.9h.1M481.6 65.3h.1M485.1 81.7h.1M483.5 69.4h.1M488.9 76.5h.1M477.9 55.8h.1M478.9 54.5h.1M470.7 63.7h.1M486.9 51.7h.1M487.0 71.3h.1M476.0 60.5h.1M493.2 64.5h.1M484.7 73.8h.1M482.5 53.1h.1M478.3 56.5h.1M480.5 64.9h.1M491.0 53.3h.1M486.7 70.7h.1M478.0 61.9h.1M479.5 59.0h.1M482.1 63.9h.1M486.3 58.0h.1M484.7 69.0h.1M479.6 60.8h.1M484.5 51.3h.1M491.0 43.7h.1M477.8 52.4h.1M475.2 46.7h.1M487.9 57.3h.1M483.2 64.6h.1M494.3 67.3h.1M483.6 52.5h.1M474.4 49.2h.1M484.2 51.5h.1M486.5 71.0h.1M483.7 73.6h.1M480.5 55.2h.1M490.2 72.0h.1M480.8 47.6h.1M488.5 65.8h.1M478.0 58.3h.1M476.9 52.2h.1M492.0 49.0h.1M493.8 44.0h.1M483.2 68.3h.1M487.2 79.4h.1M484.9 70.0h.1M476.8 38.7h.1M486.1 56.2h.1M485.9 75.1h.1M493.9 65.6h.1M473.9 59.8h.1M468.8 59.9h.1M479.1 51.1h.1M470.6 52.6h.1M483.1 58.4h.1M478.4 64.1h.1M492.4 66.4h.1M481.9 56.6h.1M474.9 67.2h.1M483.0 57.3h.1M492.1 67.8h.1M487.0 51.0h.1M473.9 79.2h.1M481.6 66.2h.1M490.4 53.0h.1M476.5 54.8h.1M478.1 63.0h.1M492.4 71.5h.1M474.4 49.6h.1M467.3 61.7h.1M491.2 68.1h.1M473.0 72.8h.1M482.1 64.5h.1M477.7 41.9h.1M494.3 51.2h.1M484.5 47.7h.1M474.2 43.5h.1M486.1 59.5h.1M475.2 56.3h.1M478.1 71.8h.1M484.6 69.3h.1M483.7 75.2h.1M466.5 63.7h.1M486.0 56.1h.1M488.1 72.3h.1M491.9 68.2h.1M489.3 60.2h.1M492.0 69.8h.1M487.4 63.0h.1M480.9 63.2h.1M484.5 68.9h.1M473.1 63.0h.1M497.0 66.9h.1M489.2 60.5h.1" stroke="#888" stroke-width="0.70" stroke-linecap="round" fill="none"/>
<ellipse cx="485.60" cy="50.00" rx="3.70" ry="5.60" fill="#6e6e6e" filter="url(#b0)" transform="rotate(10 485.60 50.00)"/>
<ellipse cx="485.60" cy="50.00" rx="2.74" ry="4.14" fill="#707070" filter="url(#b1)" transform="rotate(10 485.60 50.00)"/>
<path d="M489.1 53.3h.1M489.2 52.5h.1M490.2 46.4h.1M483.2 55.9h.1M485.8 55.6h.1M489.7 46.4h.1M487.3 44.2h.1M487.3 44.5h.1M486.0 43.9h.1M489.2 51.1h.1M489.8 50.1h.1M487.7 43.7h.1M482.9 46.5h.1M483.4 45.5h.1M484.5 55.3h.1M485.5 43.7h.1M486.8 44.1h.1M483.9 45.3h.1M482.7 46.5h.1M486.8 43.5h.1M482.7 54.8h.1M483.2 55.0h.1M482.6 46.5h.1M487.7 53.9h.1M486.1 44.6h.1M482.5 54.5h.1M489.1 51.5h.1M485.1 43.7h.1M484.5 44.1h.1M481.5 51.5h.1M482.6 55.3h.1M485.9 55.8h.1M489.2 52.5h.1M486.7 55.1h.1M482.2 48.5h.1M482.0 53.0h.1M486.4 43.3h.1M489.6 53.9h.1M482.8 45.1h.1M489.2 50.1h.1M482.9 54.9h.1M485.0 55.7h.1M481.7 49.3h.1M487.8 45.3h.1M487.0 44.6h.1M484.0 45.6h.1M488.6 46.2h.1M487.2 54.4h.1M487.8 44.4h.1M490.2 48.5h.1M488.8 45.3h.1M481.6 50.3h.1M487.2 54.7h.1M487.8 54.4h.1M489.0 52.5h.1M483.6 55.3h.1M481.8 49.0h.1M489.2 45.1h.1M482.4 47.9h.1M489.6 52.0h.1M488.3 54.3h.1M490.0 49.2h.1M485.5 55.9h.1M489.1 51.7h.1M486.4 56.3h.1M489.2 51.9h.1M482.7 54.3h.1M488.9 46.2h.1M485.4 44.6h.1M486.0 42.7h.1" stroke="#505050" stroke-width="0.55" stroke-linecap="round" fill="none"/>
<path d="M482.0 43.6h.1M486.4 53.6h.1M486.6 48.5h.1M489.1 47.8h.1M485.5 49.5h.1M484.5 49.9h.1M490.2 54.0h.1M486.1 52.7h.1M480.3 48.1h.1M487.1 50.0h.1M478.5 54.1h.1M487.4 43.4h.1M484.0 52.4h.1M491.8 43.8h.1M481.6 56.5h.1M483.9 48.2h.1M483.0 49.4h.1M489.0 52.2h.1M481.2 48.3h.1M493.0 37.6h.1M484.6 45.8h.1M480.9 42.2h.1M494.6 43.3h.1M486.3 45.5h.1M488.0 51.9h.1M488.6 43.7h.1M488.6 51.6h.1M487.5 46.8h.1M482.5 50.7h.1M485.1 42.1h.1M487.9 50.1h.1M482.3 45.5h.1M485.2 51.9h.1M485.6 51.2h.1M492.6 51.3h.1M488.3 43.5h.1M483.7 47.7h.1M483.2 49.6h.1M486.1 51.2h.1M482.3 49.2h.1" stroke="#777" stroke-width="0.70" stroke-linecap="round" fill="none"/>
<path d="M481.3 70.4h.1M476.2 72.0h.1M479.4 75.0h.1M485.1 72.0h.1M479.4 74.1h.1M474.0 69.8h.1M479.5 76.5h.1M478.4 66.6h.1M480.4 72.7h.1M483.8 78.2h.1M469.4 70.1h.1M477.9 75.3h.1M491.6 69.4h.1M482.5 76.3h.1M477.0 73.2h.1M481.4 78.1h.1M489.1 71.1h.1M486.0 76.4h.1M492.5 67.0h.1M475.0 74.5h.1M466.6 65.9h.1M476.8 67.2h.1M477.7 72.2h.1M480.4 75.0h.1M497.0 72.3h.1M475.2 75.3h.1M485.8 59.5h.1M474.3 74.4h.1M474.2 77.4h.1M483.7 69.8h.1M462.9 71.3h.1M461.5 68.8h.1M488.2 63.6h.1M464.3 70.2h.1M485.9 77.9h.1M465.6 72.2h.1M471.8 75.2h.1M481.8 72.3h.1M474.3 71.8h.1M472.6 74.3h.1M482.0 66.2h.1M472.2 76.1h.1M474.1 80.6h.1M484.1 64.5h.1M466.4 72.5h.1M471.9 70.9h.1M480.3 69.5h.1M478.0 79.2h.1M463.0 79.9h.1M506.4 77.3h.1M474.1 80.6h.1M462.3 72.6h.1M468.4 67.7h.1M466.1 70.3h.1M483.7 75.2h.1M478.5 74.1h.1M469.4 71.6h.1M467.9 72.1h.1M469.6 78.7h.1M482.2 72.9h.1M481.4 67.9h.1M478.1 78.4h.1M468.2 68.5h.1M479.4 71.1h.1M473.5 71.2h.1M486.4 78.7h.1M472.0 75.9h.1M496.3 73.9h.1M470.6 72.2h.1M477.5 73.2h.1M470.4 76.3h.1M464.7 74.0h.1M465.8 73.1h.1M478.2 72.4h.1M475.3 65.3h.1M474.3 76.1h.1M482.6 70.5h.1M474.8 74.8h.1M486.5 74.2h.1M480.1 74.9h.1M494.5 74.7h.1M473.7 68.8h.1M472.4 76.4h.1M477.2 72.5h.1M474.7 76.6h.1M474.3 66.7h.1" stroke="#555" stroke-width="0.70" stroke-linecap="round" fill="none"/>
<path d="M464.8 79Q463.6 72 467.0 64.6Q469.4 62.6 471.2 66.2Q475 70 481.5 70.6Q483.4 72.6 487.4 74.2Q488.4 76 486.4 77.6Q483 79 481 80.2Q472 83 466.6 81.6z" fill="#666" stroke="#666" stroke-width="1.2" stroke-linejoin="round" filter="url(#b0)"/>
<path d="M466.4 78.4Q466 74 468.2 70.4Q472 72.6 477 74.6Q480.4 75.6 480.4 77.2Q479 78.8 476 79.6Q470 81 467.6 80z" fill="#999" filter="url(#b1)"/>
<ellipse cx="470.2" cy="76.4" rx="3.4" ry="2.5" fill="#f8f8f8" filter="url(#b1)"/>
<ellipse cx="481.0" cy="70.8" rx="1.2" ry="1.0" fill="#fff" filter="url(#b0)"/>
<line x1="482.60" y1="36.30" x2="482.60" y2="84.40" stroke="#555" stroke-width="0.9"/>
<line x1="458.50" y1="64.70" x2="511.40" y2="64.70" stroke="#555" stroke-width="0.9"/>
<line x1="458.50" y1="36.30" x2="511.40" y2="36.30" stroke="#666" stroke-width="0.7"/>
<line x1="511.40" y1="36.30" x2="511.40" y2="84.40" stroke="#666" stroke-width="0.7"/>
<line x1="458.50" y1="36.00" x2="458.50" y2="85.00" stroke="#111" stroke-width="1.3"/>
<line x1="457.90" y1="84.40" x2="511.70" y2="84.40" stroke="#111" stroke-width="1.3"/>
<line x1="460.50" y1="85.50" x2="511.40" y2="85.50" stroke="#222" stroke-width="1.0" stroke-dasharray="0.5 1.1"/>
<line x1="457.40" y1="36.30" x2="457.40" y2="82.40" stroke="#222" stroke-width="1.0" stroke-dasharray="0.5 1.1"/>
<text x="463.79" y="90.20" font-size="4.5" text-anchor="middle" fill="#444">0</text>
<text x="470.14" y="90.20" font-size="4.5" text-anchor="middle" fill="#444">10<tspan dy="-1.89" font-size="3.06">2</tspan></text>
<text x="483.36" y="90.20" font-size="4.5" text-anchor="middle" fill="#444">10<tspan dy="-1.89" font-size="3.06">3</tspan></text>
<text x="497.12" y="90.20" font-size="4.5" text-anchor="middle" fill="#444">10<tspan dy="-1.89" font-size="3.06">4</tspan></text>
<text x="509.28" y="90.20" font-size="4.5" text-anchor="middle" fill="#444">10<tspan dy="-1.89" font-size="3.06">5</tspan></text>
<text x="456.10" y="81.03" font-size="4.5" text-anchor="middle" transform="rotate(-90 456.10 81.03)" fill="#444">0</text>
<text x="456.10" y="74.78" font-size="4.5" text-anchor="middle" transform="rotate(-90 456.10 74.78)" fill="#444">10<tspan dy="-1.89" font-size="3.06">2</tspan></text>
<text x="456.10" y="62.76" font-size="4.5" text-anchor="middle" transform="rotate(-90 456.10 62.76)" fill="#444">10<tspan dy="-1.89" font-size="3.06">3</tspan></text>
<text x="456.10" y="50.73" font-size="4.5" text-anchor="middle" transform="rotate(-90 456.10 50.73)" fill="#444">10<tspan dy="-1.89" font-size="3.06">4</tspan></text>
<text x="456.10" y="39.67" font-size="4.5" text-anchor="middle" transform="rotate(-90 456.10 39.67)" fill="#444">10<tspan dy="-1.89" font-size="3.06">5</tspan></text>
<text x="306.60" y="74.20" font-size="10" textLength="23.80" lengthAdjust="spacingAndGlyphs" transform="rotate(-90 306.60 74.20)" fill="#0a0a0a" stroke="#0a0a0a" stroke-width="0.3">ic IgG</text>
<text x="377.20" y="74.90" font-size="10" textLength="25.50" lengthAdjust="spacingAndGlyphs" transform="rotate(-90 377.20 74.90)" fill="#0a0a0a" stroke="#0a0a0a" stroke-width="0.3">ic IgA</text>
<text x="450.30" y="76.20" font-size="10" textLength="28.00" lengthAdjust="spacingAndGlyphs" transform="rotate(-90 450.30 76.20)" fill="#0a0a0a" stroke="#0a0a0a" stroke-width="0.3">ic IgM</text>
<text x="328.00" y="98.50" font-size="9.6" textLength="31.00" lengthAdjust="spacingAndGlyphs" fill="#0a0a0a" stroke="#0a0a0a" stroke-width="0.3">mb IgG</text>
<text x="396.30" y="98.50" font-size="9.6" textLength="30.00" lengthAdjust="spacingAndGlyphs" fill="#0a0a0a" stroke="#0a0a0a" stroke-width="0.3">mb IgA</text>
<text x="471.70" y="98.50" font-size="9.6" textLength="32.40" lengthAdjust="spacingAndGlyphs" fill="#0a0a0a" stroke="#0a0a0a" stroke-width="0.3">mb IgM</text>
<text x="0.70" y="183.10" font-size="11.5" font-weight="bold" fill="#000" stroke="#000" stroke-width="0.3">C</text>
<text x="85.50" y="183.30" font-size="11.6" textLength="114.40" lengthAdjust="spacingAndGlyphs" fill="#0a0a0a" stroke="#0a0a0a" stroke-width="0.3">CD38 enriched LP cells</text>
<text x="45.00" y="198.50" font-size="9.9" textLength="48.60" lengthAdjust="spacingAndGlyphs" fill="#0a0a0a" stroke="#0a0a0a" stroke-width="0.3">Gated CD3-</text>
<polygon points="10.1,255.5 10.1,246.7 12.0,244.1 13.2,247.9 14.9,238.3 16.3,245.4 18.0,240.4 19.2,234.0 21.2,239.1 22.1,222.7 24.0,230.3 25.2,234.0 26.9,225.2 28.4,232.8 29.3,218.9 30.8,227.7 32.0,210.6 33.2,230.3 34.1,242.9 36.1,251.7 38.5,253.0 39.7,255.5" fill="#8c8c8c"/>
<polyline points="24.0,255.5 27.6,253.7 30.0,251.7 32.5,247.9 34.1,237.8 35.6,222.7 36.8,210.6 38.0,208.0 38.9,209.3 40.1,220.2 41.3,230.3 42.8,242.9 44.0,251.7 45.7,255.0 47.1,255.5" fill="none" stroke="#111" stroke-width="1.3" stroke-linejoin="round"/>
<polygon points="72.1,255.5 76.9,253.0 80.5,250.4 82.9,245.4 85.3,240.4 87.7,232.8 89.4,225.2 90.9,217.6 92.5,212.6 93.8,206.8 95.0,215.1 96.2,230.3 97.4,242.9 98.6,250.4 101.0,254.2 103.4,255.5" fill="#8c8c8c"/>
<polyline points="66.1,255.5 67.3,247.9 69.2,242.9 70.9,235.3 72.6,227.7 74.0,217.6 75.2,211.3 76.4,206.8 77.4,212.6 78.8,210.1 80.0,217.6 81.2,222.7 82.5,232.8 83.7,239.1 84.9,237.8 86.1,241.6 87.3,244.1 88.9,245.4 90.9,246.7 92.5,251.7 94.2,254.2 98.6,255.5" fill="none" stroke="#111" stroke-width="1.3" stroke-linejoin="round"/>
<line x1="9.60" y1="205.20" x2="61.90" y2="205.20" stroke="#111" stroke-width="1.3"/>
<line x1="61.30" y1="205.20" x2="61.30" y2="255.70" stroke="#111" stroke-width="1.2"/>
<line x1="9.60" y1="204.60" x2="9.60" y2="256.30" stroke="#111" stroke-width="1.3"/>
<line x1="9.00" y1="255.70" x2="61.90" y2="255.70" stroke="#111" stroke-width="1.3"/>
<line x1="11.60" y1="256.90" x2="61.30" y2="256.90" stroke="#222" stroke-width="1.1" stroke-dasharray="0.5 1.1"/>
<line x1="65.40" y1="205.20" x2="117.20" y2="205.20" stroke="#111" stroke-width="1.3"/>
<line x1="116.60" y1="205.20" x2="116.60" y2="255.70" stroke="#111" stroke-width="1.2"/>
<line x1="65.40" y1="204.60" x2="65.40" y2="256.30" stroke="#111" stroke-width="1.3"/>
<line x1="64.80" y1="255.70" x2="117.20" y2="255.70" stroke="#111" stroke-width="1.3"/>
<line x1="67.40" y1="256.90" x2="116.60" y2="256.90" stroke="#222" stroke-width="1.1" stroke-dasharray="0.5 1.1"/>
<text x="7.00" y="207.60" font-size="4.8" text-anchor="end" fill="#111" stroke="#111" stroke-width="0.1">100</text>
<text x="7.00" y="217.40" font-size="4.8" text-anchor="end" fill="#111" stroke="#111" stroke-width="0.1">80</text>
<text x="7.00" y="227.20" font-size="4.8" text-anchor="end" fill="#111" stroke="#111" stroke-width="0.1">60</text>
<text x="7.00" y="237.20" font-size="4.8" text-anchor="end" fill="#111" stroke="#111" stroke-width="0.1">40</text>
<text x="7.00" y="247.00" font-size="4.8" text-anchor="end" fill="#111" stroke="#111" stroke-width="0.1">20</text>
<text x="7.00" y="256.60" font-size="4.8" text-anchor="end" fill="#111" stroke="#111" stroke-width="0.1">0</text>
<text x="16.30" y="261.20" font-size="4.2" text-anchor="middle" fill="#333">0</text>
<text x="22.48" y="261.20" font-size="4.2" text-anchor="middle" fill="#333">10<tspan dy="-1.76" font-size="2.86">2</tspan></text>
<text x="35.35" y="261.20" font-size="4.2" text-anchor="middle" fill="#333">10<tspan dy="-1.76" font-size="2.86">3</tspan></text>
<text x="47.71" y="261.20" font-size="4.2" text-anchor="middle" fill="#333">10<tspan dy="-1.76" font-size="2.86">4</tspan></text>
<text x="58.52" y="261.20" font-size="4.2" text-anchor="middle" fill="#333">10<tspan dy="-1.76" font-size="2.86">5</tspan></text>
<text x="72.09" y="261.20" font-size="4.2" text-anchor="middle" fill="#333">0</text>
<text x="78.28" y="261.20" font-size="4.2" text-anchor="middle" fill="#333">10<tspan dy="-1.76" font-size="2.86">2</tspan></text>
<text x="91.15" y="261.20" font-size="4.2" text-anchor="middle" fill="#333">10<tspan dy="-1.76" font-size="2.86">3</tspan></text>
<text x="103.51" y="261.20" font-size="4.2" text-anchor="middle" fill="#333">10<tspan dy="-1.76" font-size="2.86">4</tspan></text>
<text x="114.33" y="261.20" font-size="4.2" text-anchor="middle" fill="#333">10<tspan dy="-1.76" font-size="2.86">5</tspan></text>
<text x="20.70" y="271.10" font-size="9.8" textLength="22.80" lengthAdjust="spacingAndGlyphs" fill="#0a0a0a" stroke="#0a0a0a" stroke-width="0.14">CD20</text>
<text x="73.60" y="271.10" font-size="9.8" textLength="28.40" lengthAdjust="spacingAndGlyphs" fill="#0a0a0a" stroke="#0a0a0a" stroke-width="0.14">CD138</text>
<rect x="122.70" y="209.00" width="8.00" height="8.00" fill="#fff" stroke="#111" stroke-width="1.2"/>
<rect x="122.20" y="223.50" width="8.80" height="9.20" fill="#8c8c8c"/>
<text x="134.40" y="216.30" font-size="10.5" textLength="22.50" lengthAdjust="spacingAndGlyphs" fill="#0a0a0a" stroke="#0a0a0a" stroke-width="0.3">CD38</text>
<text x="157.40" y="213.00" font-size="6.6" textLength="7.60" lengthAdjust="spacingAndGlyphs" fill="#0a0a0a" stroke="#0a0a0a" stroke-width="0.12">int</text>
<text x="134.40" y="230.20" font-size="10.5" textLength="22.50" lengthAdjust="spacingAndGlyphs" fill="#0a0a0a" stroke="#0a0a0a" stroke-width="0.3">CD38</text>
<text x="157.80" y="227.00" font-size="6.6" textLength="12.60" lengthAdjust="spacingAndGlyphs" fill="#0a0a0a" stroke="#0a0a0a" stroke-width="0.12">high</text>
<text x="186.00" y="199.10" font-size="9.8" textLength="45.60" lengthAdjust="spacingAndGlyphs" fill="#0a0a0a" stroke="#0a0a0a" stroke-width="0.3">Gated CD3</text>
<text x="232.00" y="196.00" font-size="7.5" textLength="2.80" lengthAdjust="spacingAndGlyphs" fill="#0a0a0a" stroke="#0a0a0a" stroke-width="0.3">-</text>
<text x="235.20" y="199.10" font-size="9.8" textLength="26.20" lengthAdjust="spacingAndGlyphs" fill="#0a0a0a" stroke="#0a0a0a" stroke-width="0.3">/CD38</text>
<text x="261.80" y="196.20" font-size="6.6" textLength="12.20" lengthAdjust="spacingAndGlyphs" fill="#0a0a0a" stroke="#0a0a0a" stroke-width="0.12">high</text>
<path d="M245.7 214.8h.1M242.1 218.3h.1M256.8 236.8h.1M235.5 236.2h.1M243.7 232.7h.1M228.1 233.4h.1M244.0 226.6h.1M252.9 217.6h.1M259.0 224.3h.1M235.8 238.6h.1M260.6 240.0h.1M222.6 233.1h.1M259.3 241.0h.1M249.6 229.1h.1M226.9 220.6h.1M206.7 238.6h.1M227.4 216.6h.1M231.2 222.3h.1M233.0 220.1h.1M241.5 239.9h.1M251.4 217.7h.1M244.3 234.4h.1M236.3 211.5h.1M236.0 240.2h.1" stroke="#b8b8b8" stroke-width="0.70" stroke-linecap="round" fill="none"/>
<path d="M234.9 216.2h.1M259.9 208.8h.1M240.4 215.6h.1M249.7 210.2h.1M247.5 210.1h.1M243.7 210.0h.1M247.5 210.3h.1M244.3 211.0h.1M233.5 218.2h.1M251.4 207.8h.1M244.8 217.9h.1M232.7 220.2h.1M253.2 209.2h.1M254.3 204.7h.1M231.8 222.3h.1M236.2 214.1h.1M252.5 209.4h.1M253.0 214.5h.1M240.5 216.4h.1M250.2 205.2h.1M249.6 207.1h.1M245.4 214.1h.1M243.0 213.9h.1M240.1 218.7h.1M243.7 208.3h.1M241.9 214.0h.1M248.9 211.4h.1M239.3 215.5h.1M238.2 218.1h.1M234.5 212.8h.1M243.8 214.4h.1M245.6 207.2h.1M243.6 211.9h.1M248.2 210.8h.1M246.0 213.0h.1M243.6 211.7h.1M240.0 215.3h.1" stroke="#999" stroke-width="0.70" stroke-linecap="round" fill="none"/>
<ellipse cx="246.4" cy="210.9" rx="7.6" ry="2.9" transform="rotate(-32 246.4 210.9)" fill="#828282" filter="url(#b0)"/>
<ellipse cx="246.8" cy="210.7" rx="5.2" ry="1.4" transform="rotate(-32 246.8 210.7)" fill="#909090" filter="url(#b0)"/>
<ellipse cx="217.4" cy="243.8" rx="1.5" ry="1.25" fill="#707070" filter="url(#b0)"/>
<ellipse cx="217.4" cy="246.7" rx="1.5" ry="1.25" fill="#707070" filter="url(#b0)"/>
<ellipse cx="218.6" cy="251.0" rx="1.7" ry="0.8" fill="#8a8a8a" filter="url(#b0)"/>
<path d="M219.4 247.2h.1M220.0 246.3h.1M220.0 246.7h.1M218.8 246.2h.1M216.8 249.9h.1M217.5 246.6h.1M220.5 249.3h.1M217.1 246.7h.1M216.6 249.5h.1M217.9 247.3h.1" stroke="#aaa" stroke-width="0.70" stroke-linecap="round" fill="none"/>
<line x1="230.50" y1="203.30" x2="230.50" y2="253.60" stroke="#333" stroke-width="1.25"/>
<line x1="202.40" y1="232.60" x2="262.70" y2="232.60" stroke="#333" stroke-width="1.25"/>
<line x1="202.40" y1="203.30" x2="262.70" y2="203.30" stroke="#555" stroke-width="0.8"/>
<line x1="262.70" y1="203.30" x2="262.70" y2="253.60" stroke="#555" stroke-width="0.8"/>
<line x1="202.40" y1="203.00" x2="202.40" y2="254.20" stroke="#111" stroke-width="1.3"/>
<line x1="201.80" y1="253.60" x2="263.00" y2="253.60" stroke="#111" stroke-width="1.3"/>
<line x1="204.40" y1="254.80" x2="262.70" y2="254.80" stroke="#222" stroke-width="1.0" stroke-dasharray="0.5 1.2"/>
<line x1="201.20" y1="203.30" x2="201.20" y2="251.60" stroke="#222" stroke-width="1.0" stroke-dasharray="0.5 1.2"/>
<text x="193.20" y="209.00" font-size="5.7" textLength="5.60" lengthAdjust="spacingAndGlyphs" fill="#222" stroke="#222" stroke-width="0.1">10</text>
<text x="199.00" y="206.60" font-size="3.8" fill="#222">5</text>
<text x="193.20" y="220.30" font-size="5.7" textLength="5.60" lengthAdjust="spacingAndGlyphs" fill="#222" stroke="#222" stroke-width="0.1">10</text>
<text x="199.00" y="217.90" font-size="3.8" fill="#222">4</text>
<text x="193.20" y="231.50" font-size="5.7" textLength="5.60" lengthAdjust="spacingAndGlyphs" fill="#222" stroke="#222" stroke-width="0.1">10</text>
<text x="199.00" y="229.10" font-size="3.8" fill="#222">3</text>
<text x="193.20" y="245.00" font-size="5.7" textLength="5.60" lengthAdjust="spacingAndGlyphs" fill="#222" stroke="#222" stroke-width="0.1">10</text>
<text x="199.00" y="242.60" font-size="3.8" fill="#222">2</text>
<text x="196.00" y="250.20" font-size="5.7" fill="#222" stroke="#222" stroke-width="0.1">0</text>
<text x="212.90" y="261.30" font-size="5.7" textLength="5.60" lengthAdjust="spacingAndGlyphs" fill="#222" stroke="#222" stroke-width="0.1">10</text>
<text x="218.70" y="258.90" font-size="3.8" fill="#222">2</text>
<text x="226.80" y="261.30" font-size="5.7" textLength="5.60" lengthAdjust="spacingAndGlyphs" fill="#222" stroke="#222" stroke-width="0.1">10</text>
<text x="232.60" y="258.90" font-size="3.8" fill="#222">3</text>
<text x="240.80" y="261.30" font-size="5.7" textLength="5.60" lengthAdjust="spacingAndGlyphs" fill="#222" stroke="#222" stroke-width="0.1">10</text>
<text x="246.60" y="258.90" font-size="3.8" fill="#222">4</text>
<text x="255.30" y="261.30" font-size="5.7" textLength="5.60" lengthAdjust="spacingAndGlyphs" fill="#222" stroke="#222" stroke-width="0.1">10</text>
<text x="261.10" y="258.90" font-size="3.8" fill="#222">5</text>
<text x="206.20" y="261.30" font-size="5.7" fill="#222" stroke="#222" stroke-width="0.1">0</text>
<text x="189.70" y="243.40" font-size="10.4" textLength="25.60" lengthAdjust="spacingAndGlyphs" transform="rotate(-90 189.70 243.40)" fill="#0a0a0a" stroke="#0a0a0a" stroke-width="0.3">ic IgA</text>
<text x="213.00" y="273.90" font-size="10.0" textLength="31.80" lengthAdjust="spacingAndGlyphs" fill="#0a0a0a" stroke="#0a0a0a" stroke-width="0.15">mb IgA</text>
<text x="287.40" y="182.60" font-size="11.5" font-weight="bold" fill="#000" stroke="#000" stroke-width="0.3">D</text>
<text x="348.00" y="196.40" font-size="12.2" textLength="17.80" lengthAdjust="spacingAndGlyphs" fill="#0a0a0a" stroke="#0a0a0a" stroke-width="0.3">Igα</text>
<text x="428.40" y="196.40" font-size="12.2" textLength="16.40" lengthAdjust="spacingAndGlyphs" fill="#0a0a0a" stroke="#0a0a0a" stroke-width="0.3">Igβ</text>
<line x1="327.00" y1="198.20" x2="327.00" y2="284.80" stroke="#222" stroke-width="1.0"/>
<line x1="326.50" y1="284.30" x2="390.40" y2="284.30" stroke="#222" stroke-width="1.0"/>
<line x1="325.20" y1="198.60" x2="327.00" y2="198.60" stroke="#222" stroke-width="0.9"/>
<text x="324.40" y="201.50" font-size="8.0" text-anchor="end" textLength="6.94" lengthAdjust="spacingAndGlyphs" fill="#1a1a1a" stroke="#1a1a1a" stroke-width="0.16">10</text>
<line x1="325.20" y1="215.74" x2="327.00" y2="215.74" stroke="#222" stroke-width="0.9"/>
<text x="324.40" y="218.64" font-size="8.0" text-anchor="end" textLength="3.47" lengthAdjust="spacingAndGlyphs" fill="#1a1a1a" stroke="#1a1a1a" stroke-width="0.16">8</text>
<line x1="325.20" y1="232.88" x2="327.00" y2="232.88" stroke="#222" stroke-width="0.9"/>
<text x="324.40" y="235.78" font-size="8.0" text-anchor="end" textLength="3.47" lengthAdjust="spacingAndGlyphs" fill="#1a1a1a" stroke="#1a1a1a" stroke-width="0.16">6</text>
<line x1="325.20" y1="250.02" x2="327.00" y2="250.02" stroke="#222" stroke-width="0.9"/>
<text x="324.40" y="252.92" font-size="8.0" text-anchor="end" textLength="3.47" lengthAdjust="spacingAndGlyphs" fill="#1a1a1a" stroke="#1a1a1a" stroke-width="0.16">4</text>
<line x1="325.20" y1="267.16" x2="327.00" y2="267.16" stroke="#222" stroke-width="0.9"/>
<text x="324.40" y="270.06" font-size="8.0" text-anchor="end" textLength="3.47" lengthAdjust="spacingAndGlyphs" fill="#1a1a1a" stroke="#1a1a1a" stroke-width="0.16">2</text>
<line x1="325.20" y1="284.30" x2="327.00" y2="284.30" stroke="#222" stroke-width="0.9"/>
<text x="324.40" y="287.20" font-size="8.0" text-anchor="end" textLength="3.47" lengthAdjust="spacingAndGlyphs" fill="#1a1a1a" stroke="#1a1a1a" stroke-width="0.16">0</text>
<line x1="343.80" y1="284.30" x2="343.80" y2="286.10" stroke="#222" stroke-width="0.9"/>
<line x1="373.00" y1="284.30" x2="373.00" y2="286.10" stroke="#222" stroke-width="0.9"/>
<rect x="334.65" y="271.40" width="5.55" height="12.90" fill="#111" stroke="#111" stroke-width="0.9"/>
<line x1="337.43" y1="271.40" x2="337.43" y2="268.20" stroke="#2a2a2a" stroke-width="1.0"/>
<line x1="334.73" y1="268.20" x2="340.12" y2="268.20" stroke="#2a2a2a" stroke-width="1.05"/>
<rect x="341.10" y="270.10" width="5.55" height="14.20" fill="#fff" stroke="#111" stroke-width="0.9"/>
<line x1="343.88" y1="270.10" x2="343.88" y2="268.20" stroke="#2a2a2a" stroke-width="1.0"/>
<line x1="341.18" y1="268.20" x2="346.57" y2="268.20" stroke="#2a2a2a" stroke-width="1.05"/>
<rect x="347.55" y="265.30" width="5.55" height="19.00" fill="#757575" stroke="#111" stroke-width="0.9"/>
<line x1="350.32" y1="265.30" x2="350.32" y2="255.50" stroke="#2a2a2a" stroke-width="1.0"/>
<line x1="347.62" y1="255.50" x2="353.02" y2="255.50" stroke="#2a2a2a" stroke-width="1.05"/>
<rect x="363.65" y="249.20" width="5.55" height="35.10" fill="#111" stroke="#111" stroke-width="0.9"/>
<line x1="366.43" y1="249.20" x2="366.43" y2="246.70" stroke="#2a2a2a" stroke-width="1.0"/>
<line x1="363.73" y1="246.70" x2="369.12" y2="246.70" stroke="#2a2a2a" stroke-width="1.05"/>
<rect x="370.10" y="239.40" width="5.55" height="44.90" fill="#fff" stroke="#111" stroke-width="0.9"/>
<line x1="372.88" y1="239.40" x2="372.88" y2="232.70" stroke="#2a2a2a" stroke-width="1.0"/>
<line x1="370.18" y1="232.70" x2="375.57" y2="232.70" stroke="#2a2a2a" stroke-width="1.05"/>
<rect x="376.55" y="222.00" width="5.55" height="62.30" fill="#757575" stroke="#111" stroke-width="0.9"/>
<line x1="379.32" y1="222.00" x2="379.32" y2="205.90" stroke="#2a2a2a" stroke-width="1.0"/>
<line x1="376.62" y1="205.90" x2="382.02" y2="205.90" stroke="#2a2a2a" stroke-width="1.05"/>
<text x="311.60" y="263.20" font-size="9.0" textLength="52.80" lengthAdjust="spacingAndGlyphs" transform="rotate(-90 311.60 263.20)" fill="#0a0a0a" stroke="#0a0a0a" stroke-width="0.12">mRNA (A.U.)</text>
<text x="347.00" y="292.50" font-size="9.2" text-anchor="end" textLength="24.80" lengthAdjust="spacingAndGlyphs" transform="rotate(-45 347.00 292.50)" fill="#0a0a0a" stroke="#0a0a0a" stroke-width="0.2">BMPC</text>
<text x="374.20" y="294.80" font-size="9.2" text-anchor="end" textLength="35.60" lengthAdjust="spacingAndGlyphs" transform="rotate(-45 374.20 294.80)" fill="#0a0a0a" stroke="#0a0a0a" stroke-width="0.2">Memory</text>
<line x1="406.00" y1="198.00" x2="406.00" y2="284.00" stroke="#222" stroke-width="1.0"/>
<line x1="405.50" y1="283.50" x2="471.60" y2="283.50" stroke="#222" stroke-width="1.0"/>
<line x1="404.20" y1="198.40" x2="406.00" y2="198.40" stroke="#222" stroke-width="0.9"/>
<text x="403.20" y="201.30" font-size="8.0" text-anchor="end" textLength="3.47" lengthAdjust="spacingAndGlyphs" fill="#1a1a1a" stroke="#1a1a1a" stroke-width="0.16">4</text>
<line x1="404.20" y1="219.68" x2="406.00" y2="219.68" stroke="#222" stroke-width="0.9"/>
<text x="403.20" y="222.58" font-size="8.0" text-anchor="end" textLength="3.47" lengthAdjust="spacingAndGlyphs" fill="#1a1a1a" stroke="#1a1a1a" stroke-width="0.16">3</text>
<line x1="404.20" y1="240.95" x2="406.00" y2="240.95" stroke="#222" stroke-width="0.9"/>
<text x="403.20" y="243.85" font-size="8.0" text-anchor="end" textLength="3.47" lengthAdjust="spacingAndGlyphs" fill="#1a1a1a" stroke="#1a1a1a" stroke-width="0.16">2</text>
<line x1="404.20" y1="262.23" x2="406.00" y2="262.23" stroke="#222" stroke-width="0.9"/>
<text x="403.20" y="265.12" font-size="8.0" text-anchor="end" textLength="3.47" lengthAdjust="spacingAndGlyphs" fill="#1a1a1a" stroke="#1a1a1a" stroke-width="0.16">1</text>
<line x1="404.20" y1="283.50" x2="406.00" y2="283.50" stroke="#222" stroke-width="0.9"/>
<text x="403.20" y="286.40" font-size="8.0" text-anchor="end" textLength="3.47" lengthAdjust="spacingAndGlyphs" fill="#1a1a1a" stroke="#1a1a1a" stroke-width="0.16">0</text>
<line x1="424.30" y1="283.50" x2="424.30" y2="285.30" stroke="#222" stroke-width="0.9"/>
<line x1="454.20" y1="283.50" x2="454.20" y2="285.30" stroke="#222" stroke-width="0.9"/>
<rect x="414.65" y="268.00" width="5.55" height="15.50" fill="#111" stroke="#111" stroke-width="0.9"/>
<line x1="417.43" y1="268.00" x2="417.43" y2="267.20" stroke="#2a2a2a" stroke-width="1.0"/>
<line x1="414.73" y1="267.20" x2="420.12" y2="267.20" stroke="#2a2a2a" stroke-width="1.05"/>
<rect x="421.10" y="269.90" width="5.55" height="13.60" fill="#fff" stroke="#111" stroke-width="0.9"/>
<line x1="423.88" y1="269.90" x2="423.88" y2="269.00" stroke="#2a2a2a" stroke-width="1.0"/>
<line x1="421.18" y1="269.00" x2="426.57" y2="269.00" stroke="#2a2a2a" stroke-width="1.05"/>
<rect x="427.55" y="272.00" width="5.55" height="11.50" fill="#757575" stroke="#111" stroke-width="0.9"/>
<line x1="430.32" y1="272.00" x2="430.32" y2="271.40" stroke="#2a2a2a" stroke-width="1.0"/>
<line x1="427.62" y1="271.40" x2="433.02" y2="271.40" stroke="#2a2a2a" stroke-width="1.05"/>
<rect x="445.15" y="224.80" width="5.55" height="58.70" fill="#111" stroke="#111" stroke-width="0.9"/>
<rect x="451.60" y="226.20" width="5.55" height="57.30" fill="#fff" stroke="#111" stroke-width="0.9"/>
<line x1="454.38" y1="226.20" x2="454.38" y2="222.20" stroke="#2a2a2a" stroke-width="1.0"/>
<line x1="451.68" y1="222.20" x2="457.07" y2="222.20" stroke="#2a2a2a" stroke-width="1.05"/>
<rect x="458.05" y="222.80" width="5.55" height="60.70" fill="#757575" stroke="#111" stroke-width="0.9"/>
<line x1="460.82" y1="222.80" x2="460.82" y2="209.60" stroke="#2a2a2a" stroke-width="1.0"/>
<line x1="458.12" y1="209.60" x2="463.52" y2="209.60" stroke="#2a2a2a" stroke-width="1.05"/>
<text x="427.00" y="292.00" font-size="9.2" text-anchor="end" textLength="24.80" lengthAdjust="spacingAndGlyphs" transform="rotate(-45 427.00 292.00)" fill="#0a0a0a" stroke="#0a0a0a" stroke-width="0.2">BMPC</text>
<text x="455.60" y="294.80" font-size="9.2" text-anchor="end" textLength="35.60" lengthAdjust="spacingAndGlyphs" transform="rotate(-45 455.60 294.80)" fill="#0a0a0a" stroke="#0a0a0a" stroke-width="0.2">Memory</text>
<rect x="476.40" y="192.30" width="7.80" height="7.70" fill="#111"/>
<rect x="476.90" y="206.20" width="6.80" height="6.80" fill="#fff" stroke="#111" stroke-width="1.0"/>
<rect x="476.40" y="219.30" width="7.80" height="7.40" fill="#7d7d7d" stroke="#333" stroke-width="0.6"/>
<text x="490.30" y="199.50" font-size="10.6" textLength="13.50" lengthAdjust="spacingAndGlyphs" fill="#0a0a0a" stroke="#0a0a0a" stroke-width="0.3">IgG</text>
<text x="490.30" y="213.30" font-size="10.6" textLength="13.00" lengthAdjust="spacingAndGlyphs" fill="#0a0a0a" stroke="#0a0a0a" stroke-width="0.3">IgA</text>
<text x="490.30" y="226.20" font-size="10.6" textLength="16.00" lengthAdjust="spacingAndGlyphs" fill="#0a0a0a" stroke="#0a0a0a" stroke-width="0.3">IgM</text>
<text x="1.00" y="341.80" font-size="11.5" font-weight="bold" textLength="6.30" lengthAdjust="spacingAndGlyphs" fill="#000" stroke="#000" stroke-width="0.3">E</text>
<text x="39.80" y="342.90" font-size="11.4" textLength="27.90" lengthAdjust="spacingAndGlyphs" fill="#0a0a0a" stroke="#0a0a0a" stroke-width="0.3">ic IgG</text>
<text x="68.70" y="339.80" font-size="10.8" fill="#0a0a0a">+</text>
<text x="89.80" y="342.90" font-size="11.4" textLength="26.90" lengthAdjust="spacingAndGlyphs" fill="#0a0a0a" stroke="#0a0a0a" stroke-width="0.3">ic IgA</text>
<text x="117.30" y="339.80" font-size="10.8" fill="#0a0a0a">+</text>
<text x="135.70" y="342.90" font-size="11.4" textLength="29.20" lengthAdjust="spacingAndGlyphs" fill="#0a0a0a" stroke="#0a0a0a" stroke-width="0.3">ic IgM</text>
<text x="165.50" y="339.80" font-size="10.8" fill="#0a0a0a">+</text>
<polygon points="35.8,384.1 38.3,380.4 40.3,372.9 42.3,363.5 43.8,354.1 45.3,351.1 46.3,357.9 47.2,356.0 48.0,354.9 49.1,361.6 50.6,359.7 51.8,367.2 52.8,374.7 53.8,381.1 55.3,384.1" fill="#858585"/>
<polyline points="30.1,384.1 33.9,381.5 37.0,377.7 38.5,373.6 39.4,366.1 40.2,355.6 41.2,349.2 41.7,348.1 42.3,350.4 43.4,359.7 44.5,370.2 45.5,378.9 46.7,382.2 48.1,383.7 50.7,384.1" fill="none" stroke="#151515" stroke-width="1.2" stroke-linejoin="round"/>
<polygon points="85.5,384.1 88.0,381.1 90.0,374.7 92.0,365.4 93.7,354.9 95.5,350.4 96.5,356.4 97.8,354.9 98.9,361.6 100.4,362.4 101.5,369.1 102.5,372.9 103.5,379.6 104.6,384.1" fill="#858585"/>
<polyline points="79.9,384.1 83.7,381.5 86.8,377.7 88.3,373.6 89.2,366.1 90.0,355.6 91.0,349.2 91.5,348.1 92.1,350.4 93.2,359.7 94.2,370.2 95.3,378.9 96.5,382.2 97.9,383.7 100.5,384.1" fill="none" stroke="#151515" stroke-width="1.2" stroke-linejoin="round"/>
<polygon points="136.3,384.1 138.3,380.4 140.1,372.9 141.6,363.5 142.8,354.1 143.8,350.4 144.9,354.9 146.3,352.2 147.5,358.6 149.0,359.7 150.5,367.2 152.1,372.9 153.8,378.9 156.4,384.1" fill="#858585"/>
<polyline points="128.3,384.1 132.1,381.5 135.2,377.7 136.7,373.6 137.6,366.1 138.4,355.6 139.4,349.2 139.9,348.1 140.5,350.4 141.6,359.7 142.7,370.2 143.7,378.9 144.9,382.2 146.3,383.7 148.9,384.1" fill="none" stroke="#151515" stroke-width="1.2" stroke-linejoin="round"/>
<polygon points="41.3,446.3 42.3,438.6 43.4,425.8 44.4,416.2 45.1,412.7 45.9,417.0 46.5,416.6 47.6,425.8 48.7,433.9 50.1,441.3 51.8,445.5 53.8,446.3" fill="#858585"/>
<polyline points="31.7,446.3 37.0,445.1 38.7,437.8 39.8,426.6 40.7,415.4 41.4,410.0 41.8,409.6 42.2,410.8 42.8,415.4 43.8,426.6 44.9,437.8 46.1,444.4 48.7,446.3" fill="none" stroke="#151515" stroke-width="1.0" stroke-linejoin="round"/>
<polygon points="91.1,446.3 92.1,438.6 93.0,427.0 93.9,416.2 94.5,412.3 95.3,419.3 96.0,422.4 97.1,430.9 98.3,438.6 99.5,444.0 101.0,446.3" fill="#858585"/>
<polyline points="80.9,446.3 86.2,445.1 87.9,437.8 89.0,426.6 89.9,415.4 90.6,410.0 91.0,409.6 91.4,410.8 92.0,415.4 93.0,426.6 94.1,437.8 95.3,444.4 97.9,446.3" fill="none" stroke="#151515" stroke-width="1.0" stroke-linejoin="round"/>
<polygon points="139.3,446.3 140.3,438.6 141.2,427.0 142.1,416.2 142.7,411.6 143.6,417.7 144.5,420.8 145.9,423.1 146.9,430.9 148.1,437.8 149.5,443.2 151.2,446.3" fill="#858585"/>
<polyline points="129.5,446.3 134.8,445.1 136.5,437.8 137.6,426.6 138.4,415.4 139.2,410.0 139.6,409.6 140.0,410.8 140.6,415.4 141.6,426.6 142.7,437.8 143.9,444.4 146.5,446.3" fill="none" stroke="#151515" stroke-width="1.2" stroke-linejoin="round"/>
<line x1="29.80" y1="346.60" x2="175.90" y2="346.60" stroke="#222" stroke-width="0.9"/>
<line x1="175.90" y1="346.60" x2="175.90" y2="384.10" stroke="#222" stroke-width="0.9"/>
<line x1="78.50" y1="346.60" x2="78.50" y2="384.10" stroke="#222" stroke-width="0.9"/>
<line x1="127.30" y1="346.60" x2="127.30" y2="384.10" stroke="#222" stroke-width="0.9"/>
<line x1="29.80" y1="346.30" x2="29.80" y2="384.60" stroke="#111" stroke-width="1.1"/>
<line x1="29.30" y1="384.10" x2="176.20" y2="384.10" stroke="#111" stroke-width="1.1"/>
<text x="26.60" y="351.50" font-size="7.6" text-anchor="end" textLength="9.90" lengthAdjust="spacingAndGlyphs" fill="#222">100</text>
<text x="25.60" y="386.70" font-size="7.6" text-anchor="end" fill="#222">0</text>
<text x="38.00" y="391.10" font-size="5.2" text-anchor="middle" fill="#2a2a2a">0</text>
<text x="42.70" y="391.10" font-size="5.2" text-anchor="middle" fill="#2a2a2a">10<tspan dy="-2.18" font-size="3.54">2</tspan></text>
<text x="53.30" y="391.10" font-size="5.2" text-anchor="middle" fill="#2a2a2a">10<tspan dy="-2.18" font-size="3.54">3</tspan></text>
<text x="63.60" y="391.10" font-size="5.2" text-anchor="middle" fill="#2a2a2a">10<tspan dy="-2.18" font-size="3.54">4</tspan></text>
<text x="73.80" y="391.10" font-size="5.2" text-anchor="middle" fill="#2a2a2a">10<tspan dy="-2.18" font-size="3.54">5</tspan></text>
<text x="83.50" y="391.10" font-size="5.2" text-anchor="middle" fill="#2a2a2a">0</text>
<text x="88.50" y="391.10" font-size="5.2" text-anchor="middle" fill="#2a2a2a">10<tspan dy="-2.18" font-size="3.54">2</tspan></text>
<text x="103.00" y="391.10" font-size="5.2" text-anchor="middle" fill="#2a2a2a">10<tspan dy="-2.18" font-size="3.54">3</tspan></text>
<text x="113.70" y="391.10" font-size="5.2" text-anchor="middle" fill="#2a2a2a">10<tspan dy="-2.18" font-size="3.54">4</tspan></text>
<text x="123.50" y="391.10" font-size="5.2" text-anchor="middle" fill="#2a2a2a">10<tspan dy="-2.18" font-size="3.54">5</tspan></text>
<text x="132.50" y="391.10" font-size="5.2" text-anchor="middle" fill="#2a2a2a">0</text>
<text x="137.50" y="391.10" font-size="5.2" text-anchor="middle" fill="#2a2a2a">10<tspan dy="-2.18" font-size="3.54">2</tspan></text>
<text x="152.50" y="391.10" font-size="5.2" text-anchor="middle" fill="#2a2a2a">10<tspan dy="-2.18" font-size="3.54">3</tspan></text>
<text x="162.60" y="391.10" font-size="5.2" text-anchor="middle" fill="#2a2a2a">10<tspan dy="-2.18" font-size="3.54">4</tspan></text>
<text x="172.10" y="391.10" font-size="5.2" text-anchor="middle" fill="#2a2a2a">10<tspan dy="-2.18" font-size="3.54">5</tspan></text>
<line x1="29.80" y1="407.70" x2="175.90" y2="407.70" stroke="#222" stroke-width="0.9"/>
<line x1="175.90" y1="407.70" x2="175.90" y2="446.30" stroke="#222" stroke-width="0.9"/>
<line x1="78.50" y1="407.70" x2="78.50" y2="446.30" stroke="#222" stroke-width="0.9"/>
<line x1="127.30" y1="407.70" x2="127.30" y2="446.30" stroke="#222" stroke-width="0.9"/>
<line x1="29.80" y1="407.40" x2="29.80" y2="446.80" stroke="#111" stroke-width="1.1"/>
<line x1="29.30" y1="446.30" x2="176.20" y2="446.30" stroke="#111" stroke-width="1.1"/>
<text x="26.60" y="412.60" font-size="7.6" text-anchor="end" textLength="9.90" lengthAdjust="spacingAndGlyphs" fill="#222">100</text>
<text x="25.60" y="448.90" font-size="7.6" text-anchor="end" fill="#222">0</text>
<text x="38.00" y="453.30" font-size="5.2" text-anchor="middle" fill="#2a2a2a">0</text>
<text x="42.70" y="453.30" font-size="5.2" text-anchor="middle" fill="#2a2a2a">10<tspan dy="-2.18" font-size="3.54">2</tspan></text>
<text x="53.30" y="453.30" font-size="5.2" text-anchor="middle" fill="#2a2a2a">10<tspan dy="-2.18" font-size="3.54">3</tspan></text>
<text x="63.60" y="453.30" font-size="5.2" text-anchor="middle" fill="#2a2a2a">10<tspan dy="-2.18" font-size="3.54">4</tspan></text>
<text x="73.80" y="453.30" font-size="5.2" text-anchor="middle" fill="#2a2a2a">10<tspan dy="-2.18" font-size="3.54">5</tspan></text>
<text x="83.50" y="453.30" font-size="5.2" text-anchor="middle" fill="#2a2a2a">0</text>
<text x="88.50" y="453.30" font-size="5.2" text-anchor="middle" fill="#2a2a2a">10<tspan dy="-2.18" font-size="3.54">2</tspan></text>
<text x="103.00" y="453.30" font-size="5.2" text-anchor="middle" fill="#2a2a2a">10<tspan dy="-2.18" font-size="3.54">3</tspan></text>
<text x="113.70" y="453.30" font-size="5.2" text-anchor="middle" fill="#2a2a2a">10<tspan dy="-2.18" font-size="3.54">4</tspan></text>
<text x="123.50" y="453.30" font-size="5.2" text-anchor="middle" fill="#2a2a2a">10<tspan dy="-2.18" font-size="3.54">5</tspan></text>
<text x="132.50" y="453.30" font-size="5.2" text-anchor="middle" fill="#2a2a2a">0</text>
<text x="137.50" y="453.30" font-size="5.2" text-anchor="middle" fill="#2a2a2a">10<tspan dy="-2.18" font-size="3.54">2</tspan></text>
<text x="152.50" y="453.30" font-size="5.2" text-anchor="middle" fill="#2a2a2a">10<tspan dy="-2.18" font-size="3.54">3</tspan></text>
<text x="162.60" y="453.30" font-size="5.2" text-anchor="middle" fill="#2a2a2a">10<tspan dy="-2.18" font-size="3.54">4</tspan></text>
<text x="172.10" y="453.30" font-size="5.2" text-anchor="middle" fill="#2a2a2a">10<tspan dy="-2.18" font-size="3.54">5</tspan></text>
<line x1="31.20" y1="398.40" x2="78.50" y2="398.40" stroke="#111" stroke-width="0.9"/>
<path d="M77.4 396.4L82.5 398.4L77.4 400.4z" fill="#111"/>
<text x="84.90" y="400.90" font-size="10.0" textLength="23.20" lengthAdjust="spacingAndGlyphs" fill="#0a0a0a" stroke="#0a0a0a" stroke-width="0.3">ic Igα</text>
<line x1="31.20" y1="459.40" x2="78.50" y2="459.40" stroke="#111" stroke-width="0.9"/>
<path d="M77.4 457.4L82.5 459.4L77.4 461.4z" fill="#111"/>
<text x="84.90" y="461.70" font-size="10.0" textLength="22.00" lengthAdjust="spacingAndGlyphs" fill="#0a0a0a" stroke="#0a0a0a" stroke-width="0.3">ic Igβ</text>
<text x="15.80" y="419.20" font-size="11.2" textLength="54.00" lengthAdjust="spacingAndGlyphs" transform="rotate(-90 15.80 419.20)" fill="#0a0a0a" stroke="#0a0a0a" stroke-width="0.1">% Maximum</text>
<text x="287.60" y="341.10" font-size="11.5" font-weight="bold" textLength="6.00" lengthAdjust="spacingAndGlyphs" fill="#000" stroke="#000" stroke-width="0.3">F</text>
<line x1="311.50" y1="349.70" x2="311.50" y2="429.70" stroke="#222" stroke-width="1.0"/>
<line x1="311.00" y1="429.20" x2="373.00" y2="429.20" stroke="#222" stroke-width="1.0"/>
<line x1="309.70" y1="350.10" x2="311.50" y2="350.10" stroke="#222" stroke-width="0.9"/>
<text x="308.60" y="353.00" font-size="8.0" text-anchor="end" textLength="8.90" lengthAdjust="spacingAndGlyphs" fill="#1a1a1a" stroke="#1a1a1a" stroke-width="0.16">3.0</text>
<line x1="309.70" y1="369.88" x2="311.50" y2="369.88" stroke="#222" stroke-width="0.9"/>
<text x="308.60" y="372.77" font-size="8.0" text-anchor="end" textLength="8.90" lengthAdjust="spacingAndGlyphs" fill="#1a1a1a" stroke="#1a1a1a" stroke-width="0.16">2.5</text>
<line x1="309.70" y1="389.65" x2="311.50" y2="389.65" stroke="#222" stroke-width="0.9"/>
<text x="308.60" y="392.55" font-size="8.0" text-anchor="end" textLength="8.90" lengthAdjust="spacingAndGlyphs" fill="#1a1a1a" stroke="#1a1a1a" stroke-width="0.16">2.0</text>
<line x1="309.70" y1="409.43" x2="311.50" y2="409.43" stroke="#222" stroke-width="0.9"/>
<text x="308.60" y="412.32" font-size="8.0" text-anchor="end" textLength="8.90" lengthAdjust="spacingAndGlyphs" fill="#1a1a1a" stroke="#1a1a1a" stroke-width="0.16">1.5</text>
<line x1="309.70" y1="429.20" x2="311.50" y2="429.20" stroke="#222" stroke-width="0.9"/>
<text x="308.60" y="432.10" font-size="8.0" text-anchor="end" textLength="8.90" lengthAdjust="spacingAndGlyphs" fill="#1a1a1a" stroke="#1a1a1a" stroke-width="0.16">1.0</text>
<rect x="317.85" y="364.60" width="6.20" height="64.60" fill="#111" stroke="#111" stroke-width="0.9"/>
<line x1="320.95" y1="364.60" x2="320.95" y2="362.80" stroke="#2a2a2a" stroke-width="1.0"/>
<line x1="318.25" y1="362.80" x2="323.65" y2="362.80" stroke="#2a2a2a" stroke-width="1.05"/>
<rect x="324.95" y="419.80" width="6.10" height="9.40" fill="#fff" stroke="#111" stroke-width="0.9"/>
<line x1="328.00" y1="419.80" x2="328.00" y2="411.90" stroke="#2a2a2a" stroke-width="1.0"/>
<line x1="325.30" y1="411.90" x2="330.70" y2="411.90" stroke="#2a2a2a" stroke-width="1.05"/>
<rect x="336.15" y="384.00" width="6.40" height="45.20" fill="#111" stroke="#111" stroke-width="0.9"/>
<line x1="339.35" y1="384.00" x2="339.35" y2="368.20" stroke="#2a2a2a" stroke-width="1.0"/>
<line x1="336.65" y1="368.20" x2="342.05" y2="368.20" stroke="#2a2a2a" stroke-width="1.05"/>
<rect x="343.45" y="426.20" width="5.90" height="3.00" fill="#fff" stroke="#111" stroke-width="0.9"/>
<line x1="346.40" y1="426.20" x2="346.40" y2="422.60" stroke="#2a2a2a" stroke-width="1.0"/>
<line x1="343.70" y1="422.60" x2="349.10" y2="422.60" stroke="#2a2a2a" stroke-width="1.05"/>
<rect x="354.15" y="389.60" width="6.50" height="39.60" fill="#111" stroke="#111" stroke-width="0.9"/>
<line x1="357.40" y1="389.60" x2="357.40" y2="383.30" stroke="#2a2a2a" stroke-width="1.0"/>
<line x1="354.70" y1="383.30" x2="360.10" y2="383.30" stroke="#2a2a2a" stroke-width="1.05"/>
<rect x="361.55" y="423.30" width="6.00" height="5.90" fill="#fff" stroke="#111" stroke-width="0.9"/>
<line x1="364.55" y1="423.30" x2="364.55" y2="421.10" stroke="#2a2a2a" stroke-width="1.0"/>
<line x1="361.85" y1="421.10" x2="367.25" y2="421.10" stroke="#2a2a2a" stroke-width="1.05"/>
<line x1="324.40" y1="429.20" x2="324.40" y2="431.00" stroke="#222" stroke-width="0.9"/>
<line x1="342.40" y1="429.20" x2="342.40" y2="431.00" stroke="#222" stroke-width="0.9"/>
<line x1="360.60" y1="429.20" x2="360.60" y2="431.00" stroke="#222" stroke-width="0.9"/>
<text x="294.60" y="415.20" font-size="9.6" textLength="60.00" lengthAdjust="spacingAndGlyphs" transform="rotate(-90 294.60 415.20)" fill="#0a0a0a" stroke="#0a0a0a" stroke-width="0.15">Blimp-1 (rMFI)</text>
<text x="327.40" y="437.00" font-size="10.2" text-anchor="end" textLength="14.60" lengthAdjust="spacingAndGlyphs" transform="rotate(-45 327.40 437.00)" fill="#0a0a0a" stroke="#0a0a0a" stroke-width="0.3">IgG</text>
<text x="345.90" y="437.00" font-size="10.2" text-anchor="end" textLength="14.20" lengthAdjust="spacingAndGlyphs" transform="rotate(-45 345.90 437.00)" fill="#0a0a0a" stroke="#0a0a0a" stroke-width="0.3">IgA</text>
<text x="365.60" y="437.60" font-size="10.2" text-anchor="end" textLength="16.80" lengthAdjust="spacingAndGlyphs" transform="rotate(-45 365.60 437.60)" fill="#0a0a0a" stroke="#0a0a0a" stroke-width="0.3">IgM</text>
<line x1="396.60" y1="349.70" x2="396.60" y2="430.30" stroke="#222" stroke-width="1.0"/>
<line x1="396.10" y1="429.80" x2="458.00" y2="429.80" stroke="#222" stroke-width="1.0"/>
<line x1="394.80" y1="350.10" x2="396.60" y2="350.10" stroke="#222" stroke-width="0.9"/>
<text x="392.00" y="353.00" font-size="8.0" text-anchor="end" textLength="3.47" lengthAdjust="spacingAndGlyphs" fill="#1a1a1a" stroke="#1a1a1a" stroke-width="0.16">7</text>
<line x1="394.80" y1="363.38" x2="396.60" y2="363.38" stroke="#222" stroke-width="0.9"/>
<text x="392.00" y="366.28" font-size="8.0" text-anchor="end" textLength="3.47" lengthAdjust="spacingAndGlyphs" fill="#1a1a1a" stroke="#1a1a1a" stroke-width="0.16">6</text>
<line x1="394.80" y1="376.67" x2="396.60" y2="376.67" stroke="#222" stroke-width="0.9"/>
<text x="392.00" y="379.57" font-size="8.0" text-anchor="end" textLength="3.47" lengthAdjust="spacingAndGlyphs" fill="#1a1a1a" stroke="#1a1a1a" stroke-width="0.16">5</text>
<line x1="394.80" y1="389.95" x2="396.60" y2="389.95" stroke="#222" stroke-width="0.9"/>
<text x="392.00" y="392.85" font-size="8.0" text-anchor="end" textLength="3.47" lengthAdjust="spacingAndGlyphs" fill="#1a1a1a" stroke="#1a1a1a" stroke-width="0.16">4</text>
<line x1="394.80" y1="403.23" x2="396.60" y2="403.23" stroke="#222" stroke-width="0.9"/>
<text x="392.00" y="406.13" font-size="8.0" text-anchor="end" textLength="3.47" lengthAdjust="spacingAndGlyphs" fill="#1a1a1a" stroke="#1a1a1a" stroke-width="0.16">3</text>
<line x1="394.80" y1="416.52" x2="396.60" y2="416.52" stroke="#222" stroke-width="0.9"/>
<text x="392.00" y="419.42" font-size="8.0" text-anchor="end" textLength="3.47" lengthAdjust="spacingAndGlyphs" fill="#1a1a1a" stroke="#1a1a1a" stroke-width="0.16">2</text>
<line x1="394.80" y1="429.80" x2="396.60" y2="429.80" stroke="#222" stroke-width="0.9"/>
<text x="392.00" y="432.70" font-size="8.0" text-anchor="end" textLength="3.47" lengthAdjust="spacingAndGlyphs" fill="#1a1a1a" stroke="#1a1a1a" stroke-width="0.16">1</text>
<rect x="402.35" y="426.90" width="6.25" height="2.90" fill="#111" stroke="#111" stroke-width="0.9"/>
<rect x="409.50" y="368.20" width="6.25" height="61.60" fill="#fff" stroke="#111" stroke-width="0.9"/>
<line x1="412.62" y1="368.20" x2="412.62" y2="366.50" stroke="#2a2a2a" stroke-width="1.0"/>
<line x1="409.92" y1="366.50" x2="415.32" y2="366.50" stroke="#2a2a2a" stroke-width="1.05"/>
<rect x="420.85" y="425.70" width="6.25" height="4.10" fill="#111" stroke="#111" stroke-width="0.9"/>
<rect x="428.00" y="355.20" width="6.25" height="74.60" fill="#fff" stroke="#111" stroke-width="0.9"/>
<line x1="431.12" y1="355.20" x2="431.12" y2="354.80" stroke="#2a2a2a" stroke-width="1.0"/>
<line x1="428.42" y1="354.80" x2="433.82" y2="354.80" stroke="#2a2a2a" stroke-width="1.05"/>
<rect x="439.45" y="426.30" width="6.25" height="3.50" fill="#111" stroke="#111" stroke-width="0.9"/>
<rect x="446.60" y="358.90" width="6.25" height="70.90" fill="#fff" stroke="#111" stroke-width="0.9"/>
<line x1="449.72" y1="358.90" x2="449.72" y2="358.50" stroke="#2a2a2a" stroke-width="1.0"/>
<line x1="447.02" y1="358.50" x2="452.42" y2="358.50" stroke="#2a2a2a" stroke-width="1.05"/>
<line x1="409.00" y1="429.80" x2="409.00" y2="431.60" stroke="#222" stroke-width="0.9"/>
<line x1="427.50" y1="429.80" x2="427.50" y2="431.60" stroke="#222" stroke-width="0.9"/>
<line x1="446.20" y1="429.80" x2="446.20" y2="431.60" stroke="#222" stroke-width="0.9"/>
<text x="383.6" y="410.8" font-size="9.2" fill="#111" stroke="#111" stroke-width="0.12" transform="rotate(-90 383.6 410.8)" textLength="49.4" lengthAdjust="spacingAndGlyphs"><tspan font-style="italic">Pax-5</tspan> (rMFI)</text>
<text x="413.60" y="437.60" font-size="10.2" text-anchor="end" textLength="14.60" lengthAdjust="spacingAndGlyphs" transform="rotate(-45 413.60 437.60)" fill="#0a0a0a" stroke="#0a0a0a" stroke-width="0.3">IgG</text>
<text x="431.80" y="437.50" font-size="10.2" text-anchor="end" textLength="14.20" lengthAdjust="spacingAndGlyphs" transform="rotate(-45 431.80 437.50)" fill="#0a0a0a" stroke="#0a0a0a" stroke-width="0.3">IgA</text>
<text x="451.40" y="437.80" font-size="10.2" text-anchor="end" textLength="16.80" lengthAdjust="spacingAndGlyphs" transform="rotate(-45 451.40 437.80)" fill="#0a0a0a" stroke="#0a0a0a" stroke-width="0.3">IgM</text>
<rect x="471.00" y="356.80" width="8.00" height="8.00" fill="#111"/>
<rect x="471.50" y="370.80" width="7.20" height="7.20" fill="#fff" stroke="#111" stroke-width="1.0"/>
<text x="482.80" y="364.80" font-size="10.6" textLength="30.80" lengthAdjust="spacingAndGlyphs" fill="#0a0a0a" stroke="#0a0a0a" stroke-width="0.3">BM-PCs</text>
<text x="483.00" y="377.40" font-size="10.6" textLength="36.00" lengthAdjust="spacingAndGlyphs" fill="#0a0a0a" stroke="#0a0a0a" stroke-width="0.3">Memory</text>
</g>
</svg>
</body>
</html>
